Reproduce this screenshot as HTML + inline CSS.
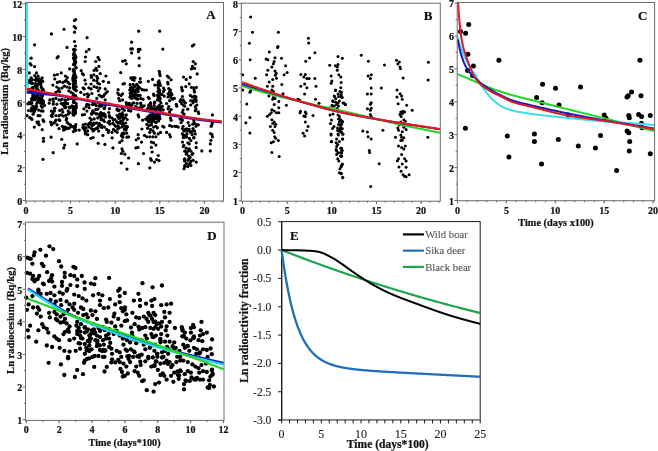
<!DOCTYPE html><html><head><meta charset="utf-8"><style>html,body{margin:0;padding:0;background:#fff;}svg{display:block;will-change:transform;}</style></head><body><svg width="658" height="451" viewBox="0 0 658 451"><rect width="658" height="451" fill="#fff"/><g fill="#000"><circle cx="75.7" cy="19.5" r="1.6"/><circle cx="74.5" cy="20.5" r="1.6"/><circle cx="74.2" cy="26.6" r="1.6"/><circle cx="75.7" cy="28.1" r="1.6"/><circle cx="74.5" cy="32.2" r="1.6"/><circle cx="64.0" cy="29.3" r="1.6"/><circle cx="51.4" cy="33.9" r="1.6"/><circle cx="34.6" cy="44.8" r="1.6"/><circle cx="87.1" cy="37.7" r="1.6"/><circle cx="74.5" cy="41.5" r="1.6"/><circle cx="75.4" cy="46.0" r="1.6"/><circle cx="67.0" cy="47.4" r="1.6"/><circle cx="89.0" cy="49.4" r="1.6"/><circle cx="86.3" cy="51.7" r="1.6"/><circle cx="85.5" cy="57.0" r="1.6"/><circle cx="85.2" cy="61.5" r="1.6"/><circle cx="98.0" cy="57.4" r="1.6"/><circle cx="99.2" cy="59.7" r="1.6"/><circle cx="95.7" cy="61.5" r="1.6"/><circle cx="98.9" cy="66.4" r="1.6"/><circle cx="58.2" cy="56.5" r="1.6"/><circle cx="57.1" cy="57.8" r="1.6"/><circle cx="31.1" cy="58.2" r="1.6"/><circle cx="30.1" cy="63.5" r="1.6"/><circle cx="31.1" cy="65.0" r="1.6"/><circle cx="34.6" cy="66.6" r="1.6"/><circle cx="122.8" cy="61.2" r="1.6"/><circle cx="138.7" cy="31.2" r="1.6"/><circle cx="159.7" cy="31.2" r="1.6"/><circle cx="131.6" cy="42.2" r="1.6"/><circle cx="130.8" cy="48.9" r="1.6"/><circle cx="132.4" cy="48.9" r="1.6"/><circle cx="131.6" cy="52.9" r="1.6"/><circle cx="138.4" cy="49.4" r="1.6"/><circle cx="140.0" cy="49.4" r="1.6"/><circle cx="138.4" cy="51.7" r="1.6"/><circle cx="162.8" cy="49.1" r="1.6"/><circle cx="139.2" cy="58.1" r="1.6"/><circle cx="139.2" cy="65.7" r="1.6"/><circle cx="125.2" cy="60.5" r="1.6"/><circle cx="126.3" cy="63.8" r="1.6"/><circle cx="192.4" cy="45.9" r="1.6"/><circle cx="193.9" cy="44.8" r="1.6"/><circle cx="193.2" cy="61.6" r="1.6"/><circle cx="195.4" cy="63.8" r="1.6"/><circle cx="192.4" cy="66.4" r="1.6"/><circle cx="74.5" cy="59.6" r="1.6"/><circle cx="75.8" cy="57.8" r="1.6"/><circle cx="74.7" cy="60.2" r="1.6"/><circle cx="73.8" cy="58.7" r="1.6"/><circle cx="75.0" cy="64.1" r="1.6"/><circle cx="73.6" cy="54.8" r="1.6"/><circle cx="73.5" cy="64.4" r="1.6"/><circle cx="75.2" cy="49.8" r="1.6"/><circle cx="76.0" cy="67.3" r="1.6"/><circle cx="75.1" cy="60.7" r="1.6"/><circle cx="73.7" cy="49.3" r="1.6"/><circle cx="74.7" cy="50.1" r="1.6"/><circle cx="73.8" cy="53.6" r="1.6"/><circle cx="73.4" cy="57.8" r="1.6"/><circle cx="74.5" cy="65.0" r="1.6"/><circle cx="74.7" cy="61.2" r="1.6"/><circle cx="74.6" cy="61.6" r="1.6"/><circle cx="74.5" cy="54.3" r="1.6"/><circle cx="76.0" cy="67.9" r="1.6"/><circle cx="75.6" cy="62.4" r="1.6"/><circle cx="74.2" cy="53.4" r="1.6"/><circle cx="74.1" cy="50.3" r="1.6"/><circle cx="75.4" cy="56.6" r="1.6"/><circle cx="75.6" cy="56.3" r="1.6"/><circle cx="76.2" cy="107.8" r="1.6"/><circle cx="72.9" cy="77.9" r="1.6"/><circle cx="76.0" cy="90.1" r="1.6"/><circle cx="76.2" cy="86.7" r="1.6"/><circle cx="73.1" cy="97.6" r="1.6"/><circle cx="75.5" cy="80.7" r="1.6"/><circle cx="73.2" cy="83.6" r="1.6"/><circle cx="76.2" cy="103.6" r="1.6"/><circle cx="73.3" cy="79.6" r="1.6"/><circle cx="73.2" cy="70.8" r="1.6"/><circle cx="75.6" cy="76.4" r="1.6"/><circle cx="74.8" cy="89.0" r="1.6"/><circle cx="73.5" cy="102.4" r="1.6"/><circle cx="73.3" cy="98.3" r="1.6"/><circle cx="73.3" cy="87.8" r="1.6"/><circle cx="73.6" cy="80.7" r="1.6"/><circle cx="76.2" cy="105.8" r="1.6"/><circle cx="73.9" cy="109.6" r="1.6"/><circle cx="73.6" cy="86.5" r="1.6"/><circle cx="75.8" cy="98.2" r="1.6"/><circle cx="73.2" cy="114.5" r="1.6"/><circle cx="73.6" cy="80.1" r="1.6"/><circle cx="75.5" cy="83.5" r="1.6"/><circle cx="73.9" cy="71.4" r="1.6"/><circle cx="73.2" cy="95.4" r="1.6"/><circle cx="73.7" cy="96.3" r="1.6"/><circle cx="74.2" cy="89.3" r="1.6"/><circle cx="76.2" cy="90.7" r="1.6"/><circle cx="74.9" cy="108.7" r="1.6"/><circle cx="73.5" cy="75.2" r="1.6"/><circle cx="76.0" cy="106.4" r="1.6"/><circle cx="73.7" cy="76.9" r="1.6"/><circle cx="75.4" cy="112.2" r="1.6"/><circle cx="73.6" cy="112.7" r="1.6"/><circle cx="75.9" cy="96.4" r="1.6"/><circle cx="74.3" cy="72.9" r="1.6"/><circle cx="73.0" cy="113.2" r="1.6"/><circle cx="73.7" cy="101.1" r="1.6"/><circle cx="73.8" cy="106.7" r="1.6"/><circle cx="74.9" cy="81.8" r="1.6"/><circle cx="73.5" cy="101.9" r="1.6"/><circle cx="73.1" cy="78.7" r="1.6"/><circle cx="74.8" cy="108.1" r="1.6"/><circle cx="75.0" cy="81.2" r="1.6"/><circle cx="76.0" cy="77.6" r="1.6"/><circle cx="73.0" cy="80.7" r="1.6"/><circle cx="74.4" cy="70.8" r="1.6"/><circle cx="73.5" cy="85.3" r="1.6"/><circle cx="74.8" cy="74.2" r="1.6"/><circle cx="74.1" cy="109.9" r="1.6"/><circle cx="76.2" cy="98.9" r="1.6"/><circle cx="75.3" cy="95.5" r="1.6"/><circle cx="73.4" cy="69.6" r="1.6"/><circle cx="73.0" cy="110.8" r="1.6"/><circle cx="75.3" cy="113.3" r="1.6"/><circle cx="73.0" cy="97.9" r="1.6"/><circle cx="74.5" cy="102.3" r="1.6"/><circle cx="74.0" cy="115.0" r="1.6"/><circle cx="73.2" cy="93.7" r="1.6"/><circle cx="75.4" cy="110.3" r="1.6"/><circle cx="75.4" cy="127.0" r="1.6"/><circle cx="75.6" cy="130.6" r="1.6"/><circle cx="74.1" cy="126.6" r="1.6"/><circle cx="76.0" cy="129.8" r="1.6"/><circle cx="74.3" cy="128.4" r="1.6"/><circle cx="75.8" cy="124.7" r="1.6"/><circle cx="98.9" cy="125.2" r="1.6"/><circle cx="97.7" cy="127.7" r="1.6"/><circle cx="84.2" cy="128.0" r="1.6"/><circle cx="108.8" cy="130.7" r="1.6"/><circle cx="101.7" cy="125.3" r="1.6"/><circle cx="101.8" cy="127.4" r="1.6"/><circle cx="93.9" cy="130.2" r="1.6"/><circle cx="84.3" cy="129.3" r="1.6"/><circle cx="82.8" cy="127.6" r="1.6"/><circle cx="95.0" cy="123.5" r="1.6"/><circle cx="100.9" cy="126.5" r="1.6"/><circle cx="98.6" cy="131.1" r="1.6"/><circle cx="29.3" cy="72.9" r="1.6"/><circle cx="36.5" cy="72.9" r="1.6"/><circle cx="34.6" cy="75.6" r="1.6"/><circle cx="38.1" cy="76.0" r="1.6"/><circle cx="31.2" cy="77.9" r="1.6"/><circle cx="36.2" cy="77.9" r="1.6"/><circle cx="42.2" cy="77.9" r="1.6"/><circle cx="39.2" cy="78.6" r="1.6"/><circle cx="32.3" cy="79.8" r="1.6"/><circle cx="33.0" cy="94.8" r="1.6"/><circle cx="31.5" cy="83.3" r="1.6"/><circle cx="42.1" cy="94.3" r="1.6"/><circle cx="35.1" cy="99.6" r="1.6"/><circle cx="33.4" cy="94.5" r="1.6"/><circle cx="31.5" cy="89.2" r="1.6"/><circle cx="40.6" cy="100.1" r="1.6"/><circle cx="41.7" cy="88.1" r="1.6"/><circle cx="37.2" cy="86.6" r="1.6"/><circle cx="30.5" cy="90.7" r="1.6"/><circle cx="41.1" cy="98.6" r="1.6"/><circle cx="39.2" cy="100.9" r="1.6"/><circle cx="32.7" cy="83.3" r="1.6"/><circle cx="35.3" cy="85.7" r="1.6"/><circle cx="31.7" cy="88.8" r="1.6"/><circle cx="37.9" cy="90.6" r="1.6"/><circle cx="33.2" cy="98.4" r="1.6"/><circle cx="43.2" cy="89.7" r="1.6"/><circle cx="29.6" cy="80.2" r="1.6"/><circle cx="41.6" cy="80.4" r="1.6"/><circle cx="39.1" cy="92.3" r="1.6"/><circle cx="33.1" cy="97.3" r="1.6"/><circle cx="28.8" cy="82.6" r="1.6"/><circle cx="35.3" cy="80.1" r="1.6"/><circle cx="40.9" cy="84.8" r="1.6"/><circle cx="30.6" cy="80.6" r="1.6"/><circle cx="37.9" cy="89.5" r="1.6"/><circle cx="37.9" cy="94.2" r="1.6"/><circle cx="40.6" cy="101.1" r="1.6"/><circle cx="38.8" cy="84.0" r="1.6"/><circle cx="35.6" cy="83.5" r="1.6"/><circle cx="28.7" cy="90.1" r="1.6"/><circle cx="39.2" cy="83.5" r="1.6"/><circle cx="32.6" cy="87.3" r="1.6"/><circle cx="39.0" cy="91.2" r="1.6"/><circle cx="37.7" cy="96.5" r="1.6"/><circle cx="34.4" cy="97.3" r="1.6"/><circle cx="42.1" cy="81.5" r="1.6"/><circle cx="42.5" cy="95.8" r="1.6"/><circle cx="30.4" cy="89.7" r="1.6"/><circle cx="37.9" cy="100.0" r="1.6"/><circle cx="34.2" cy="92.3" r="1.6"/><circle cx="41.7" cy="97.4" r="1.6"/><circle cx="42.7" cy="89.9" r="1.6"/><circle cx="38.3" cy="84.1" r="1.6"/><circle cx="39.3" cy="97.9" r="1.6"/><circle cx="38.1" cy="95.6" r="1.6"/><circle cx="31.7" cy="99.7" r="1.6"/><circle cx="43.2" cy="101.5" r="1.6"/><circle cx="36.6" cy="97.3" r="1.6"/><circle cx="33.3" cy="100.0" r="1.6"/><circle cx="41.3" cy="87.3" r="1.6"/><circle cx="29.7" cy="89.4" r="1.6"/><circle cx="36.8" cy="96.8" r="1.6"/><circle cx="35.8" cy="80.1" r="1.6"/><circle cx="40.6" cy="80.9" r="1.6"/><circle cx="40.5" cy="83.4" r="1.6"/><circle cx="33.5" cy="97.2" r="1.6"/><circle cx="30.6" cy="82.8" r="1.6"/><circle cx="36.2" cy="95.8" r="1.6"/><circle cx="41.1" cy="95.0" r="1.6"/><circle cx="42.7" cy="90.6" r="1.6"/><circle cx="42.7" cy="81.4" r="1.6"/><circle cx="31.8" cy="91.3" r="1.6"/><circle cx="32.9" cy="95.9" r="1.6"/><circle cx="38.1" cy="91.3" r="1.6"/><circle cx="41.2" cy="92.1" r="1.6"/><circle cx="33.2" cy="88.1" r="1.6"/><circle cx="41.2" cy="99.8" r="1.6"/><circle cx="31.6" cy="98.6" r="1.6"/><circle cx="43.0" cy="91.3" r="1.6"/><circle cx="37.1" cy="84.0" r="1.6"/><circle cx="36.5" cy="90.8" r="1.6"/><circle cx="37.6" cy="80.1" r="1.6"/><circle cx="43.0" cy="91.1" r="1.6"/><circle cx="34.5" cy="97.5" r="1.6"/><circle cx="36.9" cy="90.5" r="1.6"/><circle cx="38.9" cy="81.0" r="1.6"/><circle cx="36.6" cy="88.8" r="1.6"/><circle cx="42.9" cy="100.3" r="1.6"/><circle cx="32.5" cy="90.1" r="1.6"/><circle cx="30.4" cy="89.3" r="1.6"/><circle cx="40.7" cy="99.8" r="1.6"/><circle cx="35.6" cy="86.6" r="1.6"/><circle cx="54.4" cy="75.2" r="1.6"/><circle cx="57.4" cy="74.5" r="1.6"/><circle cx="61.2" cy="72.9" r="1.6"/><circle cx="54.8" cy="79.0" r="1.6"/><circle cx="65.4" cy="76.0" r="1.6"/><circle cx="67.3" cy="77.5" r="1.6"/><circle cx="66.2" cy="80.2" r="1.6"/><circle cx="52.9" cy="85.1" r="1.6"/><circle cx="57.4" cy="82.4" r="1.6"/><circle cx="59.7" cy="81.7" r="1.6"/><circle cx="62.8" cy="82.4" r="1.6"/><circle cx="65.0" cy="81.3" r="1.6"/><circle cx="68.1" cy="82.4" r="1.6"/><circle cx="69.6" cy="84.0" r="1.6"/><circle cx="56.7" cy="87.0" r="1.6"/><circle cx="59.0" cy="88.5" r="1.6"/><circle cx="62.0" cy="88.1" r="1.6"/><circle cx="64.3" cy="86.2" r="1.6"/><circle cx="66.9" cy="87.0" r="1.6"/><circle cx="69.6" cy="87.8" r="1.6"/><circle cx="68.8" cy="90.8" r="1.6"/><circle cx="71.1" cy="92.3" r="1.6"/><circle cx="58.2" cy="90.8" r="1.6"/><circle cx="59.7" cy="91.6" r="1.6"/><circle cx="55.9" cy="92.3" r="1.6"/><circle cx="49.8" cy="99.9" r="1.6"/><circle cx="52.9" cy="99.2" r="1.6"/><circle cx="55.9" cy="98.4" r="1.6"/><circle cx="59.0" cy="99.9" r="1.6"/><circle cx="62.0" cy="99.2" r="1.6"/><circle cx="65.0" cy="99.9" r="1.6"/><circle cx="68.1" cy="99.2" r="1.6"/><circle cx="71.1" cy="98.4" r="1.6"/><circle cx="69.6" cy="68.8" r="1.6"/><circle cx="81.2" cy="70.7" r="1.6"/><circle cx="82.4" cy="73.7" r="1.6"/><circle cx="83.5" cy="74.8" r="1.6"/><circle cx="85.0" cy="80.2" r="1.6"/><circle cx="85.8" cy="84.0" r="1.6"/><circle cx="83.1" cy="87.8" r="1.6"/><circle cx="84.3" cy="88.9" r="1.6"/><circle cx="80.8" cy="92.3" r="1.6"/><circle cx="84.3" cy="94.6" r="1.6"/><circle cx="87.3" cy="93.8" r="1.6"/><circle cx="88.8" cy="95.0" r="1.6"/><circle cx="91.9" cy="93.5" r="1.6"/><circle cx="87.7" cy="96.9" r="1.6"/><circle cx="94.1" cy="70.3" r="1.6"/><circle cx="96.8" cy="70.3" r="1.6"/><circle cx="96.0" cy="68.4" r="1.6"/><circle cx="91.1" cy="75.6" r="1.6"/><circle cx="93.8" cy="74.8" r="1.6"/><circle cx="96.8" cy="76.4" r="1.6"/><circle cx="91.5" cy="77.5" r="1.6"/><circle cx="93.8" cy="80.2" r="1.6"/><circle cx="97.6" cy="78.3" r="1.6"/><circle cx="96.8" cy="80.9" r="1.6"/><circle cx="100.2" cy="73.7" r="1.6"/><circle cx="91.1" cy="84.0" r="1.6"/><circle cx="97.9" cy="83.2" r="1.6"/><circle cx="99.5" cy="84.0" r="1.6"/><circle cx="88.8" cy="87.8" r="1.6"/><circle cx="91.1" cy="88.9" r="1.6"/><circle cx="94.1" cy="86.6" r="1.6"/><circle cx="96.8" cy="87.4" r="1.6"/><circle cx="99.8" cy="88.1" r="1.6"/><circle cx="98.3" cy="90.8" r="1.6"/><circle cx="103.3" cy="81.3" r="1.6"/><circle cx="105.9" cy="76.0" r="1.6"/><circle cx="108.6" cy="82.4" r="1.6"/><circle cx="105.2" cy="88.9" r="1.6"/><circle cx="107.4" cy="91.6" r="1.6"/><circle cx="105.9" cy="93.1" r="1.6"/><circle cx="104.4" cy="94.6" r="1.6"/><circle cx="103.6" cy="96.1" r="1.6"/><circle cx="99.1" cy="95.0" r="1.6"/><circle cx="100.6" cy="96.1" r="1.6"/><circle cx="102.1" cy="96.9" r="1.6"/><circle cx="96.8" cy="98.4" r="1.6"/><circle cx="105.2" cy="99.9" r="1.6"/><circle cx="120.7" cy="72.6" r="1.6"/><circle cx="123.0" cy="84.0" r="1.6"/><circle cx="118.1" cy="89.7" r="1.6"/><circle cx="117.7" cy="93.1" r="1.6"/><circle cx="118.8" cy="94.6" r="1.6"/><circle cx="121.1" cy="95.4" r="1.6"/><circle cx="122.6" cy="93.8" r="1.6"/><circle cx="118.8" cy="98.4" r="1.6"/><circle cx="119.6" cy="100.7" r="1.6"/><circle cx="122.6" cy="99.9" r="1.6"/><circle cx="130.8" cy="77.9" r="1.6"/><circle cx="133.1" cy="77.5" r="1.6"/><circle cx="135.0" cy="77.9" r="1.6"/><circle cx="132.4" cy="79.4" r="1.6"/><circle cx="133.9" cy="80.2" r="1.6"/><circle cx="140.3" cy="78.6" r="1.6"/><circle cx="139.6" cy="82.1" r="1.6"/><circle cx="140.7" cy="82.1" r="1.6"/><circle cx="124.4" cy="83.6" r="1.6"/><circle cx="130.1" cy="84.7" r="1.6"/><circle cx="133.1" cy="84.3" r="1.6"/><circle cx="134.6" cy="86.2" r="1.6"/><circle cx="130.5" cy="87.8" r="1.6"/><circle cx="132.4" cy="88.1" r="1.6"/><circle cx="129.7" cy="90.0" r="1.6"/><circle cx="131.2" cy="90.4" r="1.6"/><circle cx="133.5" cy="90.0" r="1.6"/><circle cx="136.2" cy="90.8" r="1.6"/><circle cx="138.1" cy="91.6" r="1.6"/><circle cx="131.6" cy="93.1" r="1.6"/><circle cx="134.6" cy="92.3" r="1.6"/><circle cx="130.8" cy="96.1" r="1.6"/><circle cx="133.1" cy="95.7" r="1.6"/><circle cx="135.4" cy="95.4" r="1.6"/><circle cx="137.7" cy="96.1" r="1.6"/><circle cx="140.0" cy="95.4" r="1.6"/><circle cx="131.6" cy="98.4" r="1.6"/><circle cx="134.6" cy="98.0" r="1.6"/><circle cx="137.7" cy="99.2" r="1.6"/><circle cx="140.7" cy="98.4" r="1.6"/><circle cx="143.0" cy="99.2" r="1.6"/><circle cx="140.0" cy="88.1" r="1.6"/><circle cx="142.2" cy="89.7" r="1.6"/><circle cx="144.1" cy="90.0" r="1.6"/><circle cx="146.4" cy="90.0" r="1.6"/><circle cx="148.3" cy="81.3" r="1.6"/><circle cx="152.5" cy="79.4" r="1.6"/><circle cx="148.3" cy="97.3" r="1.6"/><circle cx="149.1" cy="98.4" r="1.6"/><circle cx="153.6" cy="94.2" r="1.6"/><circle cx="154.0" cy="95.4" r="1.6"/><circle cx="159.3" cy="71.4" r="1.6"/><circle cx="159.7" cy="73.7" r="1.6"/><circle cx="160.1" cy="75.6" r="1.6"/><circle cx="159.0" cy="80.9" r="1.6"/><circle cx="158.2" cy="82.4" r="1.6"/><circle cx="159.7" cy="83.2" r="1.6"/><circle cx="154.8" cy="85.1" r="1.6"/><circle cx="157.4" cy="85.1" r="1.6"/><circle cx="159.3" cy="85.5" r="1.6"/><circle cx="160.5" cy="85.5" r="1.6"/><circle cx="158.2" cy="87.8" r="1.6"/><circle cx="159.0" cy="89.3" r="1.6"/><circle cx="159.7" cy="90.8" r="1.6"/><circle cx="157.8" cy="91.6" r="1.6"/><circle cx="159.0" cy="93.1" r="1.6"/><circle cx="160.5" cy="93.8" r="1.6"/><circle cx="157.4" cy="95.4" r="1.6"/><circle cx="159.3" cy="96.1" r="1.6"/><circle cx="158.2" cy="97.6" r="1.6"/><circle cx="160.1" cy="98.4" r="1.6"/><circle cx="157.4" cy="99.9" r="1.6"/><circle cx="159.7" cy="100.7" r="1.6"/><circle cx="163.5" cy="88.1" r="1.6"/><circle cx="164.3" cy="90.0" r="1.6"/><circle cx="163.5" cy="91.6" r="1.6"/><circle cx="162.0" cy="94.6" r="1.6"/><circle cx="164.3" cy="96.1" r="1.6"/><circle cx="167.3" cy="76.0" r="1.6"/><circle cx="168.8" cy="77.5" r="1.6"/><circle cx="171.1" cy="79.8" r="1.6"/><circle cx="167.7" cy="82.4" r="1.6"/><circle cx="168.1" cy="84.0" r="1.6"/><circle cx="168.8" cy="88.5" r="1.6"/><circle cx="170.4" cy="90.0" r="1.6"/><circle cx="169.6" cy="91.6" r="1.6"/><circle cx="171.1" cy="93.1" r="1.6"/><circle cx="168.1" cy="93.8" r="1.6"/><circle cx="169.6" cy="95.4" r="1.6"/><circle cx="171.9" cy="94.6" r="1.6"/><circle cx="168.1" cy="96.9" r="1.6"/><circle cx="171.1" cy="97.6" r="1.6"/><circle cx="172.6" cy="99.2" r="1.6"/><circle cx="169.6" cy="100.7" r="1.6"/><circle cx="130.9" cy="95.1" r="1.6"/><circle cx="138.3" cy="86.3" r="1.6"/><circle cx="136.8" cy="84.4" r="1.6"/><circle cx="130.9" cy="88.1" r="1.6"/><circle cx="135.9" cy="89.8" r="1.6"/><circle cx="132.6" cy="95.2" r="1.6"/><circle cx="130.0" cy="97.2" r="1.6"/><circle cx="130.2" cy="93.2" r="1.6"/><circle cx="131.5" cy="87.6" r="1.6"/><circle cx="134.3" cy="91.9" r="1.6"/><circle cx="132.8" cy="91.4" r="1.6"/><circle cx="134.3" cy="86.9" r="1.6"/><circle cx="131.0" cy="95.4" r="1.6"/><circle cx="135.4" cy="93.5" r="1.6"/><circle cx="137.5" cy="95.0" r="1.6"/><circle cx="137.6" cy="88.2" r="1.6"/><circle cx="136.4" cy="98.6" r="1.6"/><circle cx="138.0" cy="89.7" r="1.6"/><circle cx="191.5" cy="68.8" r="1.6"/><circle cx="194.5" cy="68.4" r="1.6"/><circle cx="197.2" cy="73.9" r="1.6"/><circle cx="183.5" cy="77.1" r="1.6"/><circle cx="186.2" cy="79.4" r="1.6"/><circle cx="190.3" cy="77.3" r="1.6"/><circle cx="189.2" cy="83.8" r="1.6"/><circle cx="181.6" cy="87.4" r="1.6"/><circle cx="182.0" cy="89.7" r="1.6"/><circle cx="182.4" cy="90.8" r="1.6"/><circle cx="185.8" cy="86.6" r="1.6"/><circle cx="191.5" cy="87.4" r="1.6"/><circle cx="193.8" cy="87.8" r="1.6"/><circle cx="196.4" cy="87.4" r="1.6"/><circle cx="194.1" cy="90.0" r="1.6"/><circle cx="194.5" cy="91.9" r="1.6"/><circle cx="174.4" cy="98.4" r="1.6"/><circle cx="182.4" cy="96.5" r="1.6"/><circle cx="180.8" cy="99.5" r="1.6"/><circle cx="183.1" cy="99.9" r="1.6"/><circle cx="183.9" cy="101.4" r="1.6"/><circle cx="180.1" cy="101.4" r="1.6"/><circle cx="190.3" cy="95.4" r="1.6"/><circle cx="192.2" cy="96.9" r="1.6"/><circle cx="194.5" cy="96.1" r="1.6"/><circle cx="196.0" cy="96.9" r="1.6"/><circle cx="194.9" cy="98.4" r="1.6"/><circle cx="196.0" cy="99.9" r="1.6"/><circle cx="193.4" cy="100.7" r="1.6"/><circle cx="190.7" cy="100.7" r="1.6"/><circle cx="196.0" cy="101.4" r="1.6"/><circle cx="27.0" cy="115.7" r="1.6"/><circle cx="29.7" cy="117.6" r="1.6"/><circle cx="31.2" cy="118.3" r="1.6"/><circle cx="32.0" cy="119.5" r="1.6"/><circle cx="33.1" cy="114.2" r="1.6"/><circle cx="33.9" cy="111.9" r="1.6"/><circle cx="34.6" cy="111.1" r="1.6"/><circle cx="38.1" cy="115.7" r="1.6"/><circle cx="40.0" cy="115.7" r="1.6"/><circle cx="36.9" cy="122.1" r="1.6"/><circle cx="38.4" cy="121.8" r="1.6"/><circle cx="38.1" cy="123.7" r="1.6"/><circle cx="39.2" cy="124.8" r="1.6"/><circle cx="43.0" cy="119.9" r="1.6"/><circle cx="43.8" cy="121.4" r="1.6"/><circle cx="34.3" cy="127.1" r="1.6"/><circle cx="42.2" cy="129.7" r="1.6"/><circle cx="43.0" cy="111.1" r="1.6"/><circle cx="44.5" cy="105.4" r="1.6"/><circle cx="42.2" cy="107.3" r="1.6"/><circle cx="32.7" cy="110.3" r="1.6"/><circle cx="31.1" cy="111.0" r="1.6"/><circle cx="42.1" cy="103.2" r="1.6"/><circle cx="31.4" cy="108.5" r="1.6"/><circle cx="31.8" cy="102.9" r="1.6"/><circle cx="41.2" cy="105.8" r="1.6"/><circle cx="40.5" cy="103.1" r="1.6"/><circle cx="34.1" cy="108.2" r="1.6"/><circle cx="27.8" cy="103.8" r="1.6"/><circle cx="38.8" cy="110.2" r="1.6"/><circle cx="43.5" cy="103.0" r="1.6"/><circle cx="35.8" cy="108.8" r="1.6"/><circle cx="35.8" cy="108.2" r="1.6"/><circle cx="30.6" cy="102.6" r="1.6"/><circle cx="29.3" cy="102.3" r="1.6"/><circle cx="36.6" cy="106.6" r="1.6"/><circle cx="36.9" cy="103.3" r="1.6"/><circle cx="30.5" cy="103.8" r="1.6"/><circle cx="41.4" cy="110.9" r="1.6"/><circle cx="42.8" cy="102.9" r="1.6"/><circle cx="28.5" cy="110.6" r="1.6"/><circle cx="35.1" cy="108.9" r="1.6"/><circle cx="32.9" cy="106.2" r="1.6"/><circle cx="36.0" cy="105.9" r="1.6"/><circle cx="37.4" cy="102.1" r="1.6"/><circle cx="51.4" cy="111.1" r="1.6"/><circle cx="52.9" cy="113.4" r="1.6"/><circle cx="54.4" cy="111.1" r="1.6"/><circle cx="55.9" cy="115.7" r="1.6"/><circle cx="52.1" cy="116.4" r="1.6"/><circle cx="51.4" cy="115.3" r="1.6"/><circle cx="59.0" cy="115.7" r="1.6"/><circle cx="61.2" cy="114.9" r="1.6"/><circle cx="63.5" cy="116.1" r="1.6"/><circle cx="65.8" cy="115.3" r="1.6"/><circle cx="68.1" cy="114.2" r="1.6"/><circle cx="69.6" cy="112.6" r="1.6"/><circle cx="68.1" cy="111.1" r="1.6"/><circle cx="59.7" cy="110.4" r="1.6"/><circle cx="62.0" cy="109.6" r="1.6"/><circle cx="62.8" cy="111.9" r="1.6"/><circle cx="66.6" cy="118.3" r="1.6"/><circle cx="66.2" cy="119.9" r="1.6"/><circle cx="59.0" cy="119.5" r="1.6"/><circle cx="59.7" cy="120.6" r="1.6"/><circle cx="55.9" cy="120.2" r="1.6"/><circle cx="55.2" cy="121.8" r="1.6"/><circle cx="50.6" cy="122.1" r="1.6"/><circle cx="52.1" cy="123.7" r="1.6"/><circle cx="51.4" cy="124.8" r="1.6"/><circle cx="54.0" cy="122.9" r="1.6"/><circle cx="57.1" cy="124.8" r="1.6"/><circle cx="59.0" cy="128.6" r="1.6"/><circle cx="62.4" cy="126.3" r="1.6"/><circle cx="63.5" cy="127.5" r="1.6"/><circle cx="65.0" cy="127.1" r="1.6"/><circle cx="66.6" cy="127.8" r="1.6"/><circle cx="68.1" cy="128.6" r="1.6"/><circle cx="69.6" cy="127.8" r="1.6"/><circle cx="63.5" cy="130.1" r="1.6"/><circle cx="65.0" cy="129.4" r="1.6"/><circle cx="67.3" cy="122.5" r="1.6"/><circle cx="68.8" cy="124.0" r="1.6"/><circle cx="70.4" cy="124.8" r="1.6"/><circle cx="71.9" cy="126.3" r="1.6"/><circle cx="73.4" cy="108.1" r="1.6"/><circle cx="73.4" cy="114.9" r="1.6"/><circle cx="73.4" cy="131.6" r="1.6"/><circle cx="65.1" cy="107.6" r="1.6"/><circle cx="53.2" cy="104.1" r="1.6"/><circle cx="66.0" cy="103.6" r="1.6"/><circle cx="53.5" cy="101.5" r="1.6"/><circle cx="60.8" cy="100.1" r="1.6"/><circle cx="69.5" cy="107.2" r="1.6"/><circle cx="65.2" cy="107.7" r="1.6"/><circle cx="63.5" cy="103.6" r="1.6"/><circle cx="62.8" cy="104.5" r="1.6"/><circle cx="71.6" cy="107.2" r="1.6"/><circle cx="54.9" cy="108.2" r="1.6"/><circle cx="66.1" cy="107.0" r="1.6"/><circle cx="67.7" cy="103.7" r="1.6"/><circle cx="69.6" cy="107.9" r="1.6"/><circle cx="65.0" cy="106.9" r="1.6"/><circle cx="66.6" cy="103.7" r="1.6"/><circle cx="65.6" cy="100.6" r="1.6"/><circle cx="56.9" cy="104.2" r="1.6"/><circle cx="49.2" cy="103.2" r="1.6"/><circle cx="63.7" cy="105.6" r="1.6"/><circle cx="54.3" cy="108.5" r="1.6"/><circle cx="64.3" cy="103.0" r="1.6"/><circle cx="64.2" cy="105.1" r="1.6"/><circle cx="61.3" cy="103.5" r="1.6"/><circle cx="72.0" cy="105.8" r="1.6"/><circle cx="83.9" cy="108.8" r="1.6"/><circle cx="86.9" cy="111.1" r="1.6"/><circle cx="82.4" cy="114.9" r="1.6"/><circle cx="84.6" cy="114.5" r="1.6"/><circle cx="86.9" cy="104.3" r="1.6"/><circle cx="86.2" cy="106.6" r="1.6"/><circle cx="83.1" cy="124.8" r="1.6"/><circle cx="85.4" cy="124.0" r="1.6"/><circle cx="87.7" cy="124.8" r="1.6"/><circle cx="90.0" cy="124.0" r="1.6"/><circle cx="92.2" cy="125.6" r="1.6"/><circle cx="83.9" cy="127.1" r="1.6"/><circle cx="86.2" cy="127.8" r="1.6"/><circle cx="89.2" cy="127.1" r="1.6"/><circle cx="91.5" cy="128.6" r="1.6"/><circle cx="93.8" cy="129.4" r="1.6"/><circle cx="96.0" cy="128.6" r="1.6"/><circle cx="97.6" cy="128.2" r="1.6"/><circle cx="84.6" cy="130.1" r="1.6"/><circle cx="87.7" cy="130.9" r="1.6"/><circle cx="85.4" cy="132.4" r="1.6"/><circle cx="93.0" cy="130.9" r="1.6"/><circle cx="79.3" cy="130.1" r="1.6"/><circle cx="85.4" cy="133.9" r="1.6"/><circle cx="87.7" cy="134.7" r="1.6"/><circle cx="104.4" cy="127.1" r="1.6"/><circle cx="106.7" cy="129.4" r="1.6"/><circle cx="108.2" cy="132.4" r="1.6"/><circle cx="102.9" cy="135.4" r="1.6"/><circle cx="112.0" cy="118.0" r="1.6"/><circle cx="113.5" cy="120.2" r="1.6"/><circle cx="115.0" cy="119.5" r="1.6"/><circle cx="112.8" cy="123.3" r="1.6"/><circle cx="114.3" cy="124.8" r="1.6"/><circle cx="115.8" cy="126.3" r="1.6"/><circle cx="113.5" cy="129.4" r="1.6"/><circle cx="115.4" cy="130.9" r="1.6"/><circle cx="112.0" cy="132.4" r="1.6"/><circle cx="103.4" cy="119.9" r="1.6"/><circle cx="109.6" cy="104.0" r="1.6"/><circle cx="101.5" cy="119.4" r="1.6"/><circle cx="93.6" cy="112.1" r="1.6"/><circle cx="89.1" cy="107.7" r="1.6"/><circle cx="96.3" cy="105.6" r="1.6"/><circle cx="93.5" cy="123.0" r="1.6"/><circle cx="100.1" cy="114.4" r="1.6"/><circle cx="109.3" cy="115.7" r="1.6"/><circle cx="109.9" cy="117.2" r="1.6"/><circle cx="105.8" cy="105.1" r="1.6"/><circle cx="101.1" cy="119.8" r="1.6"/><circle cx="89.0" cy="123.5" r="1.6"/><circle cx="91.5" cy="113.6" r="1.6"/><circle cx="91.7" cy="114.2" r="1.6"/><circle cx="101.4" cy="104.8" r="1.6"/><circle cx="108.8" cy="112.5" r="1.6"/><circle cx="99.6" cy="116.4" r="1.6"/><circle cx="96.0" cy="109.6" r="1.6"/><circle cx="102.4" cy="115.6" r="1.6"/><circle cx="94.2" cy="118.9" r="1.6"/><circle cx="94.5" cy="103.8" r="1.6"/><circle cx="93.4" cy="104.4" r="1.6"/><circle cx="91.4" cy="119.7" r="1.6"/><circle cx="96.6" cy="122.8" r="1.6"/><circle cx="104.5" cy="104.6" r="1.6"/><circle cx="109.8" cy="123.8" r="1.6"/><circle cx="89.6" cy="123.0" r="1.6"/><circle cx="97.4" cy="113.8" r="1.6"/><circle cx="109.4" cy="108.7" r="1.6"/><circle cx="99.5" cy="123.7" r="1.6"/><circle cx="103.9" cy="113.6" r="1.6"/><circle cx="109.5" cy="121.1" r="1.6"/><circle cx="101.3" cy="106.0" r="1.6"/><circle cx="101.7" cy="113.3" r="1.6"/><circle cx="92.5" cy="104.6" r="1.6"/><circle cx="99.6" cy="106.2" r="1.6"/><circle cx="97.7" cy="117.9" r="1.6"/><circle cx="98.0" cy="109.1" r="1.6"/><circle cx="100.8" cy="112.5" r="1.6"/><circle cx="105.1" cy="114.9" r="1.6"/><circle cx="109.9" cy="124.0" r="1.6"/><circle cx="104.2" cy="108.6" r="1.6"/><circle cx="90.5" cy="122.7" r="1.6"/><circle cx="105.3" cy="116.9" r="1.6"/><circle cx="95.9" cy="109.3" r="1.6"/><circle cx="103.1" cy="115.6" r="1.6"/><circle cx="101.0" cy="117.1" r="1.6"/><circle cx="104.6" cy="107.6" r="1.6"/><circle cx="93.5" cy="124.6" r="1.6"/><circle cx="108.1" cy="122.4" r="1.6"/><circle cx="88.9" cy="104.8" r="1.6"/><circle cx="94.0" cy="112.6" r="1.6"/><circle cx="101.7" cy="105.7" r="1.6"/><circle cx="99.9" cy="105.1" r="1.6"/><circle cx="89.9" cy="118.0" r="1.6"/><circle cx="100.1" cy="117.1" r="1.6"/><circle cx="96.2" cy="113.8" r="1.6"/><circle cx="92.6" cy="110.9" r="1.6"/><circle cx="104.4" cy="121.5" r="1.6"/><circle cx="117.1" cy="110.0" r="1.6"/><circle cx="122.6" cy="124.9" r="1.6"/><circle cx="122.3" cy="112.8" r="1.6"/><circle cx="119.7" cy="114.1" r="1.6"/><circle cx="122.6" cy="117.4" r="1.6"/><circle cx="121.4" cy="135.7" r="1.6"/><circle cx="118.9" cy="122.7" r="1.6"/><circle cx="122.1" cy="133.7" r="1.6"/><circle cx="119.7" cy="117.4" r="1.6"/><circle cx="117.2" cy="132.3" r="1.6"/><circle cx="117.1" cy="108.9" r="1.6"/><circle cx="120.7" cy="120.8" r="1.6"/><circle cx="121.6" cy="115.3" r="1.6"/><circle cx="122.3" cy="108.7" r="1.6"/><circle cx="118.1" cy="126.0" r="1.6"/><circle cx="117.1" cy="115.5" r="1.6"/><circle cx="121.9" cy="127.0" r="1.6"/><circle cx="118.6" cy="110.7" r="1.6"/><circle cx="119.2" cy="127.9" r="1.6"/><circle cx="119.2" cy="110.0" r="1.6"/><circle cx="121.8" cy="123.3" r="1.6"/><circle cx="123.4" cy="134.2" r="1.6"/><circle cx="123.4" cy="119.4" r="1.6"/><circle cx="122.5" cy="115.5" r="1.6"/><circle cx="118.9" cy="118.3" r="1.6"/><circle cx="123.5" cy="132.9" r="1.6"/><circle cx="118.4" cy="117.2" r="1.6"/><circle cx="119.2" cy="117.2" r="1.6"/><circle cx="119.5" cy="117.9" r="1.6"/><circle cx="118.0" cy="123.1" r="1.6"/><circle cx="122.5" cy="122.4" r="1.6"/><circle cx="122.8" cy="123.1" r="1.6"/><circle cx="117.8" cy="128.9" r="1.6"/><circle cx="123.1" cy="114.8" r="1.6"/><circle cx="116.7" cy="121.7" r="1.6"/><circle cx="120.6" cy="123.2" r="1.6"/><circle cx="123.7" cy="125.7" r="1.6"/><circle cx="122.5" cy="108.4" r="1.6"/><circle cx="125.9" cy="130.1" r="1.6"/><circle cx="124.3" cy="110.3" r="1.6"/><circle cx="126.6" cy="133.2" r="1.6"/><circle cx="124.3" cy="125.8" r="1.6"/><circle cx="124.5" cy="128.9" r="1.6"/><circle cx="126.3" cy="114.9" r="1.6"/><circle cx="124.8" cy="129.4" r="1.6"/><circle cx="125.8" cy="129.4" r="1.6"/><circle cx="125.4" cy="117.5" r="1.6"/><circle cx="127.4" cy="126.8" r="1.6"/><circle cx="125.7" cy="123.0" r="1.6"/><circle cx="126.5" cy="127.8" r="1.6"/><circle cx="127.2" cy="119.5" r="1.6"/><circle cx="126.9" cy="126.7" r="1.6"/><circle cx="142.1" cy="106.8" r="1.6"/><circle cx="141.8" cy="107.3" r="1.6"/><circle cx="144.2" cy="105.8" r="1.6"/><circle cx="135.7" cy="106.3" r="1.6"/><circle cx="141.1" cy="104.5" r="1.6"/><circle cx="133.7" cy="102.9" r="1.6"/><circle cx="140.0" cy="107.9" r="1.6"/><circle cx="132.8" cy="103.0" r="1.6"/><circle cx="129.5" cy="104.5" r="1.6"/><circle cx="131.2" cy="107.8" r="1.6"/><circle cx="126.7" cy="103.9" r="1.6"/><circle cx="127.7" cy="105.9" r="1.6"/><circle cx="140.6" cy="103.1" r="1.6"/><circle cx="126.7" cy="104.8" r="1.6"/><circle cx="136.9" cy="107.5" r="1.6"/><circle cx="126.2" cy="102.7" r="1.6"/><circle cx="129.1" cy="103.3" r="1.6"/><circle cx="130.1" cy="106.3" r="1.6"/><circle cx="137.1" cy="103.3" r="1.6"/><circle cx="129.1" cy="103.7" r="1.6"/><circle cx="128.9" cy="106.5" r="1.6"/><circle cx="131.6" cy="105.3" r="1.6"/><circle cx="128.6" cy="110.4" r="1.6"/><circle cx="130.8" cy="111.1" r="1.6"/><circle cx="138.1" cy="114.9" r="1.6"/><circle cx="138.8" cy="116.8" r="1.6"/><circle cx="142.6" cy="120.2" r="1.6"/><circle cx="145.7" cy="119.1" r="1.6"/><circle cx="147.6" cy="117.2" r="1.6"/><circle cx="166.6" cy="103.5" r="1.6"/><circle cx="168.8" cy="106.6" r="1.6"/><circle cx="171.1" cy="109.6" r="1.6"/><circle cx="169.6" cy="111.9" r="1.6"/><circle cx="168.1" cy="108.8" r="1.6"/><circle cx="170.4" cy="118.0" r="1.6"/><circle cx="171.1" cy="120.2" r="1.6"/><circle cx="169.6" cy="125.6" r="1.6"/><circle cx="171.9" cy="126.3" r="1.6"/><circle cx="146.8" cy="124.4" r="1.6"/><circle cx="149.1" cy="125.6" r="1.6"/><circle cx="151.4" cy="124.8" r="1.6"/><circle cx="153.6" cy="127.1" r="1.6"/><circle cx="155.9" cy="126.3" r="1.6"/><circle cx="157.4" cy="127.8" r="1.6"/><circle cx="150.6" cy="129.4" r="1.6"/><circle cx="147.6" cy="128.2" r="1.6"/><circle cx="152.9" cy="130.9" r="1.6"/><circle cx="149.8" cy="132.4" r="1.6"/><circle cx="154.4" cy="133.2" r="1.6"/><circle cx="158.2" cy="133.9" r="1.6"/><circle cx="141.9" cy="129.0" r="1.6"/><circle cx="138.1" cy="134.7" r="1.6"/><circle cx="144.5" cy="135.4" r="1.6"/><circle cx="162.8" cy="126.3" r="1.6"/><circle cx="163.9" cy="127.1" r="1.6"/><circle cx="160.5" cy="132.4" r="1.6"/><circle cx="166.6" cy="132.4" r="1.6"/><circle cx="169.6" cy="134.7" r="1.6"/><circle cx="158.3" cy="117.8" r="1.6"/><circle cx="151.5" cy="121.5" r="1.6"/><circle cx="159.5" cy="116.5" r="1.6"/><circle cx="155.0" cy="122.1" r="1.6"/><circle cx="154.2" cy="115.4" r="1.6"/><circle cx="148.9" cy="122.0" r="1.6"/><circle cx="158.1" cy="116.9" r="1.6"/><circle cx="154.7" cy="118.1" r="1.6"/><circle cx="151.6" cy="122.4" r="1.6"/><circle cx="156.3" cy="115.6" r="1.6"/><circle cx="148.4" cy="117.7" r="1.6"/><circle cx="152.8" cy="120.7" r="1.6"/><circle cx="157.0" cy="118.9" r="1.6"/><circle cx="150.2" cy="114.8" r="1.6"/><circle cx="152.2" cy="115.8" r="1.6"/><circle cx="158.9" cy="118.1" r="1.6"/><circle cx="156.1" cy="122.4" r="1.6"/><circle cx="151.6" cy="118.3" r="1.6"/><circle cx="150.1" cy="120.4" r="1.6"/><circle cx="148.3" cy="120.9" r="1.6"/><circle cx="158.6" cy="120.9" r="1.6"/><circle cx="149.3" cy="115.9" r="1.6"/><circle cx="157.0" cy="114.3" r="1.6"/><circle cx="154.2" cy="117.7" r="1.6"/><circle cx="160.0" cy="118.7" r="1.6"/><circle cx="158.8" cy="116.2" r="1.6"/><circle cx="157.9" cy="117.2" r="1.6"/><circle cx="159.5" cy="114.2" r="1.6"/><circle cx="158.4" cy="115.3" r="1.6"/><circle cx="154.9" cy="118.2" r="1.6"/><circle cx="149.4" cy="117.1" r="1.6"/><circle cx="151.7" cy="108.3" r="1.6"/><circle cx="148.1" cy="108.2" r="1.6"/><circle cx="154.0" cy="115.2" r="1.6"/><circle cx="152.4" cy="114.7" r="1.6"/><circle cx="148.6" cy="109.7" r="1.6"/><circle cx="153.9" cy="119.4" r="1.6"/><circle cx="159.4" cy="114.1" r="1.6"/><circle cx="147.2" cy="109.4" r="1.6"/><circle cx="157.7" cy="107.0" r="1.6"/><circle cx="155.5" cy="110.8" r="1.6"/><circle cx="147.2" cy="119.9" r="1.6"/><circle cx="159.0" cy="106.5" r="1.6"/><circle cx="156.2" cy="107.9" r="1.6"/><circle cx="152.6" cy="112.2" r="1.6"/><circle cx="151.5" cy="108.7" r="1.6"/><circle cx="152.9" cy="114.3" r="1.6"/><circle cx="150.8" cy="106.4" r="1.6"/><circle cx="158.0" cy="108.6" r="1.6"/><circle cx="161.2" cy="112.6" r="1.6"/><circle cx="159.3" cy="105.3" r="1.6"/><circle cx="160.9" cy="102.9" r="1.6"/><circle cx="150.4" cy="102.9" r="1.6"/><circle cx="158.6" cy="109.1" r="1.6"/><circle cx="151.0" cy="106.0" r="1.6"/><circle cx="161.0" cy="107.9" r="1.6"/><circle cx="149.7" cy="104.3" r="1.6"/><circle cx="150.7" cy="103.2" r="1.6"/><circle cx="154.5" cy="102.7" r="1.6"/><circle cx="162.3" cy="106.3" r="1.6"/><circle cx="156.1" cy="108.5" r="1.6"/><circle cx="160.0" cy="110.2" r="1.6"/><circle cx="154.2" cy="105.3" r="1.6"/><circle cx="154.6" cy="102.2" r="1.6"/><circle cx="154.4" cy="109.0" r="1.6"/><circle cx="163.2" cy="109.9" r="1.6"/><circle cx="158.3" cy="108.1" r="1.6"/><circle cx="148.6" cy="105.3" r="1.6"/><circle cx="153.5" cy="108.5" r="1.6"/><circle cx="149.9" cy="105.8" r="1.6"/><circle cx="156.0" cy="109.9" r="1.6"/><circle cx="160.8" cy="108.1" r="1.6"/><circle cx="176.3" cy="104.3" r="1.6"/><circle cx="176.7" cy="106.2" r="1.6"/><circle cx="181.6" cy="103.5" r="1.6"/><circle cx="183.1" cy="105.0" r="1.6"/><circle cx="184.6" cy="106.2" r="1.6"/><circle cx="185.4" cy="102.8" r="1.6"/><circle cx="187.7" cy="109.2" r="1.6"/><circle cx="190.7" cy="105.0" r="1.6"/><circle cx="193.0" cy="102.8" r="1.6"/><circle cx="195.3" cy="106.6" r="1.6"/><circle cx="196.8" cy="105.0" r="1.6"/><circle cx="196.0" cy="108.8" r="1.6"/><circle cx="195.3" cy="110.7" r="1.6"/><circle cx="198.3" cy="111.9" r="1.6"/><circle cx="198.7" cy="113.4" r="1.6"/><circle cx="183.1" cy="110.0" r="1.6"/><circle cx="182.4" cy="112.3" r="1.6"/><circle cx="183.9" cy="114.2" r="1.6"/><circle cx="181.6" cy="117.2" r="1.6"/><circle cx="180.1" cy="119.1" r="1.6"/><circle cx="182.4" cy="120.2" r="1.6"/><circle cx="181.2" cy="122.5" r="1.6"/><circle cx="176.3" cy="126.3" r="1.6"/><circle cx="178.2" cy="127.1" r="1.6"/><circle cx="174.8" cy="126.3" r="1.6"/><circle cx="188.1" cy="122.5" r="1.6"/><circle cx="193.8" cy="121.0" r="1.6"/><circle cx="194.5" cy="123.3" r="1.6"/><circle cx="196.8" cy="124.8" r="1.6"/><circle cx="198.3" cy="124.8" r="1.6"/><circle cx="196.0" cy="126.3" r="1.6"/><circle cx="183.1" cy="126.3" r="1.6"/><circle cx="182.4" cy="128.6" r="1.6"/><circle cx="183.9" cy="130.9" r="1.6"/><circle cx="182.4" cy="133.9" r="1.6"/><circle cx="185.4" cy="129.4" r="1.6"/><circle cx="187.7" cy="130.9" r="1.6"/><circle cx="189.2" cy="129.4" r="1.6"/><circle cx="190.7" cy="132.4" r="1.6"/><circle cx="186.9" cy="133.9" r="1.6"/><circle cx="193.0" cy="128.6" r="1.6"/><circle cx="194.5" cy="130.9" r="1.6"/><circle cx="195.3" cy="133.9" r="1.6"/><circle cx="192.2" cy="134.7" r="1.6"/><circle cx="183.9" cy="135.4" r="1.6"/><circle cx="212.4" cy="114.9" r="1.6"/><circle cx="212.4" cy="122.5" r="1.6"/><circle cx="212.0" cy="124.4" r="1.6"/><circle cx="211.2" cy="126.3" r="1.6"/><circle cx="210.5" cy="133.5" r="1.6"/><circle cx="212.0" cy="134.7" r="1.6"/><circle cx="43.5" cy="138.3" r="1.6"/><circle cx="43.5" cy="141.3" r="1.6"/><circle cx="43.0" cy="159.3" r="1.6"/><circle cx="51.1" cy="137.2" r="1.6"/><circle cx="61.7" cy="139.3" r="1.6"/><circle cx="64.7" cy="145.1" r="1.6"/><circle cx="63.8" cy="147.9" r="1.6"/><circle cx="53.2" cy="152.7" r="1.6"/><circle cx="77.2" cy="143.9" r="1.6"/><circle cx="90.9" cy="138.3" r="1.6"/><circle cx="93.1" cy="137.5" r="1.6"/><circle cx="98.2" cy="143.3" r="1.6"/><circle cx="104.9" cy="144.4" r="1.6"/><circle cx="112.1" cy="137.8" r="1.6"/><circle cx="112.9" cy="147.9" r="1.6"/><circle cx="119.7" cy="142.4" r="1.6"/><circle cx="122.0" cy="140.6" r="1.6"/><circle cx="122.8" cy="137.2" r="1.6"/><circle cx="122.0" cy="148.9" r="1.6"/><circle cx="122.8" cy="151.2" r="1.6"/><circle cx="121.3" cy="153.5" r="1.6"/><circle cx="121.3" cy="163.0" r="1.6"/><circle cx="127.0" cy="137.2" r="1.6"/><circle cx="128.6" cy="136.8" r="1.6"/><circle cx="124.8" cy="154.2" r="1.6"/><circle cx="128.6" cy="158.0" r="1.6"/><circle cx="127.0" cy="169.1" r="1.6"/><circle cx="136.2" cy="139.8" r="1.6"/><circle cx="138.4" cy="138.3" r="1.6"/><circle cx="141.5" cy="142.1" r="1.6"/><circle cx="135.9" cy="147.9" r="1.6"/><circle cx="138.0" cy="147.4" r="1.6"/><circle cx="143.5" cy="153.5" r="1.6"/><circle cx="138.4" cy="163.7" r="1.6"/><circle cx="146.8" cy="136.8" r="1.6"/><circle cx="149.8" cy="136.8" r="1.6"/><circle cx="152.9" cy="136.8" r="1.6"/><circle cx="155.9" cy="136.8" r="1.6"/><circle cx="151.4" cy="142.1" r="1.6"/><circle cx="153.6" cy="142.8" r="1.6"/><circle cx="155.9" cy="145.1" r="1.6"/><circle cx="151.4" cy="147.4" r="1.6"/><circle cx="152.1" cy="152.0" r="1.6"/><circle cx="158.2" cy="155.5" r="1.6"/><circle cx="156.7" cy="159.6" r="1.6"/><circle cx="159.0" cy="160.6" r="1.6"/><circle cx="150.6" cy="158.5" r="1.6"/><circle cx="151.4" cy="160.3" r="1.6"/><circle cx="154.4" cy="162.1" r="1.6"/><circle cx="149.8" cy="167.9" r="1.6"/><circle cx="170.4" cy="136.8" r="1.6"/><circle cx="183.3" cy="137.5" r="1.6"/><circle cx="186.3" cy="136.8" r="1.6"/><circle cx="189.3" cy="138.3" r="1.6"/><circle cx="193.9" cy="137.5" r="1.6"/><circle cx="182.5" cy="142.1" r="1.6"/><circle cx="187.8" cy="142.8" r="1.6"/><circle cx="190.9" cy="140.6" r="1.6"/><circle cx="196.2" cy="142.8" r="1.6"/><circle cx="183.3" cy="146.6" r="1.6"/><circle cx="186.3" cy="148.2" r="1.6"/><circle cx="189.3" cy="148.9" r="1.6"/><circle cx="184.8" cy="151.2" r="1.6"/><circle cx="187.8" cy="151.2" r="1.6"/><circle cx="190.9" cy="151.2" r="1.6"/><circle cx="186.3" cy="154.2" r="1.6"/><circle cx="188.6" cy="155.8" r="1.6"/><circle cx="190.1" cy="157.3" r="1.6"/><circle cx="184.8" cy="158.8" r="1.6"/><circle cx="187.8" cy="160.3" r="1.6"/><circle cx="190.9" cy="161.1" r="1.6"/><circle cx="193.1" cy="160.3" r="1.6"/><circle cx="186.3" cy="163.4" r="1.6"/><circle cx="189.3" cy="164.1" r="1.6"/><circle cx="184.8" cy="165.6" r="1.6"/><circle cx="187.8" cy="166.4" r="1.6"/><circle cx="190.9" cy="165.6" r="1.6"/><circle cx="184.0" cy="168.7" r="1.6"/><circle cx="196.2" cy="147.4" r="1.6"/><circle cx="196.2" cy="162.1" r="1.6"/><circle cx="201.8" cy="150.9" r="1.6"/><circle cx="210.3" cy="150.9" r="1.6"/><circle cx="210.3" cy="143.9" r="1.6"/><circle cx="210.9" cy="140.3" r="1.6"/><circle cx="212.4" cy="136.8" r="1.6"/><circle cx="184.6" cy="161.0" r="1.6"/><circle cx="192.0" cy="154.4" r="1.6"/><circle cx="186.5" cy="153.0" r="1.6"/><circle cx="184.4" cy="159.4" r="1.6"/><circle cx="192.9" cy="153.5" r="1.6"/><circle cx="190.2" cy="163.1" r="1.6"/><circle cx="185.0" cy="166.3" r="1.6"/><circle cx="189.3" cy="143.9" r="1.6"/><circle cx="183.8" cy="145.3" r="1.6"/><circle cx="188.8" cy="158.9" r="1.6"/><circle cx="186.3" cy="136.8" r="1.6"/><circle cx="186.7" cy="128.9" r="1.6"/><circle cx="183.6" cy="137.6" r="1.6"/><circle cx="183.8" cy="136.4" r="1.6"/><circle cx="189.1" cy="130.5" r="1.6"/><circle cx="189.3" cy="125.5" r="1.6"/><circle cx="193.8" cy="137.9" r="1.6"/><circle cx="192.6" cy="131.2" r="1.6"/><circle cx="183.6" cy="135.0" r="1.6"/><circle cx="185.8" cy="136.2" r="1.6"/><circle cx="185.1" cy="130.8" r="1.6"/><circle cx="192.8" cy="124.2" r="1.6"/></g>
<path d="M26.50,92.40 L27.00,92.45 L27.50,92.50 L28.00,92.54 L28.50,92.59 L29.00,92.64 L29.50,92.69 L30.00,92.74 L30.50,92.78 L31.00,92.83 L31.50,92.88 L32.00,92.93 L32.50,92.98 L33.00,93.02 L33.50,93.07 L34.00,93.12 L34.50,93.17 L35.00,93.22 L35.50,93.27 L36.00,93.31 L36.50,93.36 L37.00,93.41 L37.50,93.46 L38.00,93.51 L38.50,93.55 L39.00,93.60 L39.50,93.65 L40.00,93.70 L40.51,93.75 L41.02,93.80 L41.54,93.85 L42.05,93.89 L42.56,93.94 L43.07,93.99 L43.58,94.03 L44.09,94.08 L44.61,94.13 L45.12,94.17 L45.63,94.22 L46.14,94.26 L46.65,94.31 L47.16,94.35 L47.68,94.40 L48.19,94.45 L48.70,94.49 L49.21,94.54 L49.72,94.59 L50.24,94.64 L50.75,94.68 L51.26,94.73 L51.77,94.78 L52.28,94.83 L52.79,94.89 L53.31,94.94 L53.82,94.99 L54.33,95.05 L54.84,95.10 L55.35,95.16 L55.86,95.22 L56.38,95.28 L56.89,95.34 L57.40,95.40 L57.90,95.46 L58.40,95.53 L58.91,95.59 L59.41,95.66 L59.91,95.73 L60.41,95.80 L60.92,95.88 L61.42,95.95 L61.92,96.03 L62.42,96.11 L62.92,96.19 L63.43,96.27 L63.93,96.35 L64.43,96.43 L64.93,96.52 L65.44,96.60 L65.94,96.69 L66.44,96.78 L66.94,96.86 L67.44,96.95 L67.95,97.04 L68.45,97.13 L68.95,97.23 L69.45,97.32 L69.96,97.41 L70.46,97.50 L70.96,97.60 L71.46,97.69 L71.96,97.79 L72.47,97.88 L72.97,97.98 L73.47,98.07 L73.97,98.17 L74.48,98.26 L74.98,98.36 L75.48,98.45 L75.98,98.55 L76.48,98.64 L76.99,98.74 L77.49,98.83 L77.99,98.93 L78.49,99.02 L79.00,99.11 L79.50,99.21 L80.00,99.30 L80.50,99.39 L81.00,99.49 L81.50,99.58 L82.00,99.67 L82.50,99.77 L83.00,99.87 L83.50,99.96 L84.00,100.06 L84.50,100.16 L85.00,100.26 L85.50,100.36 L86.00,100.45 L86.50,100.55 L87.00,100.65 L87.50,100.75 L88.00,100.85 L88.50,100.96 L89.00,101.06 L89.50,101.16 L90.00,101.26 L90.50,101.36 L91.00,101.46 L91.50,101.56 L92.00,101.66 L92.50,101.76 L93.00,101.86 L93.50,101.96 L94.00,102.06 L94.50,102.16 L95.00,102.26 L95.50,102.35 L96.00,102.45 L96.50,102.55 L97.00,102.64 L97.50,102.74 L98.00,102.83 L98.50,102.93 L99.00,103.02 L99.50,103.11 L100.00,103.20 L100.50,103.29 L101.00,103.38 L101.50,103.47 L102.00,103.56 L102.50,103.64 L103.00,103.73 L103.50,103.82 L104.00,103.90 L104.50,103.99 L105.00,104.07 L105.50,104.16 L106.00,104.24 L106.50,104.33 L107.00,104.41 L107.50,104.49 L108.00,104.58 L108.50,104.66 L109.00,104.74 L109.50,104.82 L110.00,104.91 L110.50,104.99 L111.00,105.07 L111.50,105.15 L112.00,105.23 L112.50,105.31 L113.00,105.39 L113.50,105.47 L114.00,105.56 L114.50,105.64 L115.00,105.72 L115.50,105.80 L116.00,105.88 L116.50,105.96 L117.00,106.04 L117.50,106.12 L118.00,106.20 L118.50,106.29 L119.00,106.37 L119.50,106.45 L120.00,106.53 L120.50,106.61 L121.00,106.70 L121.50,106.78 L122.00,106.86 L122.50,106.95 L123.00,107.03 L123.50,107.12 L124.00,107.20 L124.50,107.28 L125.00,107.37 L125.50,107.46 L126.00,107.54 L126.50,107.63 L127.00,107.71 L127.50,107.80 L128.00,107.88 L128.50,107.97 L129.00,108.06 L129.50,108.14 L130.00,108.23 L130.50,108.32 L131.00,108.40 L131.50,108.49 L132.00,108.58 L132.50,108.66 L133.00,108.75 L133.50,108.84 L134.00,108.92 L134.50,109.01 L135.00,109.10 L135.50,109.19 L136.00,109.27 L136.50,109.36 L137.00,109.45 L137.50,109.53 L138.00,109.62 L138.50,109.71 L139.00,109.80 L139.50,109.88 L140.00,109.97 L140.50,110.06 L141.00,110.15 L141.50,110.23 L142.00,110.32 L142.50,110.41 L143.00,110.49 L143.50,110.58 L144.00,110.67 L144.50,110.75 L145.00,110.84 L145.50,110.93 L146.00,111.01 L146.50,111.10 L147.00,111.19 L147.50,111.27 L148.00,111.36 L148.50,111.44 L149.00,111.53 L149.50,111.61 L150.00,111.70 L150.50,111.79 L151.00,111.87 L151.50,111.96 L152.00,112.04 L152.50,112.13 L153.00,112.21 L153.50,112.30 L154.00,112.38 L154.50,112.47 L155.00,112.55 L155.50,112.64 L156.00,112.72 L156.50,112.81 L157.00,112.89 L157.50,112.98 L158.00,113.06 L158.50,113.15 L159.00,113.23 L159.50,113.31 L160.00,113.40 L160.50,113.48 L161.00,113.57 L161.50,113.65 L162.00,113.74 L162.50,113.82 L163.00,113.90 L163.50,113.99 L164.00,114.07 L164.50,114.16 L165.00,114.24 L165.50,114.32 L166.00,114.41 L166.50,114.49 L167.00,114.58 L167.50,114.66 L168.00,114.74 L168.50,114.83 L169.00,114.91 L169.50,114.99 L170.00,115.08 L170.50,115.16 L171.00,115.24 L171.50,115.32 L172.00,115.41 L172.50,115.49 L173.00,115.57 L173.50,115.65 L174.00,115.74 L174.50,115.82 L175.00,115.90 L175.50,115.98 L176.00,116.06 L176.50,116.15 L177.00,116.23 L177.50,116.31 L178.00,116.40 L178.50,116.48 L179.00,116.57 L179.50,116.65 L180.00,116.73 L180.50,116.82 L181.00,116.90 L181.50,116.99 L182.00,117.07 L182.50,117.16 L183.00,117.24 L183.50,117.33 L184.00,117.41 L184.50,117.49 L185.00,117.58 L185.50,117.66 L186.00,117.75 L186.50,117.83 L187.00,117.91 L187.50,118.00 L188.00,118.08 L188.50,118.16 L189.00,118.24 L189.50,118.32 L190.00,118.41 L190.50,118.49 L191.00,118.57 L191.50,118.65 L192.00,118.73 L192.50,118.81 L193.00,118.88 L193.50,118.96 L194.00,119.04 L194.50,119.11 L195.00,119.19 L195.50,119.26 L196.00,119.34 L196.50,119.41 L197.00,119.48 L197.50,119.56 L198.00,119.63 L198.50,119.70 L199.00,119.76 L199.50,119.83 L200.00,119.90 L200.51,119.97 L201.01,120.03 L201.52,120.10 L202.03,120.16 L202.53,120.23 L203.04,120.29 L203.55,120.35 L204.06,120.41 L204.56,120.48 L205.07,120.54 L205.58,120.60 L206.08,120.66 L206.59,120.71 L207.10,120.77 L207.60,120.83 L208.11,120.89 L208.62,120.95 L209.13,121.00 L209.63,121.06 L210.14,121.12 L210.65,121.17 L211.15,121.23 L211.66,121.28 L212.17,121.34 L212.67,121.39 L213.18,121.45 L213.69,121.50 L214.20,121.56 L214.70,121.61 L215.21,121.67 L215.72,121.72 L216.22,121.78 L216.73,121.84 L217.24,121.89 L217.74,121.95 L218.25,122.00 L218.76,122.06 L219.27,122.11 L219.77,122.17 L220.28,122.23 L220.79,122.28 L221.29,122.34 L221.80,122.40" fill="none" stroke="#1010c8" stroke-width="2.3" stroke-linejoin="round" stroke-linecap="butt"/>
<path d="M26.60,3.00 L26.60,60.00 L26.80,80.00 L27.50,88.00" fill="none" stroke="#30e6f0" stroke-width="2.6" stroke-linejoin="round" stroke-linecap="butt"/>
<path d="M26.30,89.00 L26.80,89.09 L27.31,89.18 L27.81,89.27 L28.32,89.37 L28.82,89.46 L29.33,89.55 L29.83,89.64 L30.33,89.73 L30.84,89.82 L31.34,89.91 L31.85,90.01 L32.35,90.10 L32.86,90.19 L33.36,90.28 L33.86,90.37 L34.37,90.46 L34.87,90.55 L35.38,90.64 L35.88,90.74 L36.39,90.83 L36.89,90.92 L37.39,91.01 L37.90,91.10 L38.40,91.19 L38.91,91.28 L39.41,91.37 L39.91,91.47 L40.42,91.56 L40.92,91.65 L41.43,91.74 L41.93,91.83 L42.44,91.92 L42.94,92.01 L43.44,92.11 L43.95,92.20 L44.45,92.29 L44.96,92.38 L45.46,92.47 L45.97,92.56 L46.47,92.66 L46.97,92.75 L47.48,92.84 L47.98,92.93 L48.49,93.02 L48.99,93.12 L49.50,93.21 L50.00,93.30 L50.50,93.39 L51.00,93.48 L51.50,93.57 L52.00,93.67 L52.50,93.76 L53.00,93.85 L53.50,93.94 L54.00,94.03 L54.50,94.13 L55.00,94.22 L55.50,94.31 L56.00,94.40 L56.50,94.50 L57.00,94.59 L57.50,94.68 L58.00,94.77 L58.50,94.87 L59.00,94.96 L59.50,95.05 L60.00,95.15 L60.50,95.24 L61.00,95.33 L61.50,95.42 L62.00,95.52 L62.50,95.61 L63.00,95.70 L63.50,95.79 L64.00,95.89 L64.50,95.98 L65.00,96.07 L65.50,96.16 L66.00,96.26 L66.50,96.35 L67.00,96.44 L67.50,96.53 L68.00,96.62 L68.50,96.72 L69.00,96.81 L69.50,96.90 L70.00,96.99 L70.50,97.08 L71.00,97.17 L71.50,97.27 L72.00,97.36 L72.50,97.45 L73.00,97.54 L73.50,97.63 L74.00,97.72 L74.50,97.81 L75.00,97.90 L75.50,97.99 L76.00,98.08 L76.50,98.17 L77.00,98.26 L77.50,98.35 L78.00,98.44 L78.50,98.53 L79.00,98.62 L79.50,98.70 L80.00,98.79 L80.50,98.88 L81.00,98.97 L81.50,99.06 L82.00,99.15 L82.50,99.24 L83.00,99.32 L83.50,99.41 L84.00,99.50 L84.50,99.59 L85.00,99.68 L85.50,99.76 L86.00,99.85 L86.50,99.94 L87.00,100.03 L87.50,100.11 L88.00,100.20 L88.50,100.29 L89.00,100.38 L89.50,100.46 L90.00,100.55 L90.50,100.64 L91.00,100.73 L91.50,100.81 L92.00,100.90 L92.50,100.99 L93.00,101.08 L93.50,101.16 L94.00,101.25 L94.50,101.34 L95.00,101.42 L95.50,101.51 L96.00,101.60 L96.50,101.69 L97.00,101.77 L97.50,101.86 L98.00,101.95 L98.50,102.04 L99.00,102.12 L99.50,102.21 L100.00,102.30 L100.50,102.39 L101.00,102.48 L101.50,102.56 L102.00,102.65 L102.50,102.74 L103.00,102.83 L103.50,102.92 L104.00,103.00 L104.50,103.09 L105.00,103.18 L105.50,103.27 L106.00,103.35 L106.50,103.44 L107.00,103.53 L107.50,103.62 L108.00,103.71 L108.50,103.79 L109.00,103.88 L109.50,103.97 L110.00,104.06 L110.50,104.15 L111.00,104.23 L111.50,104.32 L112.00,104.41 L112.50,104.50 L113.00,104.59 L113.50,104.67 L114.00,104.76 L114.50,104.85 L115.00,104.94 L115.50,105.02 L116.00,105.11 L116.50,105.20 L117.00,105.29 L117.50,105.37 L118.00,105.46 L118.50,105.55 L119.00,105.63 L119.50,105.72 L120.00,105.81 L120.50,105.90 L121.00,105.98 L121.50,106.07 L122.00,106.15 L122.50,106.24 L123.00,106.33 L123.50,106.41 L124.00,106.50 L124.50,106.59 L125.00,106.67 L125.50,106.76 L126.00,106.84 L126.50,106.93 L127.00,107.01 L127.50,107.10 L128.00,107.19 L128.50,107.27 L129.00,107.36 L129.50,107.44 L130.00,107.53 L130.50,107.61 L131.00,107.70 L131.50,107.78 L132.00,107.87 L132.50,107.95 L133.00,108.04 L133.50,108.12 L134.00,108.20 L134.50,108.29 L135.00,108.37 L135.50,108.46 L136.00,108.54 L136.50,108.63 L137.00,108.71 L137.50,108.80 L138.00,108.88 L138.50,108.96 L139.00,109.05 L139.50,109.13 L140.00,109.22 L140.50,109.30 L141.00,109.39 L141.50,109.47 L142.00,109.55 L142.50,109.64 L143.00,109.72 L143.50,109.81 L144.00,109.89 L144.50,109.97 L145.00,110.06 L145.50,110.14 L146.00,110.23 L146.50,110.31 L147.00,110.39 L147.50,110.48 L148.00,110.56 L148.50,110.65 L149.00,110.73 L149.50,110.82 L150.00,110.90 L150.50,110.98 L151.00,111.07 L151.50,111.15 L152.00,111.24 L152.50,111.32 L153.00,111.41 L153.50,111.49 L154.00,111.58 L154.50,111.66 L155.00,111.75 L155.50,111.83 L156.00,111.91 L156.50,112.00 L157.00,112.08 L157.50,112.17 L158.00,112.25 L158.50,112.34 L159.00,112.42 L159.50,112.51 L160.00,112.59 L160.50,112.68 L161.00,112.76 L161.50,112.85 L162.00,112.93 L162.50,113.01 L163.00,113.10 L163.50,113.18 L164.00,113.27 L164.50,113.35 L165.00,113.44 L165.50,113.52 L166.00,113.60 L166.50,113.69 L167.00,113.77 L167.50,113.86 L168.00,113.94 L168.50,114.02 L169.00,114.11 L169.50,114.19 L170.00,114.27 L170.50,114.36 L171.00,114.44 L171.50,114.52 L172.00,114.61 L172.50,114.69 L173.00,114.77 L173.50,114.85 L174.00,114.94 L174.50,115.02 L175.00,115.10 L175.50,115.18 L176.00,115.26 L176.50,115.35 L177.00,115.43 L177.50,115.51 L178.00,115.60 L178.50,115.68 L179.00,115.77 L179.50,115.85 L180.00,115.93 L180.50,116.02 L181.00,116.10 L181.50,116.19 L182.00,116.27 L182.50,116.36 L183.00,116.44 L183.50,116.53 L184.00,116.61 L184.50,116.69 L185.00,116.78 L185.50,116.86 L186.00,116.95 L186.50,117.03 L187.00,117.11 L187.50,117.20 L188.00,117.28 L188.50,117.36 L189.00,117.44 L189.50,117.52 L190.00,117.61 L190.50,117.69 L191.00,117.77 L191.50,117.85 L192.00,117.93 L192.50,118.01 L193.00,118.08 L193.50,118.16 L194.00,118.24 L194.50,118.31 L195.00,118.39 L195.50,118.46 L196.00,118.54 L196.50,118.61 L197.00,118.68 L197.50,118.76 L198.00,118.83 L198.50,118.90 L199.00,118.96 L199.50,119.03 L200.00,119.10 L200.51,119.17 L201.01,119.23 L201.52,119.30 L202.03,119.36 L202.53,119.43 L203.04,119.49 L203.55,119.55 L204.06,119.61 L204.56,119.68 L205.07,119.74 L205.58,119.80 L206.08,119.86 L206.59,119.91 L207.10,119.97 L207.60,120.03 L208.11,120.09 L208.62,120.15 L209.13,120.20 L209.63,120.26 L210.14,120.32 L210.65,120.37 L211.15,120.43 L211.66,120.48 L212.17,120.54 L212.67,120.59 L213.18,120.65 L213.69,120.70 L214.20,120.76 L214.70,120.81 L215.21,120.87 L215.72,120.92 L216.22,120.98 L216.73,121.04 L217.24,121.09 L217.74,121.15 L218.25,121.20 L218.76,121.26 L219.27,121.31 L219.77,121.37 L220.28,121.43 L220.79,121.48 L221.29,121.54 L221.80,121.60" fill="none" stroke="#e0142a" stroke-width="2.4" stroke-linejoin="round" stroke-linecap="butt"/>
<rect x="25.5" y="2.5" width="198.0" height="198.5" fill="none" stroke="#6c6c6c" stroke-width="1"/>
<line x1="26.00" y1="201.00" x2="26.00" y2="202.60" stroke="#6c6c6c" stroke-width="1"/>
<line x1="34.92" y1="201.00" x2="34.92" y2="202.60" stroke="#6c6c6c" stroke-width="1"/>
<line x1="43.84" y1="201.00" x2="43.84" y2="202.60" stroke="#6c6c6c" stroke-width="1"/>
<line x1="52.76" y1="201.00" x2="52.76" y2="202.60" stroke="#6c6c6c" stroke-width="1"/>
<line x1="61.68" y1="201.00" x2="61.68" y2="202.60" stroke="#6c6c6c" stroke-width="1"/>
<line x1="70.60" y1="201.00" x2="70.60" y2="202.60" stroke="#6c6c6c" stroke-width="1"/>
<line x1="79.52" y1="201.00" x2="79.52" y2="202.60" stroke="#6c6c6c" stroke-width="1"/>
<line x1="88.44" y1="201.00" x2="88.44" y2="202.60" stroke="#6c6c6c" stroke-width="1"/>
<line x1="97.36" y1="201.00" x2="97.36" y2="202.60" stroke="#6c6c6c" stroke-width="1"/>
<line x1="106.28" y1="201.00" x2="106.28" y2="202.60" stroke="#6c6c6c" stroke-width="1"/>
<line x1="115.20" y1="201.00" x2="115.20" y2="202.60" stroke="#6c6c6c" stroke-width="1"/>
<line x1="124.12" y1="201.00" x2="124.12" y2="202.60" stroke="#6c6c6c" stroke-width="1"/>
<line x1="133.04" y1="201.00" x2="133.04" y2="202.60" stroke="#6c6c6c" stroke-width="1"/>
<line x1="141.96" y1="201.00" x2="141.96" y2="202.60" stroke="#6c6c6c" stroke-width="1"/>
<line x1="150.88" y1="201.00" x2="150.88" y2="202.60" stroke="#6c6c6c" stroke-width="1"/>
<line x1="159.80" y1="201.00" x2="159.80" y2="202.60" stroke="#6c6c6c" stroke-width="1"/>
<line x1="168.72" y1="201.00" x2="168.72" y2="202.60" stroke="#6c6c6c" stroke-width="1"/>
<line x1="177.64" y1="201.00" x2="177.64" y2="202.60" stroke="#6c6c6c" stroke-width="1"/>
<line x1="186.56" y1="201.00" x2="186.56" y2="202.60" stroke="#6c6c6c" stroke-width="1"/>
<line x1="195.48" y1="201.00" x2="195.48" y2="202.60" stroke="#6c6c6c" stroke-width="1"/>
<line x1="204.40" y1="201.00" x2="204.40" y2="202.60" stroke="#6c6c6c" stroke-width="1"/>
<line x1="213.32" y1="201.00" x2="213.32" y2="202.60" stroke="#6c6c6c" stroke-width="1"/>
<line x1="222.24" y1="201.00" x2="222.24" y2="202.60" stroke="#6c6c6c" stroke-width="1"/>
<line x1="26.00" y1="201.00" x2="26.00" y2="203.80" stroke="#6c6c6c" stroke-width="1"/>
<line x1="70.60" y1="201.00" x2="70.60" y2="203.80" stroke="#6c6c6c" stroke-width="1"/>
<line x1="115.20" y1="201.00" x2="115.20" y2="203.80" stroke="#6c6c6c" stroke-width="1"/>
<line x1="159.80" y1="201.00" x2="159.80" y2="203.80" stroke="#6c6c6c" stroke-width="1"/>
<line x1="204.40" y1="201.00" x2="204.40" y2="203.80" stroke="#6c6c6c" stroke-width="1"/>
<line x1="23.90" y1="184.20" x2="25.50" y2="184.20" stroke="#6c6c6c" stroke-width="1"/>
<line x1="23.90" y1="151.40" x2="25.50" y2="151.40" stroke="#6c6c6c" stroke-width="1"/>
<line x1="23.90" y1="118.60" x2="25.50" y2="118.60" stroke="#6c6c6c" stroke-width="1"/>
<line x1="23.90" y1="85.80" x2="25.50" y2="85.80" stroke="#6c6c6c" stroke-width="1"/>
<line x1="23.90" y1="53.00" x2="25.50" y2="53.00" stroke="#6c6c6c" stroke-width="1"/>
<line x1="23.90" y1="20.20" x2="25.50" y2="20.20" stroke="#6c6c6c" stroke-width="1"/>
<line x1="22.70" y1="200.60" x2="25.50" y2="200.60" stroke="#6c6c6c" stroke-width="1"/>
<line x1="22.70" y1="167.80" x2="25.50" y2="167.80" stroke="#6c6c6c" stroke-width="1"/>
<line x1="22.70" y1="135.00" x2="25.50" y2="135.00" stroke="#6c6c6c" stroke-width="1"/>
<line x1="22.70" y1="102.20" x2="25.50" y2="102.20" stroke="#6c6c6c" stroke-width="1"/>
<line x1="22.70" y1="69.40" x2="25.50" y2="69.40" stroke="#6c6c6c" stroke-width="1"/>
<line x1="22.70" y1="36.60" x2="25.50" y2="36.60" stroke="#6c6c6c" stroke-width="1"/>
<line x1="22.70" y1="3.80" x2="25.50" y2="3.80" stroke="#6c6c6c" stroke-width="1"/>
<text x="26.00" y="214.00" font-family="Liberation Serif" font-weight="bold" font-size="10" text-anchor="middle" fill="#111" stroke="#111" stroke-width="0.22" >0</text>
<text x="70.60" y="214.00" font-family="Liberation Serif" font-weight="bold" font-size="10" text-anchor="middle" fill="#111" stroke="#111" stroke-width="0.22" >5</text>
<text x="115.20" y="214.00" font-family="Liberation Serif" font-weight="bold" font-size="10" text-anchor="middle" fill="#111" stroke="#111" stroke-width="0.22" >10</text>
<text x="159.80" y="214.00" font-family="Liberation Serif" font-weight="bold" font-size="10" text-anchor="middle" fill="#111" stroke="#111" stroke-width="0.22" >15</text>
<text x="204.40" y="214.00" font-family="Liberation Serif" font-weight="bold" font-size="10" text-anchor="middle" fill="#111" stroke="#111" stroke-width="0.22" >20</text>
<text x="22.30" y="204.90" font-family="Liberation Serif" font-weight="bold" font-size="10" text-anchor="end" fill="#111" stroke="#111" stroke-width="0.22" >0</text>
<text x="22.30" y="172.10" font-family="Liberation Serif" font-weight="bold" font-size="10" text-anchor="end" fill="#111" stroke="#111" stroke-width="0.22" >2</text>
<text x="22.30" y="139.30" font-family="Liberation Serif" font-weight="bold" font-size="10" text-anchor="end" fill="#111" stroke="#111" stroke-width="0.22" >4</text>
<text x="22.30" y="106.50" font-family="Liberation Serif" font-weight="bold" font-size="10" text-anchor="end" fill="#111" stroke="#111" stroke-width="0.22" >6</text>
<text x="22.30" y="73.70" font-family="Liberation Serif" font-weight="bold" font-size="10" text-anchor="end" fill="#111" stroke="#111" stroke-width="0.22" >8</text>
<text x="22.30" y="40.90" font-family="Liberation Serif" font-weight="bold" font-size="10" text-anchor="end" fill="#111" stroke="#111" stroke-width="0.22" >10</text>
<text x="22.30" y="8.10" font-family="Liberation Serif" font-weight="bold" font-size="10" text-anchor="end" fill="#111" stroke="#111" stroke-width="0.22" >12</text>
<text x="211.00" y="19.30" font-family="Liberation Serif" font-weight="bold" font-size="13" text-anchor="middle" fill="#111" stroke="#111" stroke-width="0.22" >A</text>
<g fill="#000"><circle cx="250.6" cy="17.0" r="1.5"/><circle cx="252.5" cy="32.2" r="1.5"/><circle cx="249.4" cy="43.3" r="1.5"/><circle cx="250.2" cy="59.7" r="1.5"/><circle cx="278.4" cy="32.2" r="1.5"/><circle cx="278.0" cy="46.4" r="1.5"/><circle cx="277.5" cy="47.4" r="1.5"/><circle cx="269.3" cy="52.1" r="1.5"/><circle cx="266.1" cy="59.0" r="1.5"/><circle cx="267.8" cy="59.7" r="1.5"/><circle cx="275.0" cy="57.8" r="1.5"/><circle cx="274.2" cy="61.6" r="1.5"/><circle cx="273.4" cy="63.8" r="1.5"/><circle cx="271.9" cy="66.9" r="1.5"/><circle cx="281.5" cy="58.2" r="1.5"/><circle cx="285.6" cy="65.8" r="1.5"/><circle cx="308.4" cy="38.3" r="1.5"/><circle cx="308.7" cy="43.0" r="1.5"/><circle cx="314.9" cy="52.7" r="1.5"/><circle cx="309.6" cy="58.1" r="1.5"/><circle cx="305.8" cy="61.2" r="1.5"/><circle cx="338.0" cy="56.5" r="1.5"/><circle cx="329.7" cy="65.3" r="1.5"/><circle cx="335.4" cy="65.7" r="1.5"/><circle cx="338.0" cy="64.6" r="1.5"/><circle cx="337.3" cy="66.9" r="1.5"/><circle cx="342.3" cy="58.2" r="1.5"/><circle cx="361.3" cy="55.2" r="1.5"/><circle cx="368.4" cy="61.2" r="1.5"/><circle cx="384.5" cy="65.0" r="1.5"/><circle cx="396.5" cy="60.3" r="1.5"/><circle cx="399.3" cy="61.9" r="1.5"/><circle cx="397.8" cy="64.1" r="1.5"/><circle cx="400.0" cy="66.9" r="1.5"/><circle cx="428.4" cy="62.3" r="1.5"/><circle cx="242.7" cy="74.8" r="1.5"/><circle cx="242.7" cy="90.0" r="1.5"/><circle cx="255.2" cy="78.3" r="1.5"/><circle cx="250.6" cy="90.8" r="1.5"/><circle cx="249.9" cy="92.3" r="1.5"/><circle cx="246.8" cy="104.0" r="1.5"/><circle cx="249.9" cy="117.4" r="1.5"/><circle cx="245.8" cy="122.7" r="1.5"/><circle cx="249.9" cy="133.0" r="1.5"/><circle cx="267.8" cy="70.3" r="1.5"/><circle cx="266.6" cy="74.8" r="1.5"/><circle cx="275.0" cy="71.0" r="1.5"/><circle cx="276.2" cy="73.3" r="1.5"/><circle cx="275.3" cy="75.3" r="1.5"/><circle cx="272.7" cy="79.4" r="1.5"/><circle cx="276.5" cy="78.3" r="1.5"/><circle cx="269.2" cy="82.0" r="1.5"/><circle cx="267.4" cy="86.2" r="1.5"/><circle cx="272.7" cy="86.2" r="1.5"/><circle cx="271.9" cy="90.0" r="1.5"/><circle cx="273.4" cy="91.6" r="1.5"/><circle cx="268.9" cy="96.1" r="1.5"/><circle cx="273.4" cy="97.6" r="1.5"/><circle cx="272.7" cy="99.2" r="1.5"/><circle cx="275.0" cy="98.4" r="1.5"/><circle cx="278.8" cy="101.4" r="1.5"/><circle cx="274.2" cy="104.5" r="1.5"/><circle cx="278.8" cy="107.8" r="1.5"/><circle cx="271.9" cy="109.8" r="1.5"/><circle cx="274.2" cy="110.9" r="1.5"/><circle cx="276.5" cy="112.8" r="1.5"/><circle cx="278.8" cy="112.8" r="1.5"/><circle cx="271.2" cy="112.8" r="1.5"/><circle cx="267.4" cy="116.3" r="1.5"/><circle cx="269.6" cy="114.4" r="1.5"/><circle cx="271.9" cy="119.7" r="1.5"/><circle cx="274.2" cy="122.0" r="1.5"/><circle cx="272.7" cy="123.5" r="1.5"/><circle cx="275.7" cy="124.2" r="1.5"/><circle cx="270.4" cy="126.5" r="1.5"/><circle cx="275.0" cy="126.5" r="1.5"/><circle cx="272.7" cy="130.3" r="1.5"/><circle cx="274.2" cy="132.6" r="1.5"/><circle cx="284.1" cy="74.8" r="1.5"/><circle cx="287.1" cy="72.6" r="1.5"/><circle cx="281.8" cy="84.4" r="1.5"/><circle cx="283.0" cy="93.8" r="1.5"/><circle cx="286.4" cy="105.2" r="1.5"/><circle cx="300.8" cy="74.4" r="1.5"/><circle cx="305.3" cy="74.4" r="1.5"/><circle cx="306.9" cy="78.6" r="1.5"/><circle cx="309.1" cy="78.6" r="1.5"/><circle cx="303.8" cy="77.1" r="1.5"/><circle cx="314.8" cy="78.6" r="1.5"/><circle cx="300.8" cy="86.2" r="1.5"/><circle cx="304.6" cy="84.0" r="1.5"/><circle cx="306.9" cy="87.8" r="1.5"/><circle cx="316.0" cy="86.2" r="1.5"/><circle cx="304.6" cy="94.1" r="1.5"/><circle cx="297.8" cy="99.2" r="1.5"/><circle cx="299.6" cy="99.9" r="1.5"/><circle cx="315.5" cy="99.2" r="1.5"/><circle cx="319.0" cy="103.3" r="1.5"/><circle cx="300.5" cy="111.3" r="1.5"/><circle cx="305.3" cy="112.1" r="1.5"/><circle cx="300.0" cy="112.8" r="1.5"/><circle cx="306.1" cy="113.6" r="1.5"/><circle cx="303.8" cy="115.9" r="1.5"/><circle cx="305.3" cy="116.6" r="1.5"/><circle cx="313.0" cy="115.4" r="1.5"/><circle cx="305.3" cy="122.0" r="1.5"/><circle cx="308.1" cy="126.5" r="1.5"/><circle cx="306.9" cy="130.6" r="1.5"/><circle cx="303.1" cy="133.3" r="1.5"/><circle cx="331.2" cy="75.9" r="1.5"/><circle cx="331.9" cy="80.9" r="1.5"/><circle cx="331.2" cy="83.2" r="1.5"/><circle cx="337.3" cy="70.3" r="1.5"/><circle cx="338.8" cy="74.8" r="1.5"/><circle cx="335.7" cy="90.0" r="1.5"/><circle cx="334.2" cy="96.1" r="1.5"/><circle cx="332.7" cy="100.7" r="1.5"/><circle cx="335.7" cy="98.4" r="1.5"/><circle cx="338.0" cy="103.0" r="1.5"/><circle cx="332.0" cy="105.2" r="1.5"/><circle cx="334.2" cy="106.0" r="1.5"/><circle cx="329.7" cy="108.3" r="1.5"/><circle cx="335.5" cy="90.5" r="1.5"/><circle cx="340.0" cy="91.5" r="1.5"/><circle cx="338.0" cy="94.0" r="1.5"/><circle cx="341.0" cy="94.5" r="1.5"/><circle cx="334.5" cy="96.5" r="1.5"/><circle cx="338.5" cy="96.5" r="1.5"/><circle cx="341.5" cy="97.0" r="1.5"/><circle cx="333.0" cy="101.5" r="1.5"/><circle cx="335.5" cy="102.0" r="1.5"/><circle cx="339.5" cy="101.0" r="1.5"/><circle cx="344.0" cy="103.0" r="1.5"/><circle cx="345.5" cy="104.5" r="1.5"/><circle cx="336.5" cy="104.5" r="1.5"/><circle cx="338.5" cy="106.0" r="1.5"/><circle cx="332.5" cy="106.0" r="1.5"/><circle cx="337.0" cy="108.5" r="1.5"/><circle cx="329.5" cy="108.0" r="1.5"/><circle cx="337.5" cy="110.5" r="1.5"/><circle cx="330.0" cy="115.0" r="1.5"/><circle cx="333.0" cy="114.0" r="1.5"/><circle cx="338.0" cy="115.0" r="1.5"/><circle cx="339.5" cy="116.5" r="1.5"/><circle cx="338.5" cy="119.0" r="1.5"/><circle cx="340.5" cy="120.0" r="1.5"/><circle cx="342.5" cy="122.0" r="1.5"/><circle cx="339.5" cy="122.0" r="1.5"/><circle cx="331.5" cy="120.0" r="1.5"/><circle cx="330.5" cy="123.5" r="1.5"/><circle cx="338.5" cy="124.5" r="1.5"/><circle cx="340.0" cy="125.0" r="1.5"/><circle cx="334.0" cy="126.5" r="1.5"/><circle cx="332.5" cy="128.5" r="1.5"/><circle cx="337.5" cy="128.0" r="1.5"/><circle cx="340.0" cy="129.0" r="1.5"/><circle cx="339.0" cy="131.0" r="1.5"/><circle cx="341.0" cy="132.0" r="1.5"/><circle cx="331.0" cy="134.0" r="1.5"/><circle cx="338.0" cy="134.0" r="1.5"/><circle cx="337.7" cy="130.6" r="1.5"/><circle cx="340.0" cy="131.1" r="1.5"/><circle cx="341.6" cy="132.2" r="1.5"/><circle cx="338.3" cy="135.0" r="1.5"/><circle cx="342.7" cy="134.2" r="1.5"/><circle cx="331.1" cy="135.0" r="1.5"/><circle cx="336.6" cy="138.9" r="1.5"/><circle cx="342.7" cy="139.1" r="1.5"/><circle cx="331.6" cy="141.6" r="1.5"/><circle cx="336.1" cy="142.7" r="1.5"/><circle cx="339.4" cy="141.6" r="1.5"/><circle cx="337.7" cy="144.4" r="1.5"/><circle cx="336.6" cy="146.6" r="1.5"/><circle cx="341.6" cy="148.3" r="1.5"/><circle cx="342.2" cy="150.5" r="1.5"/><circle cx="336.1" cy="149.4" r="1.5"/><circle cx="336.6" cy="151.1" r="1.5"/><circle cx="338.3" cy="152.7" r="1.5"/><circle cx="341.6" cy="152.7" r="1.5"/><circle cx="336.6" cy="154.4" r="1.5"/><circle cx="340.5" cy="156.1" r="1.5"/><circle cx="341.6" cy="156.6" r="1.5"/><circle cx="337.7" cy="158.8" r="1.5"/><circle cx="338.8" cy="161.0" r="1.5"/><circle cx="342.2" cy="164.4" r="1.5"/><circle cx="341.6" cy="165.5" r="1.5"/><circle cx="341.1" cy="166.6" r="1.5"/><circle cx="340.0" cy="168.8" r="1.5"/><circle cx="339.4" cy="172.7" r="1.5"/><circle cx="341.1" cy="173.8" r="1.5"/><circle cx="342.7" cy="177.7" r="1.5"/><circle cx="340.8" cy="77.1" r="1.5"/><circle cx="341.2" cy="82.4" r="1.5"/><circle cx="340.8" cy="87.8" r="1.5"/><circle cx="341.5" cy="92.3" r="1.5"/><circle cx="341.2" cy="96.1" r="1.5"/><circle cx="342.3" cy="97.6" r="1.5"/><circle cx="343.0" cy="103.0" r="1.5"/><circle cx="345.3" cy="104.5" r="1.5"/><circle cx="340.8" cy="119.7" r="1.5"/><circle cx="342.3" cy="121.2" r="1.5"/><circle cx="341.5" cy="124.2" r="1.5"/><circle cx="340.8" cy="127.3" r="1.5"/><circle cx="342.3" cy="128.8" r="1.5"/><circle cx="340.8" cy="131.8" r="1.5"/><circle cx="343.0" cy="134.1" r="1.5"/><circle cx="368.1" cy="75.9" r="1.5"/><circle cx="371.2" cy="74.8" r="1.5"/><circle cx="370.4" cy="78.6" r="1.5"/><circle cx="371.2" cy="88.1" r="1.5"/><circle cx="367.4" cy="94.1" r="1.5"/><circle cx="371.2" cy="94.1" r="1.5"/><circle cx="371.2" cy="102.7" r="1.5"/><circle cx="370.4" cy="104.2" r="1.5"/><circle cx="367.4" cy="108.7" r="1.5"/><circle cx="371.2" cy="108.3" r="1.5"/><circle cx="370.4" cy="110.2" r="1.5"/><circle cx="370.4" cy="114.4" r="1.5"/><circle cx="371.2" cy="116.6" r="1.5"/><circle cx="362.8" cy="131.1" r="1.5"/><circle cx="367.4" cy="132.1" r="1.5"/><circle cx="381.3" cy="88.1" r="1.5"/><circle cx="382.9" cy="130.3" r="1.5"/><circle cx="400.5" cy="68.8" r="1.5"/><circle cx="403.1" cy="77.9" r="1.5"/><circle cx="397.0" cy="90.0" r="1.5"/><circle cx="400.0" cy="93.8" r="1.5"/><circle cx="401.6" cy="96.1" r="1.5"/><circle cx="402.3" cy="99.2" r="1.5"/><circle cx="397.0" cy="96.9" r="1.5"/><circle cx="398.1" cy="103.7" r="1.5"/><circle cx="406.6" cy="105.2" r="1.5"/><circle cx="412.2" cy="110.2" r="1.5"/><circle cx="400.8" cy="112.1" r="1.5"/><circle cx="403.1" cy="111.3" r="1.5"/><circle cx="404.6" cy="112.1" r="1.5"/><circle cx="400.0" cy="114.4" r="1.5"/><circle cx="402.3" cy="113.6" r="1.5"/><circle cx="401.1" cy="116.6" r="1.5"/><circle cx="403.8" cy="119.7" r="1.5"/><circle cx="405.3" cy="121.2" r="1.5"/><circle cx="400.8" cy="122.0" r="1.5"/><circle cx="403.1" cy="124.2" r="1.5"/><circle cx="399.3" cy="125.0" r="1.5"/><circle cx="397.8" cy="128.0" r="1.5"/><circle cx="403.8" cy="127.3" r="1.5"/><circle cx="406.1" cy="129.6" r="1.5"/><circle cx="398.5" cy="130.3" r="1.5"/><circle cx="402.3" cy="131.8" r="1.5"/><circle cx="400.8" cy="134.9" r="1.5"/><circle cx="428.1" cy="79.9" r="1.5"/><circle cx="274.7" cy="136.8" r="1.5"/><circle cx="275.7" cy="138.3" r="1.5"/><circle cx="271.2" cy="142.8" r="1.5"/><circle cx="273.4" cy="141.8" r="1.5"/><circle cx="278.4" cy="140.6" r="1.5"/><circle cx="271.9" cy="152.4" r="1.5"/><circle cx="279.2" cy="156.5" r="1.5"/><circle cx="304.6" cy="136.0" r="1.5"/><circle cx="331.2" cy="141.8" r="1.5"/><circle cx="342.7" cy="139.0" r="1.5"/><circle cx="340.8" cy="148.2" r="1.5"/><circle cx="341.8" cy="150.4" r="1.5"/><circle cx="340.8" cy="152.7" r="1.5"/><circle cx="341.5" cy="155.8" r="1.5"/><circle cx="342.3" cy="164.1" r="1.5"/><circle cx="341.2" cy="166.4" r="1.5"/><circle cx="341.2" cy="173.2" r="1.5"/><circle cx="342.7" cy="177.3" r="1.5"/><circle cx="368.1" cy="136.8" r="1.5"/><circle cx="371.2" cy="139.0" r="1.5"/><circle cx="369.3" cy="150.4" r="1.5"/><circle cx="369.6" cy="152.4" r="1.5"/><circle cx="379.2" cy="163.7" r="1.5"/><circle cx="370.7" cy="186.6" r="1.5"/><circle cx="395.5" cy="137.2" r="1.5"/><circle cx="401.6" cy="137.2" r="1.5"/><circle cx="403.8" cy="137.8" r="1.5"/><circle cx="402.3" cy="140.3" r="1.5"/><circle cx="400.8" cy="140.6" r="1.5"/><circle cx="398.5" cy="145.9" r="1.5"/><circle cx="401.6" cy="147.4" r="1.5"/><circle cx="403.8" cy="148.9" r="1.5"/><circle cx="405.3" cy="145.9" r="1.5"/><circle cx="401.6" cy="154.5" r="1.5"/><circle cx="398.5" cy="158.8" r="1.5"/><circle cx="397.4" cy="160.8" r="1.5"/><circle cx="404.6" cy="158.8" r="1.5"/><circle cx="406.1" cy="161.1" r="1.5"/><circle cx="402.3" cy="164.1" r="1.5"/><circle cx="399.0" cy="166.9" r="1.5"/><circle cx="406.1" cy="167.2" r="1.5"/><circle cx="401.1" cy="171.3" r="1.5"/><circle cx="403.1" cy="174.8" r="1.5"/><circle cx="404.6" cy="176.3" r="1.5"/><circle cx="406.1" cy="176.7" r="1.5"/><circle cx="409.1" cy="174.8" r="1.5"/><circle cx="427.8" cy="137.2" r="1.5"/></g>
<path d="M242.00,86.00 L242.50,86.15 L243.00,86.29 L243.50,86.44 L244.00,86.59 L244.50,86.74 L245.00,86.89 L245.50,87.04 L246.00,87.19 L246.50,87.34 L247.00,87.49 L247.50,87.64 L248.00,87.79 L248.50,87.94 L249.00,88.09 L249.50,88.24 L250.00,88.39 L250.50,88.54 L251.00,88.69 L251.50,88.84 L252.00,88.99 L252.50,89.15 L253.00,89.30 L253.50,89.45 L254.00,89.60 L254.50,89.75 L255.00,89.90 L255.50,90.05 L256.00,90.20 L256.50,90.35 L257.00,90.50 L257.50,90.65 L258.00,90.80 L258.50,90.95 L259.00,91.10 L259.50,91.24 L260.00,91.39 L260.50,91.54 L261.00,91.68 L261.50,91.83 L262.00,91.97 L262.50,92.12 L263.00,92.26 L263.50,92.41 L264.00,92.55 L264.50,92.69 L265.00,92.83 L265.50,92.97 L266.00,93.11 L266.50,93.25 L267.00,93.39 L267.50,93.53 L268.00,93.66 L268.50,93.80 L269.00,93.93 L269.50,94.07 L270.00,94.20 L270.50,94.33 L271.00,94.46 L271.50,94.59 L272.00,94.72 L272.50,94.85 L273.00,94.98 L273.50,95.11 L274.00,95.23 L274.50,95.36 L275.00,95.49 L275.50,95.61 L276.00,95.74 L276.50,95.86 L277.00,95.99 L277.50,96.11 L278.00,96.23 L278.50,96.35 L279.00,96.48 L279.50,96.60 L280.00,96.72 L280.50,96.84 L281.00,96.96 L281.50,97.08 L282.00,97.20 L282.50,97.32 L283.00,97.44 L283.50,97.56 L284.00,97.67 L284.50,97.79 L285.00,97.91 L285.50,98.03 L286.00,98.15 L286.50,98.26 L287.00,98.38 L287.50,98.50 L288.00,98.61 L288.50,98.73 L289.00,98.85 L289.50,98.96 L290.00,99.08 L290.50,99.19 L291.00,99.31 L291.50,99.43 L292.00,99.54 L292.50,99.66 L293.00,99.77 L293.50,99.89 L294.00,100.00 L294.50,100.12 L295.00,100.24 L295.50,100.35 L296.00,100.47 L296.50,100.58 L297.00,100.70 L297.50,100.82 L298.00,100.93 L298.50,101.05 L299.00,101.17 L299.50,101.28 L300.00,101.40 L300.50,101.52 L301.00,101.63 L301.50,101.75 L302.00,101.87 L302.50,101.99 L303.00,102.10 L303.50,102.22 L304.00,102.33 L304.50,102.45 L305.00,102.57 L305.50,102.68 L306.00,102.80 L306.50,102.92 L307.00,103.03 L307.50,103.15 L308.00,103.26 L308.50,103.38 L309.00,103.49 L309.50,103.61 L310.00,103.72 L310.50,103.84 L311.00,103.95 L311.50,104.07 L312.00,104.18 L312.50,104.30 L313.00,104.41 L313.50,104.53 L314.00,104.64 L314.50,104.75 L315.00,104.87 L315.50,104.98 L316.00,105.10 L316.50,105.21 L317.00,105.32 L317.50,105.44 L318.00,105.55 L318.50,105.66 L319.00,105.77 L319.50,105.89 L320.00,106.00 L320.50,106.11 L321.00,106.22 L321.50,106.34 L322.00,106.45 L322.50,106.56 L323.00,106.67 L323.50,106.78 L324.00,106.89 L324.50,107.00 L325.00,107.11 L325.50,107.22 L326.00,107.32 L326.50,107.43 L327.00,107.54 L327.50,107.65 L328.00,107.76 L328.50,107.87 L329.00,107.98 L329.50,108.09 L330.00,108.19 L330.50,108.30 L331.00,108.41 L331.50,108.52 L332.00,108.63 L332.50,108.74 L333.00,108.85 L333.50,108.95 L334.00,109.06 L334.50,109.17 L335.00,109.28 L335.50,109.39 L336.00,109.50 L336.50,109.61 L337.00,109.73 L337.50,109.84 L338.00,109.95 L338.50,110.06 L339.00,110.17 L339.50,110.29 L340.00,110.40 L340.50,110.51 L341.00,110.63 L341.50,110.74 L342.00,110.86 L342.50,110.97 L343.00,111.09 L343.50,111.20 L344.00,111.32 L344.50,111.44 L345.00,111.55 L345.50,111.67 L346.00,111.78 L346.50,111.90 L347.00,112.02 L347.50,112.14 L348.00,112.25 L348.50,112.37 L349.00,112.49 L349.50,112.61 L350.00,112.73 L350.50,112.84 L351.00,112.96 L351.50,113.08 L352.00,113.20 L352.50,113.32 L353.00,113.44 L353.50,113.56 L354.00,113.68 L354.50,113.80 L355.00,113.92 L355.50,114.04 L356.00,114.15 L356.50,114.27 L357.00,114.39 L357.50,114.51 L358.00,114.63 L358.50,114.75 L359.00,114.87 L359.50,114.99 L360.00,115.11 L360.50,115.23 L361.00,115.35 L361.50,115.47 L362.00,115.59 L362.50,115.71 L363.00,115.83 L363.50,115.95 L364.00,116.07 L364.50,116.19 L365.00,116.31 L365.50,116.43 L366.00,116.55 L366.50,116.67 L367.00,116.79 L367.50,116.91 L368.00,117.03 L368.50,117.14 L369.00,117.26 L369.50,117.38 L370.00,117.50 L370.50,117.62 L371.00,117.74 L371.50,117.86 L372.00,117.98 L372.50,118.09 L373.00,118.21 L373.50,118.33 L374.00,118.45 L374.50,118.57 L375.00,118.69 L375.50,118.82 L376.00,118.94 L376.50,119.06 L377.00,119.18 L377.50,119.30 L378.00,119.42 L378.50,119.54 L379.00,119.66 L379.50,119.78 L380.00,119.90 L380.50,120.02 L381.00,120.14 L381.50,120.27 L382.00,120.39 L382.50,120.51 L383.00,120.63 L383.50,120.75 L384.00,120.87 L384.50,120.99 L385.00,121.11 L385.50,121.23 L386.00,121.35 L386.50,121.47 L387.00,121.59 L387.50,121.71 L388.00,121.83 L388.50,121.95 L389.00,122.07 L389.50,122.19 L390.00,122.31 L390.50,122.42 L391.00,122.54 L391.50,122.66 L392.00,122.78 L392.50,122.89 L393.00,123.01 L393.50,123.13 L394.00,123.24 L394.50,123.36 L395.00,123.47 L395.50,123.59 L396.00,123.70 L396.50,123.82 L397.00,123.93 L397.50,124.04 L398.00,124.15 L398.50,124.27 L399.00,124.38 L399.50,124.49 L400.00,124.60 L400.50,124.71 L401.00,124.82 L401.50,124.93 L402.00,125.04 L402.50,125.15 L403.00,125.25 L403.50,125.36 L404.00,125.47 L404.50,125.58 L405.00,125.68 L405.50,125.79 L406.00,125.90 L406.50,126.00 L407.00,126.11 L407.50,126.21 L408.00,126.32 L408.50,126.42 L409.00,126.53 L409.50,126.63 L410.00,126.74 L410.50,126.84 L411.00,126.94 L411.50,127.05 L412.00,127.15 L412.50,127.25 L413.00,127.36 L413.50,127.46 L414.00,127.56 L414.50,127.66 L415.00,127.77 L415.50,127.87 L416.00,127.97 L416.50,128.07 L417.00,128.17 L417.50,128.27 L418.00,128.37 L418.50,128.48 L419.00,128.58 L419.50,128.68 L420.00,128.78 L420.50,128.88 L421.00,128.98 L421.50,129.08 L422.00,129.18 L422.50,129.28 L423.00,129.38 L423.50,129.48 L424.00,129.58 L424.50,129.68 L425.00,129.78 L425.50,129.88 L426.00,129.98 L426.50,130.08 L427.00,130.18 L427.50,130.28 L428.00,130.38 L428.50,130.48 L429.00,130.58 L429.50,130.68 L430.00,130.78 L430.50,130.88 L431.00,130.98 L431.50,131.08 L432.00,131.18 L432.50,131.28 L433.00,131.38 L433.50,131.48 L434.00,131.58 L434.50,131.68 L435.00,131.78 L435.50,131.88 L436.00,131.99 L436.50,132.09 L437.00,132.19 L437.50,132.29 L438.00,132.39 L438.50,132.49 L439.00,132.60 L439.50,132.70 L440.00,132.80" fill="none" stroke="#22d622" stroke-width="2.0" stroke-linejoin="round" stroke-linecap="butt"/>
<path d="M242.00,84.20 L242.50,84.35 L243.00,84.50 L243.50,84.65 L244.00,84.80 L244.50,84.95 L245.00,85.10 L245.50,85.25 L246.00,85.40 L246.50,85.55 L247.00,85.70 L247.50,85.85 L248.00,86.00 L248.50,86.15 L249.00,86.30 L249.50,86.45 L250.00,86.60 L250.50,86.75 L251.00,86.90 L251.50,87.05 L252.00,87.20 L252.50,87.35 L253.00,87.50 L253.50,87.65 L254.00,87.80 L254.50,87.95 L255.00,88.10 L255.50,88.25 L256.00,88.40 L256.50,88.55 L257.00,88.70 L257.50,88.85 L258.00,89.00 L258.50,89.15 L259.00,89.30 L259.50,89.45 L260.00,89.60 L260.50,89.75 L261.00,89.90 L261.50,90.05 L262.00,90.20 L262.50,90.35 L263.00,90.50 L263.50,90.65 L264.00,90.80 L264.50,90.95 L265.00,91.10 L265.50,91.25 L266.00,91.40 L266.50,91.55 L267.00,91.70 L267.50,91.85 L268.00,92.00 L268.50,92.16 L269.00,92.31 L269.50,92.46 L270.00,92.61 L270.50,92.76 L271.00,92.91 L271.50,93.06 L272.00,93.21 L272.50,93.36 L273.00,93.51 L273.50,93.66 L274.00,93.81 L274.50,93.96 L275.00,94.11 L275.50,94.26 L276.00,94.41 L276.50,94.56 L277.00,94.71 L277.50,94.85 L278.00,95.00 L278.50,95.15 L279.00,95.30 L279.50,95.45 L280.00,95.60 L280.50,95.75 L281.00,95.90 L281.50,96.05 L282.00,96.20 L282.50,96.35 L283.00,96.50 L283.50,96.65 L284.00,96.80 L284.50,96.95 L285.00,97.10 L285.50,97.25 L286.00,97.40 L286.50,97.54 L287.00,97.69 L287.50,97.84 L288.00,97.99 L288.50,98.14 L289.00,98.29 L289.50,98.44 L290.00,98.59 L290.50,98.74 L291.00,98.89 L291.50,99.04 L292.00,99.19 L292.50,99.33 L293.00,99.48 L293.50,99.63 L294.00,99.77 L294.50,99.92 L295.00,100.07 L295.50,100.21 L296.00,100.36 L296.50,100.50 L297.00,100.65 L297.50,100.79 L298.00,100.93 L298.50,101.08 L299.00,101.22 L299.50,101.36 L300.00,101.50 L300.50,101.64 L301.00,101.78 L301.50,101.92 L302.00,102.06 L302.50,102.20 L303.00,102.35 L303.50,102.49 L304.00,102.63 L304.50,102.77 L305.00,102.91 L305.50,103.05 L306.00,103.19 L306.50,103.33 L307.00,103.48 L307.50,103.62 L308.00,103.76 L308.50,103.90 L309.00,104.04 L309.50,104.18 L310.00,104.32 L310.50,104.46 L311.00,104.61 L311.50,104.75 L312.00,104.89 L312.50,105.03 L313.00,105.17 L313.50,105.31 L314.00,105.45 L314.50,105.59 L315.00,105.73 L315.50,105.87 L316.00,106.00 L316.50,106.14 L317.00,106.28 L317.50,106.42 L318.00,106.56 L318.50,106.69 L319.00,106.83 L319.50,106.97 L320.00,107.10 L320.50,107.24 L321.00,107.38 L321.50,107.51 L322.00,107.65 L322.50,107.78 L323.00,107.91 L323.50,108.05 L324.00,108.18 L324.50,108.31 L325.00,108.44 L325.50,108.58 L326.00,108.71 L326.50,108.84 L327.00,108.97 L327.50,109.10 L328.00,109.22 L328.50,109.35 L329.00,109.48 L329.50,109.61 L330.00,109.73 L330.50,109.86 L331.00,109.98 L331.50,110.11 L332.00,110.23 L332.50,110.35 L333.00,110.48 L333.50,110.60 L334.00,110.72 L334.50,110.84 L335.00,110.96 L335.50,111.07 L336.00,111.19 L336.50,111.31 L337.00,111.42 L337.50,111.54 L338.00,111.65 L338.50,111.77 L339.00,111.88 L339.50,111.99 L340.00,112.10 L340.50,112.21 L341.00,112.32 L341.50,112.43 L342.00,112.54 L342.50,112.64 L343.00,112.75 L343.50,112.86 L344.00,112.96 L344.50,113.07 L345.00,113.17 L345.50,113.28 L346.00,113.38 L346.50,113.49 L347.00,113.59 L347.50,113.69 L348.00,113.80 L348.50,113.90 L349.00,114.00 L349.50,114.10 L350.00,114.20 L350.50,114.30 L351.00,114.40 L351.50,114.50 L352.00,114.60 L352.50,114.70 L353.00,114.80 L353.50,114.90 L354.00,114.99 L354.50,115.09 L355.00,115.19 L355.50,115.28 L356.00,115.38 L356.50,115.48 L357.00,115.57 L357.50,115.67 L358.00,115.76 L358.50,115.86 L359.00,115.95 L359.50,116.04 L360.00,116.14 L360.50,116.23 L361.00,116.32 L361.50,116.42 L362.00,116.51 L362.50,116.60 L363.00,116.69 L363.50,116.78 L364.00,116.88 L364.50,116.97 L365.00,117.06 L365.50,117.15 L366.00,117.24 L366.50,117.33 L367.00,117.42 L367.50,117.51 L368.00,117.60 L368.50,117.69 L369.00,117.77 L369.50,117.86 L370.00,117.95 L370.50,118.04 L371.00,118.13 L371.50,118.22 L372.00,118.30 L372.50,118.39 L373.00,118.48 L373.50,118.57 L374.00,118.65 L374.50,118.74 L375.00,118.83 L375.50,118.92 L376.00,119.00 L376.50,119.09 L377.00,119.17 L377.50,119.26 L378.00,119.35 L378.50,119.43 L379.00,119.52 L379.50,119.61 L380.00,119.69 L380.50,119.78 L381.00,119.86 L381.50,119.95 L382.00,120.03 L382.50,120.12 L383.00,120.21 L383.50,120.29 L384.00,120.38 L384.50,120.46 L385.00,120.55 L385.50,120.63 L386.00,120.72 L386.50,120.80 L387.00,120.89 L387.50,120.97 L388.00,121.06 L388.50,121.14 L389.00,121.23 L389.50,121.31 L390.00,121.40 L390.50,121.49 L391.00,121.57 L391.50,121.66 L392.00,121.74 L392.50,121.82 L393.00,121.91 L393.50,121.99 L394.00,122.08 L394.50,122.16 L395.00,122.24 L395.50,122.33 L396.00,122.41 L396.50,122.49 L397.00,122.57 L397.50,122.65 L398.00,122.74 L398.50,122.82 L399.00,122.90 L399.50,122.98 L400.00,123.06 L400.50,123.14 L401.00,123.22 L401.50,123.30 L402.00,123.39 L402.50,123.47 L403.00,123.55 L403.50,123.63 L404.00,123.71 L404.50,123.79 L405.00,123.86 L405.50,123.94 L406.00,124.02 L406.50,124.10 L407.00,124.18 L407.50,124.26 L408.00,124.34 L408.50,124.42 L409.00,124.50 L409.50,124.57 L410.00,124.65 L410.50,124.73 L411.00,124.81 L411.50,124.89 L412.00,124.96 L412.50,125.04 L413.00,125.12 L413.50,125.20 L414.00,125.28 L414.50,125.35 L415.00,125.43 L415.50,125.51 L416.00,125.59 L416.50,125.66 L417.00,125.74 L417.50,125.82 L418.00,125.89 L418.50,125.97 L419.00,126.05 L419.50,126.12 L420.00,126.20 L420.50,126.28 L421.00,126.36 L421.50,126.43 L422.00,126.51 L422.50,126.59 L423.00,126.66 L423.50,126.74 L424.00,126.82 L424.50,126.89 L425.00,126.97 L425.50,127.05 L426.00,127.12 L426.50,127.20 L427.00,127.28 L427.50,127.36 L428.00,127.43 L428.50,127.51 L429.00,127.59 L429.50,127.66 L430.00,127.74 L430.50,127.82 L431.00,127.90 L431.50,127.97 L432.00,128.05 L432.50,128.13 L433.00,128.20 L433.50,128.28 L434.00,128.36 L434.50,128.44 L435.00,128.52 L435.50,128.59 L436.00,128.67 L436.50,128.75 L437.00,128.83 L437.50,128.91 L438.00,128.98 L438.50,129.06 L439.00,129.14 L439.50,129.22 L440.00,129.30" fill="none" stroke="#2020c0" stroke-width="2.0" stroke-linejoin="round" stroke-linecap="butt"/>
<path d="M242.00,82.30 L242.50,82.47 L243.00,82.65 L243.50,82.82 L244.00,83.00 L244.50,83.17 L245.00,83.34 L245.50,83.52 L246.00,83.70 L246.50,83.87 L247.00,84.05 L247.50,84.22 L248.00,84.40 L248.50,84.57 L249.00,84.75 L249.50,84.93 L250.00,85.10 L250.50,85.28 L251.00,85.46 L251.50,85.63 L252.00,85.81 L252.50,85.98 L253.00,86.16 L253.50,86.34 L254.00,86.51 L254.50,86.69 L255.00,86.87 L255.50,87.04 L256.00,87.22 L256.50,87.39 L257.00,87.57 L257.50,87.74 L258.00,87.92 L258.50,88.09 L259.00,88.27 L259.50,88.44 L260.00,88.61 L260.50,88.79 L261.00,88.96 L261.50,89.13 L262.00,89.31 L262.50,89.48 L263.00,89.65 L263.50,89.82 L264.00,89.99 L264.50,90.16 L265.00,90.33 L265.50,90.50 L266.00,90.67 L266.50,90.84 L267.00,91.01 L267.50,91.17 L268.00,91.34 L268.50,91.51 L269.00,91.67 L269.50,91.84 L270.00,92.00 L270.50,92.16 L271.00,92.33 L271.50,92.49 L272.00,92.65 L272.50,92.82 L273.00,92.98 L273.50,93.14 L274.00,93.30 L274.50,93.46 L275.00,93.62 L275.50,93.79 L276.00,93.95 L276.50,94.11 L277.00,94.27 L277.50,94.43 L278.00,94.59 L278.50,94.75 L279.00,94.91 L279.50,95.06 L280.00,95.22 L280.50,95.38 L281.00,95.54 L281.50,95.70 L282.00,95.85 L282.50,96.01 L283.00,96.17 L283.50,96.32 L284.00,96.48 L284.50,96.64 L285.00,96.79 L285.50,96.95 L286.00,97.10 L286.50,97.26 L287.00,97.41 L287.50,97.56 L288.00,97.72 L288.50,97.87 L289.00,98.02 L289.50,98.18 L290.00,98.33 L290.50,98.48 L291.00,98.63 L291.50,98.78 L292.00,98.94 L292.50,99.09 L293.00,99.24 L293.50,99.39 L294.00,99.54 L294.50,99.68 L295.00,99.83 L295.50,99.98 L296.00,100.13 L296.50,100.28 L297.00,100.42 L297.50,100.57 L298.00,100.72 L298.50,100.86 L299.00,101.01 L299.50,101.16 L300.00,101.30 L300.50,101.44 L301.00,101.59 L301.50,101.73 L302.00,101.88 L302.50,102.03 L303.00,102.17 L303.50,102.32 L304.00,102.46 L304.50,102.61 L305.00,102.75 L305.50,102.90 L306.00,103.04 L306.50,103.19 L307.00,103.33 L307.50,103.48 L308.00,103.62 L308.50,103.77 L309.00,103.91 L309.50,104.06 L310.00,104.20 L310.50,104.34 L311.00,104.49 L311.50,104.63 L312.00,104.78 L312.50,104.92 L313.00,105.06 L313.50,105.21 L314.00,105.35 L314.50,105.49 L315.00,105.63 L315.50,105.78 L316.00,105.92 L316.50,106.06 L317.00,106.20 L317.50,106.34 L318.00,106.48 L318.50,106.62 L319.00,106.76 L319.50,106.90 L320.00,107.04 L320.50,107.18 L321.00,107.32 L321.50,107.45 L322.00,107.59 L322.50,107.73 L323.00,107.86 L323.50,108.00 L324.00,108.13 L324.50,108.27 L325.00,108.40 L325.50,108.53 L326.00,108.67 L326.50,108.80 L327.00,108.93 L327.50,109.06 L328.00,109.19 L328.50,109.32 L329.00,109.45 L329.50,109.58 L330.00,109.71 L330.50,109.84 L331.00,109.96 L331.50,110.09 L332.00,110.21 L332.50,110.34 L333.00,110.46 L333.50,110.58 L334.00,110.70 L334.50,110.83 L335.00,110.95 L335.50,111.06 L336.00,111.18 L336.50,111.30 L337.00,111.42 L337.50,111.53 L338.00,111.65 L338.50,111.76 L339.00,111.88 L339.50,111.99 L340.00,112.10 L340.50,112.21 L341.00,112.32 L341.50,112.43 L342.00,112.54 L342.50,112.65 L343.00,112.76 L343.50,112.86 L344.00,112.97 L344.50,113.08 L345.00,113.18 L345.50,113.29 L346.00,113.39 L346.50,113.50 L347.00,113.60 L347.50,113.71 L348.00,113.81 L348.50,113.91 L349.00,114.01 L349.50,114.12 L350.00,114.22 L350.50,114.32 L351.00,114.42 L351.50,114.52 L352.00,114.62 L352.50,114.72 L353.00,114.82 L353.50,114.91 L354.00,115.01 L354.50,115.11 L355.00,115.21 L355.50,115.31 L356.00,115.40 L356.50,115.50 L357.00,115.59 L357.50,115.69 L358.00,115.78 L358.50,115.88 L359.00,115.97 L359.50,116.07 L360.00,116.16 L360.50,116.26 L361.00,116.35 L361.50,116.44 L362.00,116.53 L362.50,116.63 L363.00,116.72 L363.50,116.81 L364.00,116.90 L364.50,116.99 L365.00,117.08 L365.50,117.17 L366.00,117.26 L366.50,117.35 L367.00,117.44 L367.50,117.53 L368.00,117.62 L368.50,117.71 L369.00,117.80 L369.50,117.89 L370.00,117.98 L370.50,118.07 L371.00,118.15 L371.50,118.24 L372.00,118.33 L372.50,118.42 L373.00,118.50 L373.50,118.59 L374.00,118.68 L374.50,118.76 L375.00,118.85 L375.50,118.94 L376.00,119.02 L376.50,119.11 L377.00,119.20 L377.50,119.28 L378.00,119.37 L378.50,119.45 L379.00,119.54 L379.50,119.62 L380.00,119.71 L380.50,119.79 L381.00,119.88 L381.50,119.96 L382.00,120.05 L382.50,120.13 L383.00,120.22 L383.50,120.30 L384.00,120.39 L384.50,120.47 L385.00,120.56 L385.50,120.64 L386.00,120.73 L386.50,120.81 L387.00,120.89 L387.50,120.98 L388.00,121.06 L388.50,121.15 L389.00,121.23 L389.50,121.32 L390.00,121.40 L390.50,121.48 L391.00,121.57 L391.50,121.65 L392.00,121.73 L392.50,121.82 L393.00,121.90 L393.50,121.98 L394.00,122.07 L394.50,122.15 L395.00,122.23 L395.50,122.31 L396.00,122.39 L396.50,122.47 L397.00,122.55 L397.50,122.63 L398.00,122.71 L398.50,122.79 L399.00,122.87 L399.50,122.95 L400.00,123.03 L400.50,123.11 L401.00,123.19 L401.50,123.27 L402.00,123.35 L402.50,123.43 L403.00,123.51 L403.50,123.58 L404.00,123.66 L404.50,123.74 L405.00,123.82 L405.50,123.89 L406.00,123.97 L406.50,124.05 L407.00,124.13 L407.50,124.20 L408.00,124.28 L408.50,124.36 L409.00,124.43 L409.50,124.51 L410.00,124.58 L410.50,124.66 L411.00,124.74 L411.50,124.81 L412.00,124.89 L412.50,124.96 L413.00,125.04 L413.50,125.11 L414.00,125.19 L414.50,125.27 L415.00,125.34 L415.50,125.42 L416.00,125.49 L416.50,125.57 L417.00,125.64 L417.50,125.72 L418.00,125.79 L418.50,125.87 L419.00,125.94 L419.50,126.01 L420.00,126.09 L420.50,126.16 L421.00,126.24 L421.50,126.31 L422.00,126.39 L422.50,126.46 L423.00,126.54 L423.50,126.61 L424.00,126.69 L424.50,126.76 L425.00,126.84 L425.50,126.91 L426.00,126.98 L426.50,127.06 L427.00,127.13 L427.50,127.21 L428.00,127.28 L428.50,127.36 L429.00,127.43 L429.50,127.51 L430.00,127.58 L430.50,127.66 L431.00,127.73 L431.50,127.81 L432.00,127.88 L432.50,127.96 L433.00,128.03 L433.50,128.11 L434.00,128.19 L434.50,128.26 L435.00,128.34 L435.50,128.41 L436.00,128.49 L436.50,128.56 L437.00,128.64 L437.50,128.72 L438.00,128.79 L438.50,128.87 L439.00,128.95 L439.50,129.02 L440.00,129.10" fill="none" stroke="#e01a22" stroke-width="2.2" stroke-linejoin="round" stroke-linecap="butt"/>
<rect x="241.3" y="3.2" width="199.0" height="198.0" fill="none" stroke="#6c6c6c" stroke-width="1"/>
<line x1="242.50" y1="201.20" x2="242.50" y2="202.80" stroke="#6c6c6c" stroke-width="1"/>
<line x1="251.43" y1="201.20" x2="251.43" y2="202.80" stroke="#6c6c6c" stroke-width="1"/>
<line x1="260.36" y1="201.20" x2="260.36" y2="202.80" stroke="#6c6c6c" stroke-width="1"/>
<line x1="269.29" y1="201.20" x2="269.29" y2="202.80" stroke="#6c6c6c" stroke-width="1"/>
<line x1="278.22" y1="201.20" x2="278.22" y2="202.80" stroke="#6c6c6c" stroke-width="1"/>
<line x1="287.15" y1="201.20" x2="287.15" y2="202.80" stroke="#6c6c6c" stroke-width="1"/>
<line x1="296.08" y1="201.20" x2="296.08" y2="202.80" stroke="#6c6c6c" stroke-width="1"/>
<line x1="305.01" y1="201.20" x2="305.01" y2="202.80" stroke="#6c6c6c" stroke-width="1"/>
<line x1="313.94" y1="201.20" x2="313.94" y2="202.80" stroke="#6c6c6c" stroke-width="1"/>
<line x1="322.87" y1="201.20" x2="322.87" y2="202.80" stroke="#6c6c6c" stroke-width="1"/>
<line x1="331.80" y1="201.20" x2="331.80" y2="202.80" stroke="#6c6c6c" stroke-width="1"/>
<line x1="340.73" y1="201.20" x2="340.73" y2="202.80" stroke="#6c6c6c" stroke-width="1"/>
<line x1="349.66" y1="201.20" x2="349.66" y2="202.80" stroke="#6c6c6c" stroke-width="1"/>
<line x1="358.59" y1="201.20" x2="358.59" y2="202.80" stroke="#6c6c6c" stroke-width="1"/>
<line x1="367.52" y1="201.20" x2="367.52" y2="202.80" stroke="#6c6c6c" stroke-width="1"/>
<line x1="376.45" y1="201.20" x2="376.45" y2="202.80" stroke="#6c6c6c" stroke-width="1"/>
<line x1="385.38" y1="201.20" x2="385.38" y2="202.80" stroke="#6c6c6c" stroke-width="1"/>
<line x1="394.31" y1="201.20" x2="394.31" y2="202.80" stroke="#6c6c6c" stroke-width="1"/>
<line x1="403.24" y1="201.20" x2="403.24" y2="202.80" stroke="#6c6c6c" stroke-width="1"/>
<line x1="412.17" y1="201.20" x2="412.17" y2="202.80" stroke="#6c6c6c" stroke-width="1"/>
<line x1="421.10" y1="201.20" x2="421.10" y2="202.80" stroke="#6c6c6c" stroke-width="1"/>
<line x1="430.03" y1="201.20" x2="430.03" y2="202.80" stroke="#6c6c6c" stroke-width="1"/>
<line x1="438.96" y1="201.20" x2="438.96" y2="202.80" stroke="#6c6c6c" stroke-width="1"/>
<line x1="242.50" y1="201.20" x2="242.50" y2="204.00" stroke="#6c6c6c" stroke-width="1"/>
<line x1="287.15" y1="201.20" x2="287.15" y2="204.00" stroke="#6c6c6c" stroke-width="1"/>
<line x1="331.80" y1="201.20" x2="331.80" y2="204.00" stroke="#6c6c6c" stroke-width="1"/>
<line x1="376.45" y1="201.20" x2="376.45" y2="204.00" stroke="#6c6c6c" stroke-width="1"/>
<line x1="421.10" y1="201.20" x2="421.10" y2="204.00" stroke="#6c6c6c" stroke-width="1"/>
<line x1="239.70" y1="186.70" x2="241.30" y2="186.70" stroke="#6c6c6c" stroke-width="1"/>
<line x1="239.70" y1="158.50" x2="241.30" y2="158.50" stroke="#6c6c6c" stroke-width="1"/>
<line x1="239.70" y1="130.30" x2="241.30" y2="130.30" stroke="#6c6c6c" stroke-width="1"/>
<line x1="239.70" y1="102.10" x2="241.30" y2="102.10" stroke="#6c6c6c" stroke-width="1"/>
<line x1="239.70" y1="73.90" x2="241.30" y2="73.90" stroke="#6c6c6c" stroke-width="1"/>
<line x1="239.70" y1="45.70" x2="241.30" y2="45.70" stroke="#6c6c6c" stroke-width="1"/>
<line x1="239.70" y1="17.50" x2="241.30" y2="17.50" stroke="#6c6c6c" stroke-width="1"/>
<line x1="238.50" y1="200.80" x2="241.30" y2="200.80" stroke="#6c6c6c" stroke-width="1"/>
<line x1="238.50" y1="172.60" x2="241.30" y2="172.60" stroke="#6c6c6c" stroke-width="1"/>
<line x1="238.50" y1="144.40" x2="241.30" y2="144.40" stroke="#6c6c6c" stroke-width="1"/>
<line x1="238.50" y1="116.20" x2="241.30" y2="116.20" stroke="#6c6c6c" stroke-width="1"/>
<line x1="238.50" y1="88.00" x2="241.30" y2="88.00" stroke="#6c6c6c" stroke-width="1"/>
<line x1="238.50" y1="59.80" x2="241.30" y2="59.80" stroke="#6c6c6c" stroke-width="1"/>
<line x1="238.50" y1="31.60" x2="241.30" y2="31.60" stroke="#6c6c6c" stroke-width="1"/>
<line x1="238.50" y1="3.40" x2="241.30" y2="3.40" stroke="#6c6c6c" stroke-width="1"/>
<text x="242.50" y="214.20" font-family="Liberation Serif" font-weight="bold" font-size="10" text-anchor="middle" fill="#111" stroke="#111" stroke-width="0.22" >0</text>
<text x="287.15" y="214.20" font-family="Liberation Serif" font-weight="bold" font-size="10" text-anchor="middle" fill="#111" stroke="#111" stroke-width="0.22" >5</text>
<text x="331.80" y="214.20" font-family="Liberation Serif" font-weight="bold" font-size="10" text-anchor="middle" fill="#111" stroke="#111" stroke-width="0.22" >10</text>
<text x="376.45" y="214.20" font-family="Liberation Serif" font-weight="bold" font-size="10" text-anchor="middle" fill="#111" stroke="#111" stroke-width="0.22" >15</text>
<text x="421.10" y="214.20" font-family="Liberation Serif" font-weight="bold" font-size="10" text-anchor="middle" fill="#111" stroke="#111" stroke-width="0.22" >20</text>
<text x="238.10" y="205.10" font-family="Liberation Serif" font-weight="bold" font-size="10" text-anchor="end" fill="#111" stroke="#111" stroke-width="0.22" >1</text>
<text x="238.10" y="176.90" font-family="Liberation Serif" font-weight="bold" font-size="10" text-anchor="end" fill="#111" stroke="#111" stroke-width="0.22" >2</text>
<text x="238.10" y="148.70" font-family="Liberation Serif" font-weight="bold" font-size="10" text-anchor="end" fill="#111" stroke="#111" stroke-width="0.22" >3</text>
<text x="238.10" y="120.50" font-family="Liberation Serif" font-weight="bold" font-size="10" text-anchor="end" fill="#111" stroke="#111" stroke-width="0.22" >4</text>
<text x="238.10" y="92.30" font-family="Liberation Serif" font-weight="bold" font-size="10" text-anchor="end" fill="#111" stroke="#111" stroke-width="0.22" >5</text>
<text x="238.10" y="64.10" font-family="Liberation Serif" font-weight="bold" font-size="10" text-anchor="end" fill="#111" stroke="#111" stroke-width="0.22" >6</text>
<text x="238.10" y="35.90" font-family="Liberation Serif" font-weight="bold" font-size="10" text-anchor="end" fill="#111" stroke="#111" stroke-width="0.22" >7</text>
<text x="238.10" y="7.70" font-family="Liberation Serif" font-weight="bold" font-size="10" text-anchor="end" fill="#111" stroke="#111" stroke-width="0.22" >8</text>
<text x="428.00" y="20.00" font-family="Liberation Serif" font-weight="bold" font-size="13" text-anchor="middle" fill="#111" stroke="#111" stroke-width="0.22" >B</text>
<g fill="#000"><circle cx="460.5" cy="31.5" r="2.5"/><circle cx="465.6" cy="33.3" r="2.5"/><circle cx="468.7" cy="24.4" r="2.5"/><circle cx="467.9" cy="54.3" r="2.5"/><circle cx="473.4" cy="66.1" r="2.5"/><circle cx="467.6" cy="70.5" r="2.5"/><circle cx="472.7" cy="75.4" r="2.5"/><circle cx="498.9" cy="60.3" r="2.5"/><circle cx="542.6" cy="84.3" r="2.5"/><circle cx="555.5" cy="88.2" r="2.5"/><circle cx="536.6" cy="97.6" r="2.5"/><circle cx="580.5" cy="86.9" r="2.5"/><circle cx="639.9" cy="60.3" r="2.5"/><circle cx="631.5" cy="92.0" r="2.5"/><circle cx="627.0" cy="97.1" r="2.5"/><circle cx="628.2" cy="95.8" r="2.5"/><circle cx="641.0" cy="95.8" r="2.5"/><circle cx="465.4" cy="128.2" r="2.5"/><circle cx="507.3" cy="135.9" r="2.5"/><circle cx="508.9" cy="157.0" r="2.5"/><circle cx="534.4" cy="133.9" r="2.5"/><circle cx="534.4" cy="141.5" r="2.5"/><circle cx="541.5" cy="163.9" r="2.5"/><circle cx="542.1" cy="102.7" r="2.5"/><circle cx="559.0" cy="104.9" r="2.5"/><circle cx="568.3" cy="115.1" r="2.5"/><circle cx="558.3" cy="139.5" r="2.5"/><circle cx="578.3" cy="145.9" r="2.5"/><circle cx="595.4" cy="148.1" r="2.5"/><circle cx="600.5" cy="135.5" r="2.5"/><circle cx="604.2" cy="114.9" r="2.5"/><circle cx="606.0" cy="118.2" r="2.5"/><circle cx="616.6" cy="170.5" r="2.5"/><circle cx="628.8" cy="115.5" r="2.5"/><circle cx="629.3" cy="117.7" r="2.5"/><circle cx="627.1" cy="131.0" r="2.5"/><circle cx="628.8" cy="132.8" r="2.5"/><circle cx="629.7" cy="141.5" r="2.5"/><circle cx="629.3" cy="151.0" r="2.5"/><circle cx="638.6" cy="114.4" r="2.5"/><circle cx="641.5" cy="116.6" r="2.5"/><circle cx="641.5" cy="123.3" r="2.5"/><circle cx="642.1" cy="127.7" r="2.5"/><circle cx="650.3" cy="115.5" r="2.5"/><circle cx="650.3" cy="153.7" r="2.5"/></g>
<path d="M457.70,74.20 L458.21,74.41 L458.72,74.63 L459.23,74.84 L459.74,75.05 L460.25,75.27 L460.76,75.48 L461.27,75.69 L461.79,75.91 L462.30,76.12 L462.81,76.33 L463.32,76.54 L463.83,76.76 L464.34,76.97 L464.85,77.18 L465.36,77.39 L465.87,77.61 L466.38,77.82 L466.89,78.03 L467.40,78.25 L467.91,78.46 L468.43,78.68 L468.94,78.89 L469.45,79.11 L469.96,79.33 L470.47,79.54 L470.98,79.76 L471.49,79.98 L472.00,80.20 L472.50,80.42 L473.00,80.63 L473.50,80.85 L474.00,81.07 L474.50,81.30 L475.00,81.52 L475.50,81.74 L476.00,81.97 L476.50,82.19 L477.00,82.41 L477.50,82.64 L478.00,82.86 L478.50,83.08 L479.00,83.30 L479.50,83.52 L480.00,83.74 L480.50,83.96 L481.00,84.18 L481.50,84.39 L482.00,84.60 L482.50,84.81 L483.00,85.02 L483.50,85.23 L484.00,85.43 L484.50,85.64 L485.00,85.85 L485.50,86.05 L486.00,86.26 L486.50,86.46 L487.00,86.66 L487.50,86.87 L488.00,87.06 L488.50,87.26 L489.00,87.46 L489.50,87.65 L490.00,87.85 L490.50,88.04 L491.00,88.23 L491.50,88.42 L492.00,88.60 L492.50,88.78 L493.00,88.96 L493.50,89.14 L494.00,89.32 L494.50,89.50 L495.00,89.67 L495.50,89.84 L496.00,90.01 L496.50,90.19 L497.00,90.35 L497.50,90.52 L498.00,90.69 L498.50,90.86 L499.00,91.02 L499.50,91.18 L500.00,91.35 L500.50,91.51 L501.00,91.68 L501.50,91.84 L502.00,92.00 L502.50,92.16 L503.00,92.32 L503.50,92.49 L504.00,92.65 L504.50,92.81 L505.00,92.97 L505.50,93.13 L506.00,93.29 L506.50,93.44 L507.00,93.60 L507.50,93.76 L508.00,93.91 L508.50,94.07 L509.00,94.22 L509.50,94.37 L510.00,94.52 L510.50,94.67 L511.00,94.81 L511.50,94.96 L512.00,95.10 L512.50,95.24 L513.00,95.38 L513.50,95.52 L514.00,95.66 L514.50,95.79 L515.00,95.93 L515.50,96.06 L516.00,96.19 L516.50,96.32 L517.00,96.45 L517.50,96.58 L518.00,96.71 L518.50,96.84 L519.00,96.97 L519.50,97.10 L520.00,97.22 L520.50,97.35 L521.00,97.47 L521.50,97.60 L522.00,97.72 L522.50,97.85 L523.00,97.97 L523.50,98.09 L524.00,98.22 L524.50,98.34 L525.00,98.46 L525.50,98.58 L526.00,98.71 L526.50,98.83 L527.00,98.95 L527.50,99.08 L528.00,99.20 L528.50,99.32 L529.00,99.45 L529.50,99.57 L530.00,99.70 L530.50,99.82 L531.00,99.95 L531.50,100.07 L532.00,100.20 L532.50,100.33 L533.01,100.46 L533.51,100.58 L534.02,100.71 L534.52,100.84 L535.02,100.97 L535.53,101.10 L536.03,101.23 L536.54,101.35 L537.04,101.48 L537.55,101.61 L538.05,101.74 L538.55,101.87 L539.06,102.00 L539.56,102.12 L540.07,102.25 L540.57,102.38 L541.08,102.51 L541.58,102.64 L542.08,102.77 L542.59,102.89 L543.09,103.02 L543.60,103.15 L544.10,103.28 L544.60,103.41 L545.11,103.53 L545.61,103.66 L546.12,103.79 L546.62,103.92 L547.12,104.05 L547.63,104.18 L548.13,104.30 L548.64,104.43 L549.14,104.56 L549.65,104.69 L550.15,104.82 L550.65,104.94 L551.16,105.07 L551.66,105.20 L552.17,105.33 L552.67,105.46 L553.17,105.58 L553.68,105.71 L554.18,105.84 L554.69,105.97 L555.19,106.09 L555.70,106.22 L556.20,106.35 L556.70,106.48 L557.21,106.61 L557.71,106.73 L558.22,106.86 L558.72,106.99 L559.22,107.12 L559.73,107.24 L560.23,107.37 L560.74,107.50 L561.24,107.62 L561.75,107.75 L562.25,107.88 L562.75,108.01 L563.26,108.13 L563.76,108.26 L564.27,108.39 L564.77,108.51 L565.27,108.64 L565.78,108.77 L566.28,108.89 L566.79,109.02 L567.29,109.15 L567.80,109.27 L568.30,109.40 L568.80,109.53 L569.31,109.65 L569.81,109.78 L570.32,109.90 L570.82,110.03 L571.32,110.16 L571.83,110.28 L572.33,110.41 L572.84,110.53 L573.34,110.66 L573.84,110.78 L574.35,110.91 L574.85,111.03 L575.36,111.16 L575.86,111.28 L576.36,111.41 L576.87,111.53 L577.37,111.65 L577.88,111.78 L578.38,111.90 L578.88,112.03 L579.39,112.15 L579.89,112.27 L580.39,112.40 L580.90,112.52 L581.40,112.65 L581.91,112.77 L582.41,112.89 L582.91,113.02 L583.42,113.14 L583.92,113.27 L584.43,113.39 L584.93,113.51 L585.43,113.64 L585.94,113.76 L586.44,113.88 L586.95,114.01 L587.45,114.13 L587.95,114.26 L588.46,114.38 L588.96,114.50 L589.47,114.63 L589.97,114.75 L590.47,114.88 L590.98,115.00 L591.48,115.12 L591.99,115.25 L592.49,115.37 L592.99,115.50 L593.50,115.62 L594.00,115.75 L594.51,115.87 L595.01,116.00 L595.51,116.12 L596.02,116.25 L596.52,116.37 L597.02,116.50 L597.53,116.62 L598.03,116.75 L598.54,116.87 L599.04,117.00 L599.54,117.12 L600.05,117.25 L600.55,117.38 L601.06,117.50 L601.56,117.63 L602.06,117.75 L602.57,117.88 L603.07,118.01 L603.58,118.13 L604.08,118.26 L604.58,118.39 L605.09,118.52 L605.59,118.64 L606.10,118.77 L606.60,118.90 L607.11,119.03 L607.61,119.16 L608.12,119.29 L608.62,119.42 L609.13,119.55 L609.63,119.68 L610.14,119.81 L610.64,119.94 L611.15,120.07 L611.65,120.20 L612.16,120.33 L612.66,120.47 L613.17,120.60 L613.67,120.73 L614.18,120.86 L614.68,121.00 L615.19,121.13 L615.69,121.26 L616.20,121.40 L616.71,121.53 L617.21,121.66 L617.72,121.80 L618.22,121.93 L618.73,122.06 L619.23,122.20 L619.74,122.33 L620.24,122.46 L620.75,122.60 L621.25,122.73 L621.76,122.87 L622.26,123.00 L622.77,123.13 L623.27,123.27 L623.78,123.40 L624.28,123.53 L624.79,123.67 L625.29,123.80 L625.80,123.93 L626.31,124.06 L626.81,124.20 L627.32,124.33 L627.82,124.46 L628.33,124.59 L628.83,124.72 L629.34,124.85 L629.84,124.98 L630.35,125.11 L630.85,125.25 L631.36,125.38 L631.86,125.50 L632.37,125.63 L632.87,125.76 L633.38,125.89 L633.88,126.02 L634.39,126.15 L634.89,126.27 L635.40,126.40 L635.90,126.53 L636.41,126.65 L636.91,126.78 L637.41,126.90 L637.91,127.02 L638.42,127.15 L638.92,127.27 L639.42,127.39 L639.92,127.52 L640.43,127.64 L640.93,127.76 L641.43,127.88 L641.94,128.00 L642.44,128.13 L642.94,128.25 L643.44,128.37 L643.95,128.49 L644.45,128.61 L644.95,128.73 L645.45,128.85 L645.96,128.97 L646.46,129.09 L646.96,129.21 L647.46,129.33 L647.97,129.45 L648.47,129.57 L648.97,129.69 L649.48,129.81 L649.98,129.93 L650.48,130.05 L650.98,130.17 L651.49,130.29 L651.99,130.42 L652.49,130.54 L652.99,130.66 L653.50,130.78 L654.00,130.90" fill="none" stroke="#22d622" stroke-width="2.0" stroke-linejoin="round" stroke-linecap="butt"/>
<path d="M457.70,37.20 L458.27,39.20 L458.85,41.23 L459.43,43.19 L460.00,45.00 L460.50,46.44 L461.00,47.80 L461.50,49.10 L462.00,50.36 L462.50,51.58 L463.00,52.79 L463.50,54.00 L464.00,55.21 L464.50,56.42 L465.00,57.60 L465.50,58.77 L466.00,59.89 L466.50,60.97 L467.00,62.00 L467.50,62.98 L468.00,63.92 L468.50,64.84 L469.00,65.72 L469.50,66.58 L470.00,67.41 L470.50,68.22 L471.00,69.00 L471.50,69.74 L472.00,70.44 L472.50,71.11 L473.00,71.76 L473.50,72.41 L474.00,73.07 L474.50,73.76 L475.00,74.50 L475.50,75.29 L476.00,76.12 L476.50,76.99 L477.00,77.89 L477.50,78.81 L478.00,79.73 L478.50,80.66 L479.00,81.58 L479.50,82.48 L480.00,83.36 L480.50,84.20 L481.00,85.00 L481.50,85.77 L482.00,86.52 L482.50,87.25 L483.00,87.97 L483.50,88.67 L484.00,89.36 L484.50,90.04 L485.00,90.70 L485.50,91.36 L486.00,92.00 L486.50,92.64 L487.00,93.27 L487.50,93.90 L488.00,94.52 L488.50,95.13 L489.00,95.73 L489.50,96.32 L490.00,96.89 L490.50,97.44 L491.00,97.98 L491.50,98.50 L492.00,99.00 L492.50,99.48 L493.00,99.95 L493.50,100.41 L494.00,100.86 L494.50,101.29 L495.00,101.72 L495.50,102.13 L496.00,102.53 L496.50,102.92 L497.00,103.29 L497.50,103.65 L498.00,104.00 L498.50,104.34 L499.00,104.67 L499.50,105.00 L500.00,105.31 L500.50,105.63 L501.00,105.93 L501.50,106.22 L502.00,106.51 L502.50,106.78 L503.00,107.05 L503.50,107.31 L504.00,107.55 L504.50,107.78 L505.00,108.00 L505.50,108.21 L506.00,108.42 L506.50,108.62 L507.00,108.81 L507.50,109.01 L508.00,109.19 L508.50,109.37 L509.00,109.55 L509.50,109.72 L510.00,109.89 L510.50,110.05 L511.00,110.20 L511.50,110.35 L512.00,110.49 L512.50,110.63 L513.00,110.76 L513.50,110.88 L514.00,111.00 L514.50,111.11 L515.00,111.22 L515.50,111.32 L516.00,111.41 L516.50,111.50 L517.00,111.59 L517.50,111.68 L518.00,111.76 L518.50,111.84 L519.00,111.92 L519.50,112.00 L520.00,112.08 L520.50,112.16 L521.00,112.24 L521.50,112.32 L522.00,112.40 L522.50,112.48 L523.00,112.57 L523.50,112.65 L524.00,112.74 L524.50,112.82 L525.00,112.91 L525.50,112.99 L526.00,113.07 L526.50,113.16 L527.00,113.24 L527.50,113.32 L528.00,113.40 L528.50,113.48 L529.00,113.56 L529.50,113.64 L530.00,113.71 L530.50,113.79 L531.00,113.86 L531.50,113.93 L532.00,114.00 L532.50,114.07 L533.01,114.14 L533.51,114.20 L534.02,114.27 L534.52,114.33 L535.02,114.40 L535.53,114.46 L536.03,114.53 L536.54,114.59 L537.04,114.65 L537.55,114.72 L538.05,114.78 L538.55,114.84 L539.06,114.90 L539.56,114.96 L540.07,115.02 L540.57,115.08 L541.08,115.14 L541.58,115.20 L542.08,115.26 L542.59,115.32 L543.09,115.38 L543.60,115.43 L544.10,115.49 L544.60,115.55 L545.11,115.60 L545.61,115.66 L546.12,115.72 L546.62,115.77 L547.12,115.83 L547.63,115.88 L548.13,115.94 L548.64,115.99 L549.14,116.05 L549.65,116.10 L550.15,116.15 L550.65,116.21 L551.16,116.26 L551.66,116.31 L552.17,116.37 L552.67,116.42 L553.17,116.47 L553.68,116.52 L554.18,116.57 L554.69,116.63 L555.19,116.68 L555.70,116.73 L556.20,116.78 L556.70,116.83 L557.21,116.88 L557.71,116.93 L558.22,116.99 L558.72,117.04 L559.22,117.09 L559.73,117.14 L560.23,117.19 L560.74,117.24 L561.24,117.29 L561.75,117.34 L562.25,117.39 L562.75,117.44 L563.26,117.49 L563.76,117.54 L564.27,117.59 L564.77,117.64 L565.27,117.69 L565.78,117.75 L566.28,117.80 L566.79,117.85 L567.29,117.90 L567.80,117.95 L568.30,118.00 L568.80,118.05 L569.31,118.10 L569.81,118.15 L570.32,118.20 L570.82,118.26 L571.32,118.31 L571.83,118.36 L572.33,118.41 L572.84,118.46 L573.34,118.51 L573.84,118.56 L574.35,118.61 L574.85,118.67 L575.36,118.72 L575.86,118.77 L576.36,118.82 L576.87,118.87 L577.37,118.92 L577.88,118.97 L578.38,119.02 L578.88,119.07 L579.39,119.12 L579.89,119.17 L580.39,119.22 L580.90,119.27 L581.40,119.32 L581.91,119.37 L582.41,119.42 L582.91,119.47 L583.42,119.52 L583.92,119.57 L584.43,119.62 L584.93,119.67 L585.43,119.72 L585.94,119.77 L586.44,119.82 L586.95,119.87 L587.45,119.92 L587.95,119.97 L588.46,120.01 L588.96,120.06 L589.47,120.11 L589.97,120.16 L590.47,120.21 L590.98,120.25 L591.48,120.30 L591.99,120.35 L592.49,120.39 L592.99,120.44 L593.50,120.49 L594.00,120.53 L594.51,120.58 L595.01,120.63 L595.51,120.67 L596.02,120.72 L596.52,120.76 L597.02,120.81 L597.53,120.85 L598.03,120.89 L598.54,120.94 L599.04,120.98 L599.54,121.03 L600.05,121.07 L600.55,121.11 L601.06,121.15 L601.56,121.20 L602.06,121.24 L602.57,121.28 L603.07,121.32 L603.58,121.36 L604.08,121.40 L604.58,121.44 L605.09,121.48 L605.59,121.52 L606.10,121.56 L606.60,121.60 L607.11,121.64 L607.61,121.68 L608.12,121.71 L608.62,121.75 L609.13,121.79 L609.63,121.82 L610.14,121.86 L610.64,121.89 L611.15,121.93 L611.65,121.96 L612.16,122.00 L612.66,122.03 L613.17,122.07 L613.67,122.10 L614.18,122.13 L614.68,122.16 L615.19,122.20 L615.69,122.23 L616.20,122.26 L616.71,122.29 L617.21,122.32 L617.72,122.35 L618.22,122.39 L618.73,122.42 L619.23,122.45 L619.74,122.48 L620.24,122.51 L620.75,122.54 L621.25,122.57 L621.76,122.60 L622.26,122.63 L622.77,122.66 L623.27,122.69 L623.78,122.72 L624.28,122.76 L624.79,122.79 L625.29,122.82 L625.80,122.85 L626.31,122.88 L626.81,122.91 L627.32,122.95 L627.82,122.98 L628.33,123.01 L628.83,123.04 L629.34,123.08 L629.84,123.11 L630.35,123.14 L630.85,123.18 L631.36,123.21 L631.86,123.25 L632.37,123.28 L632.87,123.32 L633.38,123.35 L633.88,123.39 L634.39,123.42 L634.89,123.46 L635.40,123.50 L635.90,123.54 L636.41,123.58 L636.91,123.62 L637.41,123.66 L637.91,123.70 L638.42,123.74 L638.92,123.78 L639.42,123.82 L639.92,123.86 L640.43,123.90 L640.93,123.95 L641.43,123.99 L641.94,124.03 L642.44,124.08 L642.94,124.12 L643.44,124.16 L643.95,124.21 L644.45,124.25 L644.95,124.30 L645.45,124.34 L645.96,124.39 L646.46,124.43 L646.96,124.48 L647.46,124.52 L647.97,124.57 L648.47,124.61 L648.97,124.66 L649.48,124.70 L649.98,124.75 L650.48,124.79 L650.98,124.84 L651.49,124.88 L651.99,124.92 L652.49,124.97 L652.99,125.01 L653.50,125.06 L654.00,125.10" fill="none" stroke="#38e0ea" stroke-width="2.0" stroke-linejoin="round" stroke-linecap="butt"/>
<path d="M457.70,39.50 L458.20,41.87 L458.70,44.31 L459.20,46.72 L459.70,48.98 L460.20,51.00 L460.72,52.91 L461.25,54.75 L461.77,56.50 L462.30,58.15 L462.82,59.71 L463.35,61.16 L463.88,62.49 L464.40,63.70 L464.91,64.78 L465.42,65.80 L465.93,66.75 L466.44,67.65 L466.96,68.50 L467.47,69.31 L467.98,70.07 L468.49,70.80 L469.00,71.50 L469.50,72.15 L470.00,72.77 L470.50,73.36 L471.00,73.93 L471.50,74.47 L472.00,75.00 L472.50,75.51 L473.00,76.01 L473.50,76.51 L474.00,77.00 L474.50,77.49 L475.00,77.97 L475.50,78.45 L476.00,78.92 L476.50,79.38 L477.00,79.84 L477.50,80.29 L478.00,80.73 L478.50,81.17 L479.00,81.60 L479.50,82.02 L480.00,82.43 L480.50,82.84 L481.00,83.23 L481.50,83.62 L482.00,84.00 L482.50,84.37 L483.00,84.74 L483.50,85.09 L484.00,85.45 L484.50,85.79 L485.00,86.13 L485.50,86.47 L486.00,86.80 L486.50,87.12 L487.00,87.44 L487.50,87.76 L488.00,88.07 L488.50,88.38 L489.00,88.69 L489.50,89.00 L490.00,89.30 L490.50,89.60 L491.00,89.90 L491.50,90.20 L492.00,90.50 L492.50,90.80 L493.00,91.09 L493.50,91.39 L494.00,91.68 L494.50,91.97 L495.00,92.26 L495.50,92.55 L496.00,92.83 L496.50,93.11 L497.00,93.39 L497.50,93.67 L498.00,93.94 L498.50,94.21 L499.00,94.48 L499.50,94.74 L500.00,95.00 L500.50,95.26 L501.00,95.51 L501.50,95.76 L502.00,96.00 L502.50,96.24 L503.00,96.48 L503.50,96.72 L504.00,96.96 L504.50,97.19 L505.00,97.43 L505.50,97.66 L506.00,97.89 L506.50,98.11 L507.00,98.34 L507.50,98.56 L508.00,98.77 L508.50,98.98 L509.00,99.19 L509.50,99.39 L510.00,99.58 L510.50,99.77 L511.00,99.95 L511.50,100.13 L512.00,100.30 L512.50,100.47 L513.00,100.63 L513.50,100.79 L514.00,100.94 L514.50,101.10 L515.00,101.25 L515.50,101.39 L516.00,101.54 L516.50,101.68 L517.00,101.82 L517.50,101.96 L518.00,102.10 L518.50,102.23 L519.00,102.37 L519.50,102.50 L520.00,102.63 L520.50,102.76 L521.00,102.88 L521.50,103.01 L522.00,103.13 L522.50,103.25 L523.00,103.38 L523.50,103.50 L524.00,103.62 L524.50,103.74 L525.00,103.85 L525.50,103.97 L526.00,104.09 L526.50,104.21 L527.00,104.32 L527.50,104.44 L528.00,104.56 L528.50,104.67 L529.00,104.79 L529.50,104.91 L530.00,105.02 L530.50,105.14 L531.00,105.26 L531.50,105.38 L532.00,105.50 L532.50,105.62 L533.01,105.74 L533.51,105.86 L534.02,105.98 L534.52,106.10 L535.02,106.22 L535.53,106.34 L536.03,106.46 L536.54,106.58 L537.04,106.70 L537.55,106.81 L538.05,106.93 L538.55,107.05 L539.06,107.17 L539.56,107.28 L540.07,107.40 L540.57,107.52 L541.08,107.63 L541.58,107.75 L542.08,107.86 L542.59,107.98 L543.09,108.09 L543.60,108.21 L544.10,108.32 L544.60,108.44 L545.11,108.55 L545.61,108.66 L546.12,108.78 L546.62,108.89 L547.12,109.00 L547.63,109.11 L548.13,109.22 L548.64,109.34 L549.14,109.45 L549.65,109.56 L550.15,109.67 L550.65,109.78 L551.16,109.89 L551.66,110.00 L552.17,110.11 L552.67,110.22 L553.17,110.33 L553.68,110.44 L554.18,110.55 L554.69,110.66 L555.19,110.76 L555.70,110.87 L556.20,110.98 L556.70,111.09 L557.21,111.20 L557.71,111.30 L558.22,111.41 L558.72,111.52 L559.22,111.62 L559.73,111.73 L560.23,111.83 L560.74,111.94 L561.24,112.05 L561.75,112.15 L562.25,112.26 L562.75,112.36 L563.26,112.47 L563.76,112.57 L564.27,112.67 L564.77,112.78 L565.27,112.88 L565.78,112.99 L566.28,113.09 L566.79,113.19 L567.29,113.29 L567.80,113.40 L568.30,113.50 L568.80,113.60 L569.31,113.70 L569.81,113.81 L570.32,113.91 L570.82,114.01 L571.32,114.11 L571.83,114.21 L572.33,114.31 L572.84,114.41 L573.34,114.51 L573.84,114.61 L574.35,114.71 L574.85,114.81 L575.36,114.91 L575.86,115.01 L576.36,115.11 L576.87,115.21 L577.37,115.31 L577.88,115.41 L578.38,115.50 L578.88,115.60 L579.39,115.70 L579.89,115.80 L580.39,115.90 L580.90,115.99 L581.40,116.09 L581.91,116.19 L582.41,116.28 L582.91,116.38 L583.42,116.48 L583.92,116.57 L584.43,116.67 L584.93,116.76 L585.43,116.86 L585.94,116.95 L586.44,117.05 L586.95,117.14 L587.45,117.24 L587.95,117.33 L588.46,117.43 L588.96,117.52 L589.47,117.62 L589.97,117.71 L590.47,117.80 L590.98,117.90 L591.48,117.99 L591.99,118.08 L592.49,118.17 L592.99,118.27 L593.50,118.36 L594.00,118.45 L594.51,118.54 L595.01,118.64 L595.51,118.73 L596.02,118.82 L596.52,118.91 L597.02,119.00 L597.53,119.09 L598.03,119.18 L598.54,119.27 L599.04,119.36 L599.54,119.45 L600.05,119.54 L600.55,119.63 L601.06,119.72 L601.56,119.81 L602.06,119.90 L602.57,119.99 L603.07,120.08 L603.58,120.17 L604.08,120.26 L604.58,120.35 L605.09,120.44 L605.59,120.52 L606.10,120.61 L606.60,120.70 L607.11,120.79 L607.61,120.88 L608.12,120.96 L608.62,121.05 L609.13,121.13 L609.63,121.22 L610.14,121.31 L610.64,121.39 L611.15,121.48 L611.65,121.56 L612.16,121.65 L612.66,121.73 L613.17,121.81 L613.67,121.90 L614.18,121.98 L614.68,122.06 L615.19,122.14 L615.69,122.23 L616.20,122.31 L616.71,122.39 L617.21,122.47 L617.72,122.56 L618.22,122.64 L618.73,122.72 L619.23,122.80 L619.74,122.88 L620.24,122.96 L620.75,123.04 L621.25,123.12 L621.76,123.20 L622.26,123.28 L622.77,123.37 L623.27,123.45 L623.78,123.53 L624.28,123.61 L624.79,123.69 L625.29,123.77 L625.80,123.85 L626.31,123.93 L626.81,124.01 L627.32,124.09 L627.82,124.17 L628.33,124.25 L628.83,124.33 L629.34,124.41 L629.84,124.50 L630.35,124.58 L630.85,124.66 L631.36,124.74 L631.86,124.82 L632.37,124.90 L632.87,124.99 L633.38,125.07 L633.88,125.15 L634.39,125.23 L634.89,125.32 L635.40,125.40 L635.90,125.48 L636.41,125.57 L636.91,125.65 L637.41,125.73 L637.91,125.82 L638.42,125.90 L638.92,125.98 L639.42,126.07 L639.92,126.15 L640.43,126.23 L640.93,126.32 L641.43,126.40 L641.94,126.48 L642.44,126.57 L642.94,126.65 L643.44,126.74 L643.95,126.82 L644.45,126.90 L644.95,126.99 L645.45,127.07 L645.96,127.16 L646.46,127.24 L646.96,127.32 L647.46,127.41 L647.97,127.49 L648.47,127.58 L648.97,127.66 L649.48,127.74 L649.98,127.83 L650.48,127.91 L650.98,128.00 L651.49,128.08 L651.99,128.16 L652.49,128.25 L652.99,128.33 L653.50,128.42 L654.00,128.50" fill="none" stroke="#1a1ab8" stroke-width="2.0" stroke-linejoin="round" stroke-linecap="butt"/>
<path d="M458.10,2.50 L458.10,2.60 L458.37,6.89 L458.63,11.17 L458.90,15.00 L459.10,17.50 L459.30,19.83 L459.50,22.03 L459.70,24.11 L459.90,26.10 L460.10,28.00 L460.33,30.08 L460.55,32.06 L460.77,33.88 L461.00,35.50 L461.20,36.79 L461.40,38.02 L461.60,39.18 L461.80,40.29 L462.00,41.34 L462.20,42.35 L462.40,43.31 L462.60,44.24 L462.80,45.13 L463.00,46.00 L463.20,46.84 L463.40,47.64 L463.60,48.41 L463.80,49.15 L464.00,49.87 L464.20,50.57 L464.40,51.25 L464.60,51.91 L464.80,52.56 L465.00,53.20 L465.21,53.85 L465.41,54.49 L465.62,55.11 L465.82,55.72 L466.03,56.33 L466.24,56.92 L466.44,57.50 L466.65,58.08 L466.85,58.65 L467.06,59.21 L467.26,59.76 L467.47,60.31 L467.68,60.86 L467.88,61.40 L468.09,61.93 L468.29,62.47 L468.50,63.00 L468.70,63.53 L468.91,64.06 L469.11,64.59 L469.31,65.13 L469.52,65.67 L469.72,66.21 L469.93,66.74 L470.13,67.28 L470.33,67.81 L470.54,68.35 L470.74,68.87 L470.94,69.39 L471.15,69.91 L471.35,70.42 L471.56,70.92 L471.76,71.41 L471.96,71.89 L472.17,72.37 L472.37,72.83 L472.57,73.28 L472.78,73.71 L472.98,74.13 L473.19,74.54 L473.39,74.93 L473.59,75.30 L473.80,75.66 L474.00,76.00 L474.20,76.32 L474.40,76.64 L474.60,76.95 L474.80,77.25 L475.00,77.55 L475.20,77.85 L475.40,78.14 L475.60,78.42 L475.80,78.70 L476.00,78.98 L476.20,79.25 L476.40,79.52 L476.60,79.79 L476.80,80.04 L477.00,80.30 L477.20,80.55 L477.40,80.80 L477.60,81.04 L477.80,81.28 L478.00,81.51 L478.20,81.75 L478.40,81.97 L478.60,82.20 L478.80,82.42 L479.00,82.63 L479.20,82.85 L479.40,83.06 L479.60,83.26 L479.80,83.47 L480.00,83.67 L480.20,83.86 L480.40,84.06 L480.60,84.25 L480.80,84.43 L481.00,84.62 L481.20,84.80 L481.40,84.98 L481.60,85.16 L481.80,85.33 L482.00,85.50 L482.20,85.67 L482.40,85.83 L482.60,86.00 L482.80,86.16 L483.00,86.32 L483.20,86.48 L483.40,86.63 L483.60,86.78 L483.80,86.93 L484.00,87.08 L484.20,87.23 L484.40,87.37 L484.60,87.52 L484.80,87.66 L485.00,87.80 L485.20,87.93 L485.40,88.07 L485.60,88.20 L485.80,88.34 L486.00,88.47 L486.20,88.60 L486.40,88.73 L486.60,88.85 L486.80,88.98 L487.00,89.11 L487.20,89.23 L487.40,89.35 L487.60,89.47 L487.80,89.59 L488.00,89.71 L488.20,89.83 L488.40,89.95 L488.60,90.07 L488.80,90.18 L489.00,90.30 L489.20,90.42 L489.40,90.53 L489.60,90.64 L489.80,90.76 L490.00,90.87 L490.20,90.99 L490.40,91.10 L490.60,91.21 L490.80,91.32 L491.00,91.44 L491.20,91.55 L491.40,91.66 L491.60,91.77 L491.80,91.89 L492.00,92.00 L492.20,92.11 L492.40,92.22 L492.60,92.33 L492.80,92.44 L493.00,92.55 L493.20,92.66 L493.40,92.77 L493.60,92.88 L493.80,92.98 L494.00,93.09 L494.20,93.19 L494.40,93.29 L494.60,93.40 L494.80,93.50 L495.00,93.60 L495.20,93.70 L495.40,93.80 L495.60,93.90 L495.80,94.00 L496.00,94.10 L496.20,94.20 L496.40,94.30 L496.60,94.40 L496.80,94.50 L497.00,94.59 L497.20,94.69 L497.40,94.79 L497.60,94.88 L497.80,94.98 L498.00,95.08 L498.20,95.17 L498.40,95.27 L498.60,95.36 L498.80,95.46 L499.00,95.56 L499.20,95.65 L499.40,95.75 L499.60,95.84 L499.80,95.94 L500.00,96.03 L500.20,96.13 L500.40,96.23 L500.60,96.32 L500.80,96.42 L501.00,96.51 L501.20,96.61 L501.40,96.71 L501.60,96.80 L501.80,96.90 L502.00,97.00 L502.20,97.10 L502.40,97.20 L502.60,97.30 L502.80,97.40 L503.00,97.50 L503.20,97.60 L503.40,97.70 L503.60,97.81 L503.80,97.91 L504.00,98.01 L504.20,98.12 L504.40,98.22 L504.60,98.33 L504.80,98.43 L505.00,98.54 L505.20,98.64 L505.40,98.75 L505.60,98.85 L505.80,98.96 L506.00,99.06 L506.20,99.16 L506.40,99.27 L506.60,99.37 L506.80,99.47 L507.00,99.58 L507.20,99.68 L507.40,99.78 L507.60,99.88 L507.80,99.98 L508.00,100.08 L508.20,100.18 L508.40,100.27 L508.60,100.37 L508.80,100.46 L509.00,100.56 L509.20,100.65 L509.40,100.74 L509.60,100.83 L509.80,100.92 L510.00,101.01 L510.20,101.10 L510.40,101.18 L510.60,101.27 L510.80,101.35 L511.00,101.43 L511.20,101.51 L511.40,101.58 L511.60,101.66 L511.80,101.73 L512.00,101.80 L512.20,101.87 L512.40,101.94 L512.60,102.01 L512.80,102.07 L513.00,102.14 L513.20,102.21 L513.40,102.27 L513.60,102.34 L513.80,102.40 L514.00,102.47 L514.20,102.53 L514.40,102.59 L514.60,102.65 L514.80,102.72 L515.00,102.78 L515.20,102.84 L515.40,102.90 L515.60,102.96 L515.80,103.02 L516.00,103.07 L516.20,103.13 L516.40,103.19 L516.60,103.25 L516.80,103.30 L517.00,103.36 L517.20,103.42 L517.40,103.47 L517.60,103.53 L517.80,103.58 L518.00,103.63 L518.20,103.69 L518.40,103.74 L518.60,103.80 L518.80,103.85 L519.00,103.90 L519.20,103.95 L519.40,104.00 L519.60,104.06 L519.80,104.11 L520.00,104.16 L520.20,104.21 L520.40,104.26 L520.60,104.31 L520.80,104.36 L521.00,104.41 L521.20,104.46 L521.40,104.50 L521.60,104.55 L521.80,104.60 L522.00,104.65 L522.20,104.70 L522.40,104.75 L522.60,104.79 L522.80,104.84 L523.00,104.89 L523.20,104.93 L523.40,104.98 L523.60,105.03 L523.80,105.08 L524.00,105.12 L524.20,105.17 L524.40,105.22 L524.60,105.26 L524.80,105.31 L525.00,105.35 L525.20,105.40 L525.40,105.45 L525.60,105.49 L525.80,105.54 L526.00,105.58 L526.20,105.63 L526.40,105.68 L526.60,105.72 L526.80,105.77 L527.00,105.81 L527.20,105.86 L527.40,105.91 L527.60,105.95 L527.80,106.00 L528.00,106.04 L528.20,106.09 L528.40,106.14 L528.60,106.18 L528.80,106.23 L529.00,106.28 L529.20,106.32 L529.40,106.37 L529.60,106.42 L529.80,106.47 L530.00,106.51 L530.20,106.56 L530.40,106.61 L530.60,106.66 L530.80,106.71 L531.00,106.75 L531.20,106.80 L531.40,106.85 L531.60,106.90 L531.80,106.95 L532.00,107.00 L532.20,107.05 L532.40,107.10 L532.60,107.15 L532.80,107.20 L533.00,107.25 L533.20,107.30 L533.40,107.35 L533.60,107.40 L533.80,107.45 L534.01,107.50 L534.21,107.55 L534.41,107.60 L534.61,107.65 L534.81,107.71 L535.01,107.76 L535.21,107.81 L535.41,107.86 L535.61,107.91 L535.81,107.96 L536.01,108.01 L536.21,108.06 L536.41,108.11 L536.61,108.16 L536.81,108.22 L537.01,108.27 L537.21,108.32 L537.41,108.37 L537.62,108.42 L537.82,108.47 L538.02,108.52 L538.22,108.57 L538.42,108.63 L538.62,108.68 L538.82,108.73 L539.02,108.78 L539.22,108.83 L539.42,108.88 L539.62,108.93 L539.82,108.99 L540.02,109.04 L540.22,109.09 L540.42,109.14 L540.62,109.19 L540.82,109.24 L541.02,109.29 L541.23,109.35 L541.43,109.40 L541.63,109.45 L541.83,109.50 L542.03,109.55 L542.23,109.60 L542.43,109.65 L542.63,109.71 L542.83,109.76 L543.03,109.81 L543.23,109.86 L543.43,109.91 L543.63,109.96 L543.83,110.01 L544.03,110.06 L544.23,110.12 L544.43,110.17 L544.63,110.22 L544.84,110.27 L545.04,110.32 L545.24,110.37 L545.44,110.42 L545.64,110.47 L545.84,110.52 L546.04,110.58 L546.24,110.63 L546.44,110.68 L546.64,110.73 L546.84,110.78 L547.04,110.83 L547.24,110.88 L547.44,110.93 L547.64,110.98 L547.84,111.03 L548.04,111.08 L548.24,111.13 L548.45,111.18 L548.65,111.23 L548.85,111.28 L549.05,111.33 L549.25,111.38 L549.45,111.43 L549.65,111.48 L549.85,111.53 L550.05,111.58 L550.25,111.63 L550.45,111.68 L550.65,111.73 L550.85,111.78 L551.05,111.83 L551.25,111.88 L551.45,111.93 L551.65,111.98 L551.85,112.03 L552.06,112.08 L552.26,112.13 L552.46,112.17 L552.66,112.22 L552.86,112.27 L553.06,112.32 L553.26,112.37 L553.46,112.42 L553.66,112.46 L553.86,112.51 L554.06,112.56 L554.26,112.61 L554.46,112.66 L554.66,112.70 L554.86,112.75 L555.06,112.80 L555.26,112.85 L555.46,112.89 L555.67,112.94 L555.87,112.99 L556.07,113.03 L556.27,113.08 L556.47,113.13 L556.67,113.17 L556.87,113.22 L557.07,113.27 L557.27,113.31 L557.47,113.36 L557.67,113.40 L557.87,113.45 L558.07,113.50 L558.27,113.54 L558.47,113.59 L558.67,113.63 L558.87,113.68 L559.07,113.72 L559.28,113.77 L559.48,113.81 L559.68,113.86 L559.88,113.90 L560.08,113.94 L560.28,113.99 L560.48,114.03 L560.68,114.07 L560.88,114.12 L561.08,114.16 L561.28,114.20 L561.48,114.25 L561.68,114.29 L561.88,114.33 L562.08,114.38 L562.28,114.42 L562.48,114.46 L562.68,114.50 L562.89,114.54 L563.09,114.59 L563.29,114.63 L563.49,114.67 L563.69,114.71 L563.89,114.75 L564.09,114.79 L564.29,114.83 L564.49,114.87 L564.69,114.91 L564.89,114.95 L565.09,114.99 L565.29,115.03 L565.49,115.07 L565.69,115.11 L565.89,115.15 L566.09,115.19 L566.29,115.23 L566.50,115.26 L566.70,115.30 L566.90,115.34 L567.10,115.38 L567.30,115.42 L567.50,115.45 L567.70,115.49 L567.90,115.53 L568.10,115.56 L568.30,115.60 L568.50,115.64 L568.70,115.67 L568.90,115.71 L569.10,115.74 L569.30,115.78 L569.50,115.82 L569.70,115.85 L569.90,115.89 L570.10,115.92 L570.31,115.96 L570.51,115.99 L570.71,116.02 L570.91,116.06 L571.11,116.09 L571.31,116.13 L571.51,116.16 L571.71,116.19 L571.91,116.23 L572.11,116.26 L572.31,116.30 L572.51,116.33 L572.71,116.36 L572.91,116.39 L573.11,116.43 L573.31,116.46 L573.51,116.49 L573.71,116.52 L573.91,116.56 L574.12,116.59 L574.32,116.62 L574.52,116.65 L574.72,116.68 L574.92,116.72 L575.12,116.75 L575.32,116.78 L575.52,116.81 L575.72,116.84 L575.92,116.87 L576.12,116.90 L576.32,116.93 L576.52,116.97 L576.72,117.00 L576.92,117.03 L577.12,117.06 L577.32,117.09 L577.52,117.12 L577.72,117.15 L577.93,117.18 L578.13,117.21 L578.33,117.24 L578.53,117.27 L578.73,117.30 L578.93,117.33 L579.13,117.36 L579.33,117.39 L579.53,117.41 L579.73,117.44 L579.93,117.47 L580.13,117.50 L580.33,117.53 L580.53,117.56 L580.73,117.59 L580.93,117.62 L581.13,117.65 L581.33,117.67 L581.53,117.70 L581.74,117.73 L581.94,117.76 L582.14,117.79 L582.34,117.82 L582.54,117.84 L582.74,117.87 L582.94,117.90 L583.14,117.93 L583.34,117.96 L583.54,117.98 L583.74,118.01 L583.94,118.04 L584.14,118.07 L584.34,118.10 L584.54,118.12 L584.74,118.15 L584.94,118.18 L585.14,118.21 L585.34,118.23 L585.55,118.26 L585.75,118.29 L585.95,118.32 L586.15,118.34 L586.35,118.37 L586.55,118.40 L586.75,118.42 L586.95,118.45 L587.15,118.48 L587.35,118.51 L587.55,118.53 L587.75,118.56 L587.95,118.59 L588.15,118.61 L588.35,118.64 L588.55,118.67 L588.75,118.69 L588.95,118.72 L589.15,118.75 L589.35,118.78 L589.56,118.80 L589.76,118.83 L589.96,118.86 L590.16,118.88 L590.36,118.91 L590.56,118.94 L590.76,118.96 L590.96,118.99 L591.16,119.02 L591.36,119.04 L591.56,119.07 L591.76,119.10 L591.96,119.12 L592.16,119.15 L592.36,119.18 L592.56,119.21 L592.76,119.23 L592.96,119.26 L593.16,119.29 L593.37,119.31 L593.57,119.34 L593.77,119.37 L593.97,119.39 L594.17,119.42 L594.37,119.45 L594.57,119.47 L594.77,119.50 L594.97,119.53 L595.17,119.56 L595.37,119.58 L595.57,119.61 L595.77,119.64 L595.97,119.66 L596.17,119.69 L596.37,119.72 L596.57,119.75 L596.77,119.77 L596.97,119.80 L597.18,119.83 L597.38,119.86 L597.58,119.88 L597.78,119.91 L597.98,119.94 L598.18,119.97 L598.38,120.00 L598.58,120.02 L598.78,120.05 L598.98,120.08 L599.18,120.11 L599.38,120.14 L599.58,120.16 L599.78,120.19 L599.98,120.22 L600.18,120.25 L600.38,120.28 L600.58,120.31 L600.78,120.33 L600.99,120.36 L601.19,120.39 L601.39,120.42 L601.59,120.45 L601.79,120.48 L601.99,120.51 L602.19,120.54 L602.39,120.57 L602.59,120.59 L602.79,120.62 L602.99,120.65 L603.19,120.68 L603.39,120.71 L603.59,120.74 L603.79,120.77 L603.99,120.80 L604.19,120.83 L604.39,120.86 L604.59,120.89 L604.80,120.92 L605.00,120.95 L605.20,120.98 L605.40,121.01 L605.60,121.04 L605.80,121.08 L606.00,121.11 L606.20,121.14 L606.40,121.17 L606.60,121.20 L606.80,121.23 L607.00,121.26 L607.20,121.29 L607.41,121.33 L607.61,121.36 L607.81,121.39 L608.01,121.42 L608.21,121.45 L608.41,121.49 L608.61,121.52 L608.82,121.55 L609.02,121.58 L609.22,121.61 L609.42,121.65 L609.62,121.68 L609.82,121.71 L610.02,121.74 L610.23,121.78 L610.43,121.81 L610.63,121.84 L610.83,121.87 L611.03,121.91 L611.23,121.94 L611.43,121.97 L611.63,122.00 L611.84,122.04 L612.04,122.07 L612.24,122.10 L612.44,122.13 L612.64,122.17 L612.84,122.20 L613.04,122.23 L613.25,122.27 L613.45,122.30 L613.65,122.33 L613.85,122.37 L614.05,122.40 L614.25,122.43 L614.45,122.47 L614.66,122.50 L614.86,122.53 L615.06,122.57 L615.26,122.60 L615.46,122.63 L615.66,122.67 L615.86,122.70 L616.07,122.73 L616.27,122.77 L616.47,122.80 L616.67,122.83 L616.87,122.87 L617.07,122.90 L617.27,122.93 L617.48,122.97 L617.68,123.00 L617.88,123.04 L618.08,123.07 L618.28,123.10 L618.48,123.14 L618.68,123.17 L618.89,123.21 L619.09,123.24 L619.29,123.27 L619.49,123.31 L619.69,123.34 L619.89,123.38 L620.09,123.41 L620.30,123.44 L620.50,123.48 L620.70,123.51 L620.90,123.55 L621.10,123.58 L621.30,123.61 L621.50,123.65 L621.70,123.68 L621.91,123.72 L622.11,123.75 L622.31,123.78 L622.51,123.82 L622.71,123.85 L622.91,123.89 L623.11,123.92 L623.32,123.96 L623.52,123.99 L623.72,124.02 L623.92,124.06 L624.12,124.09 L624.32,124.13 L624.52,124.16 L624.73,124.20 L624.93,124.23 L625.13,124.26 L625.33,124.30 L625.53,124.33 L625.73,124.37 L625.93,124.40 L626.14,124.43 L626.34,124.47 L626.54,124.50 L626.74,124.54 L626.94,124.57 L627.14,124.61 L627.34,124.64 L627.55,124.67 L627.75,124.71 L627.95,124.74 L628.15,124.78 L628.35,124.81 L628.55,124.85 L628.75,124.88 L628.96,124.91 L629.16,124.95 L629.36,124.98 L629.56,125.02 L629.76,125.05 L629.96,125.09 L630.16,125.12 L630.37,125.15 L630.57,125.19 L630.77,125.22 L630.97,125.26 L631.17,125.29 L631.37,125.32 L631.57,125.36 L631.77,125.39 L631.98,125.43 L632.18,125.46 L632.38,125.49 L632.58,125.53 L632.78,125.56 L632.98,125.60 L633.18,125.63 L633.39,125.66 L633.59,125.70 L633.79,125.73 L633.99,125.76 L634.19,125.80 L634.39,125.83 L634.59,125.87 L634.80,125.90 L635.00,125.93 L635.20,125.97 L635.40,126.00 L635.60,126.03 L635.80,126.07 L636.00,126.10 L636.20,126.13 L636.40,126.17 L636.60,126.20 L636.80,126.23 L637.00,126.27 L637.20,126.30 L637.40,126.33 L637.60,126.37 L637.80,126.40 L638.00,126.43 L638.20,126.47 L638.40,126.50 L638.60,126.53 L638.80,126.57 L639.00,126.60 L639.20,126.63 L639.40,126.67 L639.60,126.70 L639.80,126.73 L640.00,126.77 L640.20,126.80 L640.40,126.83 L640.60,126.87 L640.80,126.90 L641.00,126.93 L641.20,126.97 L641.40,127.00 L641.60,127.03 L641.80,127.07 L642.00,127.10 L642.20,127.13 L642.40,127.17 L642.60,127.20 L642.80,127.23 L643.00,127.27 L643.20,127.30 L643.40,127.33 L643.60,127.37 L643.80,127.40 L644.00,127.43 L644.20,127.47 L644.40,127.50 L644.60,127.53 L644.80,127.57 L645.00,127.60 L645.20,127.63 L645.40,127.67 L645.60,127.70 L645.80,127.73 L646.00,127.77 L646.20,127.80 L646.40,127.83 L646.60,127.87 L646.80,127.90 L647.00,127.93 L647.20,127.97 L647.40,128.00 L647.60,128.03 L647.80,128.07 L648.00,128.10 L648.20,128.13 L648.40,128.17 L648.60,128.20 L648.80,128.23 L649.00,128.27 L649.20,128.30 L649.40,128.33 L649.60,128.37 L649.80,128.40 L650.00,128.43 L650.20,128.47 L650.40,128.50 L650.60,128.53 L650.80,128.57 L651.00,128.60 L651.20,128.63 L651.40,128.67 L651.60,128.70 L651.80,128.73 L652.00,128.77 L652.20,128.80 L652.40,128.83 L652.60,128.87 L652.80,128.90 L653.00,128.93 L653.20,128.97 L653.40,129.00 L653.60,129.03 L653.80,129.07 L654.00,129.10" fill="none" stroke="#dc1a28" stroke-width="2.0" stroke-linejoin="round" stroke-linecap="butt"/>
<rect x="457.2" y="2.5" width="197.40000000000003" height="198.2" fill="none" stroke="#6c6c6c" stroke-width="1"/>
<line x1="457.50" y1="200.70" x2="457.50" y2="202.30" stroke="#6c6c6c" stroke-width="1"/>
<line x1="467.28" y1="200.70" x2="467.28" y2="202.30" stroke="#6c6c6c" stroke-width="1"/>
<line x1="477.06" y1="200.70" x2="477.06" y2="202.30" stroke="#6c6c6c" stroke-width="1"/>
<line x1="486.84" y1="200.70" x2="486.84" y2="202.30" stroke="#6c6c6c" stroke-width="1"/>
<line x1="496.62" y1="200.70" x2="496.62" y2="202.30" stroke="#6c6c6c" stroke-width="1"/>
<line x1="506.40" y1="200.70" x2="506.40" y2="202.30" stroke="#6c6c6c" stroke-width="1"/>
<line x1="516.18" y1="200.70" x2="516.18" y2="202.30" stroke="#6c6c6c" stroke-width="1"/>
<line x1="525.96" y1="200.70" x2="525.96" y2="202.30" stroke="#6c6c6c" stroke-width="1"/>
<line x1="535.74" y1="200.70" x2="535.74" y2="202.30" stroke="#6c6c6c" stroke-width="1"/>
<line x1="545.52" y1="200.70" x2="545.52" y2="202.30" stroke="#6c6c6c" stroke-width="1"/>
<line x1="555.30" y1="200.70" x2="555.30" y2="202.30" stroke="#6c6c6c" stroke-width="1"/>
<line x1="565.08" y1="200.70" x2="565.08" y2="202.30" stroke="#6c6c6c" stroke-width="1"/>
<line x1="574.86" y1="200.70" x2="574.86" y2="202.30" stroke="#6c6c6c" stroke-width="1"/>
<line x1="584.64" y1="200.70" x2="584.64" y2="202.30" stroke="#6c6c6c" stroke-width="1"/>
<line x1="594.42" y1="200.70" x2="594.42" y2="202.30" stroke="#6c6c6c" stroke-width="1"/>
<line x1="604.20" y1="200.70" x2="604.20" y2="202.30" stroke="#6c6c6c" stroke-width="1"/>
<line x1="613.98" y1="200.70" x2="613.98" y2="202.30" stroke="#6c6c6c" stroke-width="1"/>
<line x1="623.76" y1="200.70" x2="623.76" y2="202.30" stroke="#6c6c6c" stroke-width="1"/>
<line x1="633.54" y1="200.70" x2="633.54" y2="202.30" stroke="#6c6c6c" stroke-width="1"/>
<line x1="643.32" y1="200.70" x2="643.32" y2="202.30" stroke="#6c6c6c" stroke-width="1"/>
<line x1="653.10" y1="200.70" x2="653.10" y2="202.30" stroke="#6c6c6c" stroke-width="1"/>
<line x1="457.50" y1="200.70" x2="457.50" y2="203.50" stroke="#6c6c6c" stroke-width="1"/>
<line x1="506.40" y1="200.70" x2="506.40" y2="203.50" stroke="#6c6c6c" stroke-width="1"/>
<line x1="555.30" y1="200.70" x2="555.30" y2="203.50" stroke="#6c6c6c" stroke-width="1"/>
<line x1="604.20" y1="200.70" x2="604.20" y2="203.50" stroke="#6c6c6c" stroke-width="1"/>
<line x1="653.10" y1="200.70" x2="653.10" y2="203.50" stroke="#6c6c6c" stroke-width="1"/>
<line x1="455.60" y1="184.05" x2="457.20" y2="184.05" stroke="#6c6c6c" stroke-width="1"/>
<line x1="455.60" y1="151.15" x2="457.20" y2="151.15" stroke="#6c6c6c" stroke-width="1"/>
<line x1="455.60" y1="118.25" x2="457.20" y2="118.25" stroke="#6c6c6c" stroke-width="1"/>
<line x1="455.60" y1="85.35" x2="457.20" y2="85.35" stroke="#6c6c6c" stroke-width="1"/>
<line x1="455.60" y1="52.45" x2="457.20" y2="52.45" stroke="#6c6c6c" stroke-width="1"/>
<line x1="455.60" y1="19.55" x2="457.20" y2="19.55" stroke="#6c6c6c" stroke-width="1"/>
<line x1="454.40" y1="200.50" x2="457.20" y2="200.50" stroke="#6c6c6c" stroke-width="1"/>
<line x1="454.40" y1="167.60" x2="457.20" y2="167.60" stroke="#6c6c6c" stroke-width="1"/>
<line x1="454.40" y1="134.70" x2="457.20" y2="134.70" stroke="#6c6c6c" stroke-width="1"/>
<line x1="454.40" y1="101.80" x2="457.20" y2="101.80" stroke="#6c6c6c" stroke-width="1"/>
<line x1="454.40" y1="68.90" x2="457.20" y2="68.90" stroke="#6c6c6c" stroke-width="1"/>
<line x1="454.40" y1="36.00" x2="457.20" y2="36.00" stroke="#6c6c6c" stroke-width="1"/>
<line x1="454.40" y1="3.10" x2="457.20" y2="3.10" stroke="#6c6c6c" stroke-width="1"/>
<text x="457.50" y="213.70" font-family="Liberation Serif" font-weight="bold" font-size="10" text-anchor="middle" fill="#111" stroke="#111" stroke-width="0.22" >0</text>
<text x="506.40" y="213.70" font-family="Liberation Serif" font-weight="bold" font-size="10" text-anchor="middle" fill="#111" stroke="#111" stroke-width="0.22" >5</text>
<text x="555.30" y="213.70" font-family="Liberation Serif" font-weight="bold" font-size="10" text-anchor="middle" fill="#111" stroke="#111" stroke-width="0.22" >10</text>
<text x="604.20" y="213.70" font-family="Liberation Serif" font-weight="bold" font-size="10" text-anchor="middle" fill="#111" stroke="#111" stroke-width="0.22" >15</text>
<text x="653.10" y="213.70" font-family="Liberation Serif" font-weight="bold" font-size="10" text-anchor="middle" fill="#111" stroke="#111" stroke-width="0.22" >20</text>
<text x="454.00" y="204.80" font-family="Liberation Serif" font-weight="bold" font-size="10" text-anchor="end" fill="#111" stroke="#111" stroke-width="0.22" >1</text>
<text x="454.00" y="171.90" font-family="Liberation Serif" font-weight="bold" font-size="10" text-anchor="end" fill="#111" stroke="#111" stroke-width="0.22" >2</text>
<text x="454.00" y="139.00" font-family="Liberation Serif" font-weight="bold" font-size="10" text-anchor="end" fill="#111" stroke="#111" stroke-width="0.22" >3</text>
<text x="454.00" y="106.10" font-family="Liberation Serif" font-weight="bold" font-size="10" text-anchor="end" fill="#111" stroke="#111" stroke-width="0.22" >4</text>
<text x="454.00" y="73.20" font-family="Liberation Serif" font-weight="bold" font-size="10" text-anchor="end" fill="#111" stroke="#111" stroke-width="0.22" >5</text>
<text x="454.00" y="40.30" font-family="Liberation Serif" font-weight="bold" font-size="10" text-anchor="end" fill="#111" stroke="#111" stroke-width="0.22" >6</text>
<text x="454.00" y="7.40" font-family="Liberation Serif" font-weight="bold" font-size="10" text-anchor="end" fill="#111" stroke="#111" stroke-width="0.22" >7</text>
<text x="642.70" y="19.60" font-family="Liberation Serif" font-weight="bold" font-size="13" text-anchor="middle" fill="#111" stroke="#111" stroke-width="0.22" >C</text>
<text x="556.00" y="225.50" font-family="Liberation Serif" font-weight="bold" font-size="10.3" text-anchor="middle" fill="#111" stroke="#111" stroke-width="0.22" >Time (days x100)</text>
<g fill="#000"><circle cx="27.0" cy="257.7" r="2.15"/><circle cx="29.3" cy="258.5" r="2.15"/><circle cx="30.8" cy="258.8" r="2.15"/><circle cx="33.9" cy="255.4" r="2.15"/><circle cx="34.6" cy="252.4" r="2.15"/><circle cx="40.4" cy="249.8" r="2.15"/><circle cx="49.5" cy="246.3" r="2.15"/><circle cx="53.2" cy="249.1" r="2.15"/><circle cx="46.0" cy="255.7" r="2.15"/><circle cx="32.4" cy="263.8" r="2.15"/><circle cx="41.9" cy="263.8" r="2.15"/><circle cx="43.5" cy="266.1" r="2.15"/><circle cx="59.0" cy="261.2" r="2.15"/><circle cx="61.2" cy="266.5" r="2.15"/><circle cx="73.4" cy="266.8" r="2.15"/><circle cx="75.4" cy="268.0" r="2.15"/><circle cx="27.0" cy="272.9" r="2.15"/><circle cx="30.1" cy="273.7" r="2.15"/><circle cx="33.1" cy="276.0" r="2.15"/><circle cx="32.4" cy="279.0" r="2.15"/><circle cx="35.4" cy="279.8" r="2.15"/><circle cx="37.7" cy="279.0" r="2.15"/><circle cx="34.6" cy="281.3" r="2.15"/><circle cx="39.2" cy="276.0" r="2.15"/><circle cx="47.1" cy="272.2" r="2.15"/><circle cx="52.1" cy="275.2" r="2.15"/><circle cx="51.1" cy="278.2" r="2.15"/><circle cx="49.1" cy="281.0" r="2.15"/><circle cx="52.1" cy="281.6" r="2.15"/><circle cx="43.0" cy="283.6" r="2.15"/><circle cx="43.8" cy="284.3" r="2.15"/><circle cx="54.4" cy="286.6" r="2.15"/><circle cx="62.0" cy="282.0" r="2.15"/><circle cx="62.0" cy="285.8" r="2.15"/><circle cx="64.7" cy="272.9" r="2.15"/><circle cx="64.7" cy="277.0" r="2.15"/><circle cx="70.4" cy="275.2" r="2.15"/><circle cx="74.2" cy="276.0" r="2.15"/><circle cx="81.8" cy="276.0" r="2.15"/><circle cx="77.2" cy="279.4" r="2.15"/><circle cx="70.4" cy="285.1" r="2.15"/><circle cx="77.2" cy="286.1" r="2.15"/><circle cx="84.5" cy="282.5" r="2.15"/><circle cx="90.9" cy="283.6" r="2.15"/><circle cx="94.2" cy="284.3" r="2.15"/><circle cx="95.4" cy="278.2" r="2.15"/><circle cx="109.1" cy="277.9" r="2.15"/><circle cx="119.7" cy="288.9" r="2.15"/><circle cx="67.3" cy="288.9" r="2.15"/><circle cx="84.8" cy="288.9" r="2.15"/><circle cx="38.4" cy="289.6" r="2.15"/><circle cx="142.5" cy="283.2" r="2.15"/><circle cx="152.6" cy="287.3" r="2.15"/><circle cx="162.0" cy="285.5" r="2.15"/><circle cx="38.4" cy="291.5" r="2.15"/><circle cx="40.7" cy="293.8" r="2.15"/><circle cx="46.8" cy="293.8" r="2.15"/><circle cx="50.6" cy="293.0" r="2.15"/><circle cx="54.4" cy="295.3" r="2.15"/><circle cx="59.7" cy="292.3" r="2.15"/><circle cx="62.8" cy="293.8" r="2.15"/><circle cx="66.6" cy="290.8" r="2.15"/><circle cx="74.2" cy="294.6" r="2.15"/><circle cx="78.7" cy="296.1" r="2.15"/><circle cx="82.5" cy="298.4" r="2.15"/><circle cx="86.3" cy="300.6" r="2.15"/><circle cx="93.1" cy="295.3" r="2.15"/><circle cx="98.5" cy="293.8" r="2.15"/><circle cx="102.3" cy="295.3" r="2.15"/><circle cx="100.0" cy="300.6" r="2.15"/><circle cx="109.9" cy="299.1" r="2.15"/><circle cx="119.7" cy="296.1" r="2.15"/><circle cx="118.2" cy="290.8" r="2.15"/><circle cx="26.3" cy="297.6" r="2.15"/><circle cx="32.4" cy="296.1" r="2.15"/><circle cx="28.6" cy="304.4" r="2.15"/><circle cx="27.0" cy="309.8" r="2.15"/><circle cx="33.1" cy="307.5" r="2.15"/><circle cx="37.7" cy="307.5" r="2.15"/><circle cx="39.2" cy="309.8" r="2.15"/><circle cx="50.6" cy="299.9" r="2.15"/><circle cx="55.9" cy="301.4" r="2.15"/><circle cx="54.4" cy="304.4" r="2.15"/><circle cx="60.5" cy="299.9" r="2.15"/><circle cx="61.2" cy="305.2" r="2.15"/><circle cx="66.6" cy="301.4" r="2.15"/><circle cx="69.6" cy="304.4" r="2.15"/><circle cx="74.2" cy="303.7" r="2.15"/><circle cx="72.6" cy="307.5" r="2.15"/><circle cx="81.0" cy="307.5" r="2.15"/><circle cx="83.3" cy="309.0" r="2.15"/><circle cx="68.1" cy="309.8" r="2.15"/><circle cx="74.2" cy="309.8" r="2.15"/><circle cx="103.8" cy="308.2" r="2.15"/><circle cx="108.3" cy="307.5" r="2.15"/><circle cx="115.2" cy="304.4" r="2.15"/><circle cx="119.7" cy="302.2" r="2.15"/><circle cx="121.3" cy="308.2" r="2.15"/><circle cx="100.0" cy="305.2" r="2.15"/><circle cx="36.9" cy="313.6" r="2.15"/><circle cx="40.7" cy="316.6" r="2.15"/><circle cx="49.1" cy="312.8" r="2.15"/><circle cx="49.8" cy="317.4" r="2.15"/><circle cx="54.4" cy="312.0" r="2.15"/><circle cx="56.7" cy="314.3" r="2.15"/><circle cx="60.5" cy="316.6" r="2.15"/><circle cx="63.5" cy="314.3" r="2.15"/><circle cx="65.0" cy="318.9" r="2.15"/><circle cx="55.9" cy="318.9" r="2.15"/><circle cx="78.0" cy="312.8" r="2.15"/><circle cx="83.3" cy="315.1" r="2.15"/><circle cx="86.3" cy="314.3" r="2.15"/><circle cx="90.9" cy="310.5" r="2.15"/><circle cx="95.4" cy="311.3" r="2.15"/><circle cx="92.4" cy="315.1" r="2.15"/><circle cx="96.9" cy="318.9" r="2.15"/><circle cx="106.1" cy="319.6" r="2.15"/><circle cx="114.4" cy="313.6" r="2.15"/><circle cx="113.7" cy="316.6" r="2.15"/><circle cx="118.2" cy="318.9" r="2.15"/><circle cx="122.8" cy="311.3" r="2.15"/><circle cx="87.8" cy="317.4" r="2.15"/><circle cx="30.1" cy="325.7" r="2.15"/><circle cx="27.8" cy="330.3" r="2.15"/><circle cx="38.4" cy="330.3" r="2.15"/><circle cx="42.2" cy="324.2" r="2.15"/><circle cx="43.8" cy="327.2" r="2.15"/><circle cx="46.8" cy="328.8" r="2.15"/><circle cx="48.3" cy="332.6" r="2.15"/><circle cx="57.4" cy="320.4" r="2.15"/><circle cx="60.5" cy="322.7" r="2.15"/><circle cx="63.5" cy="321.9" r="2.15"/><circle cx="66.6" cy="323.4" r="2.15"/><circle cx="69.6" cy="326.5" r="2.15"/><circle cx="68.1" cy="329.5" r="2.15"/><circle cx="65.0" cy="331.8" r="2.15"/><circle cx="77.2" cy="321.9" r="2.15"/><circle cx="76.4" cy="325.7" r="2.15"/><circle cx="81.0" cy="324.2" r="2.15"/><circle cx="78.7" cy="328.0" r="2.15"/><circle cx="84.8" cy="327.2" r="2.15"/><circle cx="87.8" cy="329.5" r="2.15"/><circle cx="93.1" cy="324.2" r="2.15"/><circle cx="93.9" cy="329.5" r="2.15"/><circle cx="98.5" cy="328.0" r="2.15"/><circle cx="103.0" cy="327.2" r="2.15"/><circle cx="106.8" cy="321.9" r="2.15"/><circle cx="111.4" cy="322.7" r="2.15"/><circle cx="115.2" cy="326.5" r="2.15"/><circle cx="121.3" cy="325.7" r="2.15"/><circle cx="100.0" cy="331.0" r="2.15"/><circle cx="77.2" cy="331.0" r="2.15"/><circle cx="28.6" cy="337.1" r="2.15"/><circle cx="36.2" cy="341.7" r="2.15"/><circle cx="54.4" cy="336.4" r="2.15"/><circle cx="56.7" cy="338.6" r="2.15"/><circle cx="59.0" cy="340.2" r="2.15"/><circle cx="63.5" cy="334.1" r="2.15"/><circle cx="68.8" cy="331.8" r="2.15"/><circle cx="69.6" cy="340.2" r="2.15"/><circle cx="74.2" cy="338.6" r="2.15"/><circle cx="77.2" cy="334.1" r="2.15"/><circle cx="80.2" cy="335.6" r="2.15"/><circle cx="82.5" cy="338.6" r="2.15"/><circle cx="84.8" cy="332.6" r="2.15"/><circle cx="89.3" cy="335.6" r="2.15"/><circle cx="90.9" cy="338.6" r="2.15"/><circle cx="93.9" cy="333.3" r="2.15"/><circle cx="96.9" cy="335.6" r="2.15"/><circle cx="100.0" cy="337.1" r="2.15"/><circle cx="103.0" cy="340.2" r="2.15"/><circle cx="95.4" cy="340.2" r="2.15"/><circle cx="106.1" cy="335.6" r="2.15"/><circle cx="109.1" cy="338.6" r="2.15"/><circle cx="113.7" cy="334.1" r="2.15"/><circle cx="116.7" cy="331.0" r="2.15"/><circle cx="119.7" cy="335.6" r="2.15"/><circle cx="122.8" cy="338.6" r="2.15"/><circle cx="87.8" cy="340.9" r="2.15"/><circle cx="46.8" cy="345.5" r="2.15"/><circle cx="52.1" cy="347.0" r="2.15"/><circle cx="59.7" cy="347.8" r="2.15"/><circle cx="64.3" cy="350.8" r="2.15"/><circle cx="69.6" cy="351.6" r="2.15"/><circle cx="75.7" cy="350.8" r="2.15"/><circle cx="78.7" cy="343.2" r="2.15"/><circle cx="84.8" cy="344.0" r="2.15"/><circle cx="86.3" cy="347.8" r="2.15"/><circle cx="89.3" cy="345.5" r="2.15"/><circle cx="91.6" cy="349.3" r="2.15"/><circle cx="96.9" cy="346.2" r="2.15"/><circle cx="100.0" cy="350.0" r="2.15"/><circle cx="103.8" cy="344.7" r="2.15"/><circle cx="104.5" cy="350.8" r="2.15"/><circle cx="109.1" cy="347.0" r="2.15"/><circle cx="112.1" cy="353.8" r="2.15"/><circle cx="116.7" cy="350.8" r="2.15"/><circle cx="119.7" cy="352.3" r="2.15"/><circle cx="123.5" cy="344.7" r="2.15"/><circle cx="121.3" cy="356.9" r="2.15"/><circle cx="103.0" cy="356.9" r="2.15"/><circle cx="92.4" cy="356.9" r="2.15"/><circle cx="84.8" cy="353.8" r="2.15"/><circle cx="68.1" cy="356.9" r="2.15"/><circle cx="138.4" cy="293.8" r="2.15"/><circle cx="133.9" cy="300.6" r="2.15"/><circle cx="140.0" cy="299.9" r="2.15"/><circle cx="146.0" cy="303.7" r="2.15"/><circle cx="151.4" cy="300.6" r="2.15"/><circle cx="154.4" cy="299.1" r="2.15"/><circle cx="140.0" cy="306.0" r="2.15"/><circle cx="152.1" cy="306.0" r="2.15"/><circle cx="161.2" cy="305.2" r="2.15"/><circle cx="166.6" cy="304.4" r="2.15"/><circle cx="171.1" cy="303.7" r="2.15"/><circle cx="124.8" cy="293.0" r="2.15"/><circle cx="124.8" cy="309.8" r="2.15"/><circle cx="126.3" cy="314.3" r="2.15"/><circle cx="127.0" cy="320.4" r="2.15"/><circle cx="132.4" cy="312.8" r="2.15"/><circle cx="136.2" cy="317.4" r="2.15"/><circle cx="139.2" cy="318.1" r="2.15"/><circle cx="143.8" cy="316.6" r="2.15"/><circle cx="148.3" cy="312.8" r="2.15"/><circle cx="150.6" cy="315.8" r="2.15"/><circle cx="153.6" cy="312.8" r="2.15"/><circle cx="155.2" cy="315.1" r="2.15"/><circle cx="152.1" cy="318.9" r="2.15"/><circle cx="164.3" cy="312.0" r="2.15"/><circle cx="169.6" cy="312.8" r="2.15"/><circle cx="165.0" cy="317.4" r="2.15"/><circle cx="148.3" cy="321.9" r="2.15"/><circle cx="153.6" cy="321.9" r="2.15"/><circle cx="134.6" cy="324.2" r="2.15"/><circle cx="139.2" cy="329.5" r="2.15"/><circle cx="142.2" cy="328.0" r="2.15"/><circle cx="145.3" cy="327.2" r="2.15"/><circle cx="159.0" cy="323.4" r="2.15"/><circle cx="162.0" cy="321.9" r="2.15"/><circle cx="161.2" cy="326.5" r="2.15"/><circle cx="166.6" cy="326.5" r="2.15"/><circle cx="169.6" cy="321.9" r="2.15"/><circle cx="174.9" cy="328.0" r="2.15"/><circle cx="181.8" cy="327.2" r="2.15"/><circle cx="182.5" cy="329.5" r="2.15"/><circle cx="190.9" cy="328.0" r="2.15"/><circle cx="193.1" cy="325.0" r="2.15"/><circle cx="193.9" cy="327.2" r="2.15"/><circle cx="201.5" cy="321.9" r="2.15"/><circle cx="200.7" cy="330.3" r="2.15"/><circle cx="206.8" cy="332.6" r="2.15"/><circle cx="153.6" cy="328.8" r="2.15"/><circle cx="158.2" cy="328.8" r="2.15"/><circle cx="184.8" cy="332.6" r="2.15"/><circle cx="145.3" cy="335.6" r="2.15"/><circle cx="146.8" cy="338.6" r="2.15"/><circle cx="151.4" cy="334.1" r="2.15"/><circle cx="153.6" cy="337.1" r="2.15"/><circle cx="155.9" cy="335.6" r="2.15"/><circle cx="161.2" cy="334.1" r="2.15"/><circle cx="167.3" cy="335.6" r="2.15"/><circle cx="160.5" cy="340.2" r="2.15"/><circle cx="165.0" cy="341.7" r="2.15"/><circle cx="169.6" cy="341.7" r="2.15"/><circle cx="174.2" cy="342.4" r="2.15"/><circle cx="183.3" cy="336.4" r="2.15"/><circle cx="186.3" cy="338.6" r="2.15"/><circle cx="190.9" cy="332.6" r="2.15"/><circle cx="193.9" cy="336.4" r="2.15"/><circle cx="200.0" cy="335.6" r="2.15"/><circle cx="198.5" cy="340.2" r="2.15"/><circle cx="212.1" cy="339.4" r="2.15"/><circle cx="203.0" cy="334.1" r="2.15"/><circle cx="127.0" cy="340.2" r="2.15"/><circle cx="130.1" cy="342.4" r="2.15"/><circle cx="136.2" cy="343.2" r="2.15"/><circle cx="141.5" cy="340.2" r="2.15"/><circle cx="127.0" cy="350.8" r="2.15"/><circle cx="130.8" cy="349.3" r="2.15"/><circle cx="134.6" cy="352.3" r="2.15"/><circle cx="139.2" cy="355.3" r="2.15"/><circle cx="143.8" cy="344.7" r="2.15"/><circle cx="145.3" cy="349.3" r="2.15"/><circle cx="149.8" cy="347.8" r="2.15"/><circle cx="154.4" cy="350.8" r="2.15"/><circle cx="157.4" cy="353.8" r="2.15"/><circle cx="162.0" cy="352.3" r="2.15"/><circle cx="165.0" cy="349.3" r="2.15"/><circle cx="168.1" cy="353.8" r="2.15"/><circle cx="172.6" cy="346.2" r="2.15"/><circle cx="175.7" cy="347.8" r="2.15"/><circle cx="179.5" cy="350.8" r="2.15"/><circle cx="183.3" cy="344.7" r="2.15"/><circle cx="184.8" cy="347.8" r="2.15"/><circle cx="187.8" cy="346.2" r="2.15"/><circle cx="189.3" cy="350.8" r="2.15"/><circle cx="193.9" cy="347.8" r="2.15"/><circle cx="196.9" cy="349.3" r="2.15"/><circle cx="200.0" cy="352.3" r="2.15"/><circle cx="203.0" cy="349.3" r="2.15"/><circle cx="206.8" cy="350.0" r="2.15"/><circle cx="210.6" cy="348.5" r="2.15"/><circle cx="196.2" cy="353.8" r="2.15"/><circle cx="207.6" cy="356.9" r="2.15"/><circle cx="148.3" cy="356.9" r="2.15"/><circle cx="133.1" cy="356.9" r="2.15"/><circle cx="180.2" cy="356.9" r="2.15"/><circle cx="163.5" cy="356.9" r="2.15"/><circle cx="48.6" cy="362.8" r="2.15"/><circle cx="60.9" cy="364.4" r="2.15"/><circle cx="68.1" cy="358.3" r="2.15"/><circle cx="64.3" cy="375.0" r="2.15"/><circle cx="74.9" cy="377.0" r="2.15"/><circle cx="77.2" cy="370.0" r="2.15"/><circle cx="83.0" cy="374.2" r="2.15"/><circle cx="84.8" cy="360.6" r="2.15"/><circle cx="84.0" cy="362.8" r="2.15"/><circle cx="87.1" cy="359.0" r="2.15"/><circle cx="89.3" cy="358.3" r="2.15"/><circle cx="94.7" cy="356.0" r="2.15"/><circle cx="98.5" cy="356.0" r="2.15"/><circle cx="104.5" cy="356.8" r="2.15"/><circle cx="94.2" cy="366.9" r="2.15"/><circle cx="104.5" cy="371.5" r="2.15"/><circle cx="106.8" cy="366.9" r="2.15"/><circle cx="112.1" cy="359.3" r="2.15"/><circle cx="111.4" cy="362.4" r="2.15"/><circle cx="115.2" cy="362.4" r="2.15"/><circle cx="118.2" cy="359.8" r="2.15"/><circle cx="119.7" cy="362.1" r="2.15"/><circle cx="120.5" cy="368.9" r="2.15"/><circle cx="122.0" cy="372.0" r="2.15"/><circle cx="122.8" cy="376.5" r="2.15"/><circle cx="123.5" cy="363.6" r="2.15"/><circle cx="128.6" cy="359.0" r="2.15"/><circle cx="130.1" cy="362.1" r="2.15"/><circle cx="126.3" cy="366.6" r="2.15"/><circle cx="124.8" cy="375.8" r="2.15"/><circle cx="127.8" cy="373.5" r="2.15"/><circle cx="134.6" cy="371.2" r="2.15"/><circle cx="137.7" cy="372.7" r="2.15"/><circle cx="139.2" cy="375.8" r="2.15"/><circle cx="136.2" cy="366.6" r="2.15"/><circle cx="140.7" cy="365.1" r="2.15"/><circle cx="142.2" cy="381.1" r="2.15"/><circle cx="143.8" cy="380.3" r="2.15"/><circle cx="146.8" cy="390.2" r="2.15"/><circle cx="153.6" cy="391.7" r="2.15"/><circle cx="155.2" cy="384.1" r="2.15"/><circle cx="159.0" cy="382.6" r="2.15"/><circle cx="160.5" cy="375.0" r="2.15"/><circle cx="162.8" cy="373.5" r="2.15"/><circle cx="164.3" cy="375.8" r="2.15"/><circle cx="166.6" cy="379.6" r="2.15"/><circle cx="173.4" cy="381.8" r="2.15"/><circle cx="171.1" cy="375.8" r="2.15"/><circle cx="174.2" cy="372.7" r="2.15"/><circle cx="178.0" cy="375.0" r="2.15"/><circle cx="178.7" cy="378.8" r="2.15"/><circle cx="180.2" cy="370.4" r="2.15"/><circle cx="184.0" cy="384.1" r="2.15"/><circle cx="184.0" cy="389.4" r="2.15"/><circle cx="185.6" cy="380.3" r="2.15"/><circle cx="184.8" cy="374.2" r="2.15"/><circle cx="187.8" cy="371.2" r="2.15"/><circle cx="190.9" cy="372.7" r="2.15"/><circle cx="193.9" cy="378.8" r="2.15"/><circle cx="196.9" cy="378.0" r="2.15"/><circle cx="200.0" cy="379.6" r="2.15"/><circle cx="203.0" cy="379.6" r="2.15"/><circle cx="199.2" cy="372.7" r="2.15"/><circle cx="203.0" cy="371.2" r="2.15"/><circle cx="206.8" cy="372.0" r="2.15"/><circle cx="209.1" cy="380.3" r="2.15"/><circle cx="209.9" cy="384.9" r="2.15"/><circle cx="209.1" cy="387.9" r="2.15"/><circle cx="212.1" cy="369.7" r="2.15"/><circle cx="212.1" cy="375.0" r="2.15"/><circle cx="145.3" cy="361.3" r="2.15"/><circle cx="148.3" cy="358.3" r="2.15"/><circle cx="151.4" cy="366.6" r="2.15"/><circle cx="154.4" cy="365.1" r="2.15"/><circle cx="155.9" cy="361.3" r="2.15"/><circle cx="152.9" cy="357.5" r="2.15"/><circle cx="160.5" cy="363.6" r="2.15"/><circle cx="164.3" cy="362.8" r="2.15"/><circle cx="166.6" cy="360.6" r="2.15"/><circle cx="169.6" cy="362.1" r="2.15"/><circle cx="172.6" cy="365.1" r="2.15"/><circle cx="176.4" cy="362.1" r="2.15"/><circle cx="180.2" cy="360.6" r="2.15"/><circle cx="183.3" cy="360.6" r="2.15"/><circle cx="187.8" cy="362.1" r="2.15"/><circle cx="192.4" cy="364.4" r="2.15"/><circle cx="195.4" cy="366.6" r="2.15"/><circle cx="198.5" cy="368.2" r="2.15"/><circle cx="201.5" cy="365.1" r="2.15"/><circle cx="206.1" cy="363.6" r="2.15"/><circle cx="139.2" cy="356.8" r="2.15"/><circle cx="157.4" cy="356.8" r="2.15"/><circle cx="162.0" cy="357.5" r="2.15"/><circle cx="177.2" cy="356.8" r="2.15"/><circle cx="99.9" cy="345.3" r="2.15"/><circle cx="105.4" cy="350.5" r="2.15"/><circle cx="103.7" cy="350.0" r="2.15"/><circle cx="80.9" cy="338.1" r="2.15"/><circle cx="110.2" cy="342.9" r="2.15"/><circle cx="108.8" cy="328.9" r="2.15"/><circle cx="95.0" cy="332.4" r="2.15"/><circle cx="97.4" cy="340.9" r="2.15"/><circle cx="80.4" cy="331.6" r="2.15"/><circle cx="88.9" cy="349.8" r="2.15"/><circle cx="104.5" cy="330.1" r="2.15"/><circle cx="105.5" cy="329.6" r="2.15"/><circle cx="99.8" cy="329.3" r="2.15"/><circle cx="80.1" cy="348.7" r="2.15"/><circle cx="86.7" cy="331.6" r="2.15"/><circle cx="111.4" cy="348.7" r="2.15"/><circle cx="89.3" cy="351.0" r="2.15"/><circle cx="97.3" cy="343.6" r="2.15"/><circle cx="86.6" cy="350.5" r="2.15"/><circle cx="102.1" cy="351.1" r="2.15"/><circle cx="108.6" cy="333.8" r="2.15"/><circle cx="91.6" cy="330.3" r="2.15"/><circle cx="84.7" cy="327.7" r="2.15"/><circle cx="89.6" cy="341.7" r="2.15"/><circle cx="80.1" cy="343.6" r="2.15"/><circle cx="90.8" cy="334.1" r="2.15"/><circle cx="106.2" cy="338.5" r="2.15"/><circle cx="90.1" cy="338.5" r="2.15"/><circle cx="187.4" cy="346.0" r="2.15"/><circle cx="211.8" cy="354.2" r="2.15"/><circle cx="191.5" cy="377.5" r="2.15"/><circle cx="125.6" cy="349.6" r="2.15"/><circle cx="157.0" cy="353.9" r="2.15"/><circle cx="124.8" cy="321.2" r="2.15"/><circle cx="140.3" cy="361.7" r="2.15"/><circle cx="141.7" cy="354.7" r="2.15"/><circle cx="207.7" cy="387.5" r="2.15"/><circle cx="155.0" cy="344.6" r="2.15"/><circle cx="171.2" cy="367.0" r="2.15"/><circle cx="133.7" cy="351.3" r="2.15"/><circle cx="195.8" cy="379.7" r="2.15"/><circle cx="127.3" cy="356.3" r="2.15"/><circle cx="132.2" cy="335.2" r="2.15"/><circle cx="179.0" cy="375.4" r="2.15"/><circle cx="154.6" cy="366.1" r="2.15"/><circle cx="173.1" cy="350.1" r="2.15"/><circle cx="152.5" cy="336.9" r="2.15"/><circle cx="131.0" cy="327.5" r="2.15"/><circle cx="186.0" cy="381.1" r="2.15"/><circle cx="138.5" cy="326.6" r="2.15"/><circle cx="212.8" cy="374.0" r="2.15"/><circle cx="160.5" cy="342.3" r="2.15"/><circle cx="177.5" cy="371.3" r="2.15"/><circle cx="165.0" cy="351.1" r="2.15"/><circle cx="129.0" cy="355.8" r="2.15"/><circle cx="126.9" cy="339.0" r="2.15"/><circle cx="199.5" cy="353.5" r="2.15"/><circle cx="189.8" cy="380.9" r="2.15"/><circle cx="180.7" cy="371.2" r="2.15"/><circle cx="133.6" cy="339.3" r="2.15"/><circle cx="137.4" cy="356.4" r="2.15"/><circle cx="150.5" cy="346.6" r="2.15"/><circle cx="213.9" cy="386.5" r="2.15"/><circle cx="211.8" cy="370.6" r="2.15"/><circle cx="167.9" cy="363.9" r="2.15"/><circle cx="167.1" cy="347.0" r="2.15"/><circle cx="160.3" cy="338.8" r="2.15"/><circle cx="157.9" cy="369.9" r="2.15"/><circle cx="210.4" cy="376.6" r="2.15"/><circle cx="168.9" cy="349.5" r="2.15"/><circle cx="132.0" cy="332.6" r="2.15"/><circle cx="194.4" cy="379.5" r="2.15"/><circle cx="156.5" cy="361.6" r="2.15"/><circle cx="193.7" cy="338.0" r="2.15"/><circle cx="183.8" cy="335.9" r="2.15"/><circle cx="156.7" cy="323.9" r="2.15"/><circle cx="149.3" cy="315.1" r="2.15"/><circle cx="193.3" cy="337.8" r="2.15"/><circle cx="150.4" cy="327.9" r="2.15"/><circle cx="182.5" cy="330.6" r="2.15"/><circle cx="125.0" cy="307.3" r="2.15"/><circle cx="146.6" cy="319.0" r="2.15"/><circle cx="165.7" cy="330.4" r="2.15"/><circle cx="182.3" cy="336.3" r="2.15"/><circle cx="155.3" cy="321.7" r="2.15"/><circle cx="190.4" cy="340.3" r="2.15"/><circle cx="155.5" cy="327.1" r="2.15"/><circle cx="202.3" cy="341.2" r="2.15"/></g>
<path d="M27.90,288.60 L28.40,288.92 L28.90,289.24 L29.41,289.56 L29.91,289.88 L30.41,290.20 L30.91,290.52 L31.42,290.84 L31.92,291.16 L32.42,291.48 L32.92,291.81 L33.42,292.13 L33.93,292.45 L34.43,292.77 L34.93,293.10 L35.43,293.42 L35.94,293.74 L36.44,294.06 L36.94,294.39 L37.44,294.71 L37.95,295.03 L38.45,295.35 L38.95,295.67 L39.45,296.00 L39.95,296.32 L40.46,296.64 L40.96,296.96 L41.46,297.28 L41.96,297.60 L42.47,297.92 L42.97,298.23 L43.47,298.55 L43.97,298.87 L44.48,299.18 L44.98,299.50 L45.48,299.81 L45.98,300.13 L46.48,300.44 L46.99,300.75 L47.49,301.06 L47.99,301.37 L48.49,301.68 L49.00,301.99 L49.50,302.29 L50.00,302.60 L50.50,302.91 L51.00,303.21 L51.51,303.52 L52.01,303.83 L52.51,304.14 L53.01,304.44 L53.52,304.75 L54.02,305.06 L54.52,305.37 L55.02,305.68 L55.53,305.99 L56.03,306.30 L56.53,306.61 L57.03,306.92 L57.54,307.23 L58.04,307.53 L58.54,307.84 L59.04,308.14 L59.55,308.45 L60.05,308.75 L60.55,309.05 L61.05,309.35 L61.56,309.65 L62.06,309.95 L62.56,310.24 L63.06,310.53 L63.57,310.82 L64.07,311.11 L64.57,311.40 L65.07,311.68 L65.58,311.96 L66.08,312.24 L66.58,312.52 L67.08,312.79 L67.59,313.06 L68.09,313.32 L68.59,313.59 L69.09,313.84 L69.60,314.10 L70.10,314.35 L70.60,314.60 L71.11,314.85 L71.61,315.09 L72.12,315.33 L72.63,315.57 L73.13,315.81 L73.64,316.05 L74.15,316.28 L74.66,316.52 L75.16,316.75 L75.67,316.98 L76.18,317.20 L76.68,317.43 L77.19,317.65 L77.70,317.87 L78.20,318.09 L78.71,318.31 L79.22,318.53 L79.72,318.75 L80.23,318.96 L80.74,319.18 L81.24,319.39 L81.75,319.60 L82.26,319.81 L82.77,320.02 L83.27,320.22 L83.78,320.43 L84.29,320.64 L84.79,320.84 L85.30,321.04 L85.81,321.25 L86.31,321.45 L86.82,321.65 L87.33,321.85 L87.83,322.05 L88.34,322.25 L88.85,322.45 L89.36,322.65 L89.86,322.85 L90.37,323.05 L90.88,323.24 L91.38,323.44 L91.89,323.64 L92.40,323.83 L92.90,324.03 L93.41,324.23 L93.92,324.42 L94.42,324.62 L94.93,324.82 L95.44,325.01 L95.94,325.21 L96.45,325.41 L96.96,325.61 L97.47,325.80 L97.97,326.00 L98.48,326.20 L98.99,326.40 L99.49,326.60 L100.00,326.80 L100.50,327.00 L101.00,327.20 L101.50,327.39 L102.00,327.59 L102.50,327.79 L103.00,327.99 L103.50,328.18 L104.00,328.38 L104.50,328.58 L105.00,328.77 L105.50,328.97 L106.00,329.17 L106.50,329.36 L107.00,329.56 L107.50,329.75 L108.00,329.95 L108.50,330.14 L109.00,330.34 L109.50,330.53 L110.00,330.73 L110.50,330.92 L111.00,331.11 L111.50,331.30 L112.00,331.50 L112.50,331.69 L113.00,331.88 L113.50,332.07 L114.00,332.26 L114.50,332.45 L115.00,332.64 L115.50,332.82 L116.00,333.01 L116.50,333.20 L117.00,333.38 L117.50,333.57 L118.00,333.75 L118.50,333.94 L119.00,334.12 L119.50,334.30 L120.00,334.48 L120.50,334.66 L121.00,334.84 L121.50,335.02 L122.00,335.20 L122.50,335.38 L123.00,335.55 L123.50,335.73 L124.00,335.90 L124.50,336.07 L125.00,336.25 L125.50,336.42 L126.00,336.59 L126.50,336.76 L127.00,336.93 L127.50,337.10 L128.00,337.27 L128.50,337.43 L129.00,337.60 L129.50,337.77 L130.00,337.93 L130.50,338.10 L131.00,338.26 L131.50,338.43 L132.00,338.59 L132.50,338.75 L133.00,338.91 L133.50,339.08 L134.00,339.24 L134.50,339.40 L135.00,339.56 L135.50,339.72 L136.00,339.88 L136.50,340.04 L137.00,340.19 L137.50,340.35 L138.00,340.51 L138.50,340.67 L139.00,340.82 L139.50,340.98 L140.00,341.14 L140.50,341.29 L141.00,341.45 L141.50,341.60 L142.00,341.76 L142.50,341.91 L143.00,342.07 L143.50,342.22 L144.00,342.37 L144.50,342.53 L145.00,342.68 L145.50,342.83 L146.00,342.98 L146.50,343.14 L147.00,343.29 L147.50,343.44 L148.00,343.59 L148.50,343.75 L149.00,343.90 L149.50,344.05 L150.00,344.20 L150.50,344.35 L151.00,344.50 L151.50,344.65 L152.00,344.80 L152.50,344.95 L153.00,345.10 L153.50,345.26 L154.00,345.41 L154.50,345.55 L155.00,345.70 L155.50,345.85 L156.00,346.00 L156.50,346.15 L157.00,346.30 L157.50,346.45 L158.00,346.60 L158.50,346.74 L159.00,346.89 L159.50,347.04 L160.00,347.18 L160.50,347.33 L161.00,347.48 L161.50,347.62 L162.00,347.77 L162.50,347.91 L163.00,348.06 L163.50,348.20 L164.00,348.35 L164.50,348.49 L165.00,348.63 L165.50,348.78 L166.00,348.92 L166.50,349.06 L167.00,349.20 L167.50,349.34 L168.00,349.48 L168.50,349.62 L169.00,349.76 L169.50,349.90 L170.00,350.04 L170.50,350.18 L171.00,350.32 L171.50,350.45 L172.00,350.59 L172.50,350.73 L173.00,350.86 L173.50,351.00 L174.00,351.13 L174.50,351.27 L175.00,351.40 L175.50,351.53 L176.00,351.67 L176.50,351.80 L177.00,351.93 L177.50,352.06 L178.00,352.19 L178.50,352.32 L179.00,352.45 L179.50,352.58 L180.00,352.70 L180.50,352.83 L181.00,352.96 L181.50,353.08 L182.00,353.21 L182.50,353.34 L183.00,353.46 L183.50,353.59 L184.00,353.71 L184.50,353.83 L185.00,353.96 L185.50,354.08 L186.00,354.21 L186.50,354.33 L187.00,354.45 L187.50,354.57 L188.00,354.70 L188.50,354.82 L189.00,354.94 L189.50,355.06 L190.00,355.18 L190.50,355.30 L191.00,355.42 L191.50,355.55 L192.00,355.67 L192.50,355.79 L193.00,355.91 L193.50,356.03 L194.00,356.15 L194.50,356.27 L195.00,356.39 L195.50,356.51 L196.00,356.63 L196.50,356.75 L197.00,356.87 L197.50,356.99 L198.00,357.12 L198.50,357.24 L199.00,357.36 L199.50,357.48 L200.00,357.60 L200.50,357.72 L201.00,357.84 L201.50,357.96 L202.00,358.08 L202.50,358.21 L203.00,358.33 L203.50,358.45 L204.00,358.57 L204.50,358.69 L205.00,358.81 L205.50,358.93 L206.00,359.05 L206.50,359.16 L207.00,359.28 L207.50,359.40 L208.00,359.52 L208.50,359.64 L209.00,359.76 L209.50,359.88 L210.00,360.00 L210.50,360.12 L211.00,360.24 L211.50,360.35 L212.00,360.47 L212.50,360.59 L213.00,360.71 L213.50,360.83 L214.00,360.95 L214.50,361.07 L215.00,361.18 L215.50,361.30 L216.00,361.42 L216.50,361.54 L217.00,361.66 L217.50,361.78 L218.00,361.89 L218.50,362.01 L219.00,362.13 L219.50,362.25 L220.00,362.37 L220.50,362.49 L221.00,362.61 L221.50,362.72 L222.00,362.84 L222.50,362.96 L223.00,363.08 L223.50,363.20" fill="none" stroke="#1a1ab8" stroke-width="2.6" stroke-linejoin="round" stroke-linecap="butt"/>
<path d="M27.90,289.60 L28.40,289.92 L28.90,290.24 L29.41,290.56 L29.91,290.88 L30.41,291.20 L30.91,291.52 L31.42,291.84 L31.92,292.16 L32.42,292.49 L32.92,292.81 L33.42,293.13 L33.93,293.46 L34.43,293.78 L34.93,294.10 L35.43,294.43 L35.94,294.75 L36.44,295.07 L36.94,295.40 L37.44,295.72 L37.95,296.04 L38.45,296.37 L38.95,296.69 L39.45,297.01 L39.95,297.33 L40.46,297.65 L40.96,297.97 L41.46,298.29 L41.96,298.61 L42.47,298.93 L42.97,299.25 L43.47,299.57 L43.97,299.88 L44.48,300.20 L44.98,300.51 L45.48,300.83 L45.98,301.14 L46.48,301.45 L46.99,301.76 L47.49,302.07 L47.99,302.38 L48.49,302.69 L49.00,302.99 L49.50,303.30 L50.00,303.60 L50.50,303.90 L51.00,304.21 L51.51,304.51 L52.01,304.81 L52.51,305.12 L53.01,305.42 L53.52,305.73 L54.02,306.03 L54.52,306.34 L55.02,306.64 L55.53,306.95 L56.03,307.25 L56.53,307.56 L57.03,307.86 L57.54,308.16 L58.04,308.46 L58.54,308.77 L59.04,309.07 L59.55,309.36 L60.05,309.66 L60.55,309.96 L61.05,310.25 L61.56,310.54 L62.06,310.83 L62.56,311.12 L63.06,311.41 L63.57,311.69 L64.07,311.98 L64.57,312.26 L65.07,312.54 L65.58,312.81 L66.08,313.08 L66.58,313.35 L67.08,313.62 L67.59,313.88 L68.09,314.15 L68.59,314.40 L69.09,314.66 L69.60,314.91 L70.10,315.16 L70.60,315.40 L71.11,315.64 L71.61,315.88 L72.12,316.12 L72.63,316.36 L73.13,316.59 L73.64,316.83 L74.15,317.06 L74.66,317.28 L75.16,317.51 L75.67,317.74 L76.18,317.96 L76.68,318.18 L77.19,318.40 L77.70,318.62 L78.20,318.84 L78.71,319.05 L79.22,319.26 L79.72,319.48 L80.23,319.69 L80.74,319.90 L81.24,320.11 L81.75,320.31 L82.26,320.52 L82.77,320.72 L83.27,320.93 L83.78,321.13 L84.29,321.33 L84.79,321.53 L85.30,321.73 L85.81,321.93 L86.31,322.13 L86.82,322.33 L87.33,322.53 L87.83,322.73 L88.34,322.92 L88.85,323.12 L89.36,323.31 L89.86,323.51 L90.37,323.70 L90.88,323.90 L91.38,324.09 L91.89,324.28 L92.40,324.48 L92.90,324.67 L93.41,324.87 L93.92,325.06 L94.42,325.25 L94.93,325.45 L95.44,325.64 L95.94,325.83 L96.45,326.03 L96.96,326.22 L97.47,326.42 L97.97,326.61 L98.48,326.81 L98.99,327.01 L99.49,327.20 L100.00,327.40 L100.50,327.60 L101.00,327.79 L101.50,327.98 L102.00,328.18 L102.50,328.37 L103.00,328.57 L103.50,328.76 L104.00,328.96 L104.50,329.15 L105.00,329.34 L105.50,329.54 L106.00,329.73 L106.50,329.92 L107.00,330.11 L107.50,330.30 L108.00,330.50 L108.50,330.69 L109.00,330.88 L109.50,331.07 L110.00,331.26 L110.50,331.45 L111.00,331.64 L111.50,331.83 L112.00,332.02 L112.50,332.20 L113.00,332.39 L113.50,332.58 L114.00,332.77 L114.50,332.95 L115.00,333.14 L115.50,333.32 L116.00,333.51 L116.50,333.69 L117.00,333.88 L117.50,334.06 L118.00,334.25 L118.50,334.43 L119.00,334.61 L119.50,334.79 L120.00,334.97 L120.50,335.15 L121.00,335.33 L121.50,335.51 L122.00,335.69 L122.50,335.87 L123.00,336.05 L123.50,336.22 L124.00,336.40 L124.50,336.58 L125.00,336.75 L125.50,336.93 L126.00,337.10 L126.50,337.27 L127.00,337.45 L127.50,337.62 L128.00,337.79 L128.50,337.97 L129.00,338.14 L129.50,338.31 L130.00,338.48 L130.50,338.65 L131.00,338.82 L131.50,338.99 L132.00,339.16 L132.50,339.33 L133.00,339.50 L133.50,339.66 L134.00,339.83 L134.50,340.00 L135.00,340.17 L135.50,340.33 L136.00,340.50 L136.50,340.66 L137.00,340.83 L137.50,340.99 L138.00,341.16 L138.50,341.32 L139.00,341.49 L139.50,341.65 L140.00,341.81 L140.50,341.97 L141.00,342.14 L141.50,342.30 L142.00,342.46 L142.50,342.62 L143.00,342.78 L143.50,342.94 L144.00,343.10 L144.50,343.26 L145.00,343.42 L145.50,343.58 L146.00,343.74 L146.50,343.90 L147.00,344.06 L147.50,344.22 L148.00,344.37 L148.50,344.53 L149.00,344.69 L149.50,344.84 L150.00,345.00 L150.50,345.16 L151.00,345.31 L151.50,345.47 L152.00,345.62 L152.50,345.78 L153.00,345.93 L153.50,346.09 L154.00,346.24 L154.50,346.40 L155.00,346.55 L155.50,346.70 L156.00,346.86 L156.50,347.01 L157.00,347.16 L157.50,347.31 L158.00,347.47 L158.50,347.62 L159.00,347.77 L159.50,347.92 L160.00,348.07 L160.50,348.22 L161.00,348.37 L161.50,348.52 L162.00,348.67 L162.50,348.82 L163.00,348.97 L163.50,349.11 L164.00,349.26 L164.50,349.41 L165.00,349.56 L165.50,349.70 L166.00,349.85 L166.50,349.99 L167.00,350.14 L167.50,350.28 L168.00,350.43 L168.50,350.57 L169.00,350.72 L169.50,350.86 L170.00,351.00 L170.50,351.14 L171.00,351.29 L171.50,351.43 L172.00,351.57 L172.50,351.71 L173.00,351.85 L173.50,351.99 L174.00,352.12 L174.50,352.26 L175.00,352.40 L175.50,352.54 L176.00,352.67 L176.50,352.81 L177.00,352.94 L177.50,353.08 L178.00,353.21 L178.50,353.35 L179.00,353.48 L179.50,353.61 L180.00,353.74 L180.50,353.87 L181.00,354.01 L181.50,354.14 L182.00,354.27 L182.50,354.40 L183.00,354.52 L183.50,354.65 L184.00,354.78 L184.50,354.91 L185.00,355.04 L185.50,355.17 L186.00,355.29 L186.50,355.42 L187.00,355.55 L187.50,355.67 L188.00,355.80 L188.50,355.92 L189.00,356.05 L189.50,356.18 L190.00,356.30 L190.50,356.43 L191.00,356.55 L191.50,356.68 L192.00,356.80 L192.50,356.93 L193.00,357.05 L193.50,357.18 L194.00,357.30 L194.50,357.43 L195.00,357.55 L195.50,357.67 L196.00,357.80 L196.50,357.92 L197.00,358.05 L197.50,358.17 L198.00,358.30 L198.50,358.42 L199.00,358.55 L199.50,358.67 L200.00,358.80 L200.50,358.93 L201.00,359.05 L201.50,359.18 L202.00,359.30 L202.50,359.43 L203.00,359.55 L203.50,359.68 L204.00,359.80 L204.50,359.92 L205.00,360.05 L205.50,360.17 L206.00,360.30 L206.50,360.42 L207.00,360.54 L207.50,360.67 L208.00,360.79 L208.50,360.91 L209.00,361.04 L209.50,361.16 L210.00,361.28 L210.50,361.41 L211.00,361.53 L211.50,361.65 L212.00,361.77 L212.50,361.90 L213.00,362.02 L213.50,362.14 L214.00,362.27 L214.50,362.39 L215.00,362.51 L215.50,362.63 L216.00,362.76 L216.50,362.88 L217.00,363.00 L217.50,363.12 L218.00,363.25 L218.50,363.37 L219.00,363.49 L219.50,363.62 L220.00,363.74 L220.50,363.86 L221.00,363.98 L221.50,364.11 L222.00,364.23 L222.50,364.35 L223.00,364.48 L223.50,364.60" fill="none" stroke="#20d8f0" stroke-width="2.2" stroke-linejoin="round" stroke-linecap="butt"/>
<path d="M27.90,298.70 L28.40,298.89 L28.90,299.08 L29.41,299.26 L29.91,299.45 L30.41,299.64 L30.91,299.83 L31.42,300.02 L31.92,300.20 L32.42,300.39 L32.92,300.58 L33.42,300.76 L33.93,300.95 L34.43,301.14 L34.93,301.32 L35.43,301.51 L35.94,301.70 L36.44,301.88 L36.94,302.07 L37.44,302.26 L37.95,302.45 L38.45,302.63 L38.95,302.82 L39.45,303.01 L39.95,303.19 L40.46,303.38 L40.96,303.57 L41.46,303.76 L41.96,303.95 L42.47,304.13 L42.97,304.32 L43.47,304.51 L43.97,304.70 L44.48,304.89 L44.98,305.08 L45.48,305.27 L45.98,305.46 L46.48,305.65 L46.99,305.84 L47.49,306.04 L47.99,306.23 L48.49,306.42 L49.00,306.61 L49.50,306.81 L50.00,307.00 L50.50,307.19 L51.00,307.39 L51.51,307.59 L52.01,307.79 L52.51,307.98 L53.01,308.18 L53.52,308.38 L54.02,308.59 L54.52,308.79 L55.02,308.99 L55.53,309.19 L56.03,309.40 L56.53,309.60 L57.03,309.80 L57.54,310.01 L58.04,310.21 L58.54,310.42 L59.04,310.62 L59.55,310.83 L60.05,311.03 L60.55,311.23 L61.05,311.44 L61.56,311.64 L62.06,311.85 L62.56,312.05 L63.06,312.25 L63.57,312.46 L64.07,312.66 L64.57,312.86 L65.07,313.06 L65.58,313.26 L66.08,313.46 L66.58,313.66 L67.08,313.85 L67.59,314.05 L68.09,314.24 L68.59,314.44 L69.09,314.63 L69.60,314.82 L70.10,315.01 L70.60,315.20 L71.11,315.39 L71.61,315.58 L72.12,315.77 L72.63,315.95 L73.13,316.14 L73.64,316.33 L74.15,316.51 L74.66,316.70 L75.16,316.88 L75.67,317.06 L76.18,317.25 L76.68,317.43 L77.19,317.61 L77.70,317.79 L78.20,317.97 L78.71,318.15 L79.22,318.33 L79.72,318.51 L80.23,318.69 L80.74,318.87 L81.24,319.05 L81.75,319.23 L82.26,319.40 L82.77,319.58 L83.27,319.76 L83.78,319.93 L84.29,320.11 L84.79,320.29 L85.30,320.46 L85.81,320.64 L86.31,320.81 L86.82,320.99 L87.33,321.16 L87.83,321.34 L88.34,321.51 L88.85,321.68 L89.36,321.86 L89.86,322.03 L90.37,322.21 L90.88,322.38 L91.38,322.55 L91.89,322.73 L92.40,322.90 L92.90,323.07 L93.41,323.25 L93.92,323.42 L94.42,323.59 L94.93,323.76 L95.44,323.94 L95.94,324.11 L96.45,324.28 L96.96,324.46 L97.47,324.63 L97.97,324.80 L98.48,324.98 L98.99,325.15 L99.49,325.33 L100.00,325.50 L100.50,325.67 L101.00,325.84 L101.50,326.01 L102.00,326.18 L102.50,326.36 L103.00,326.53 L103.50,326.70 L104.00,326.87 L104.50,327.04 L105.00,327.20 L105.50,327.37 L106.00,327.54 L106.50,327.71 L107.00,327.88 L107.50,328.05 L108.00,328.22 L108.50,328.39 L109.00,328.55 L109.50,328.72 L110.00,328.89 L110.50,329.06 L111.00,329.23 L111.50,329.39 L112.00,329.56 L112.50,329.73 L113.00,329.90 L113.50,330.06 L114.00,330.23 L114.50,330.40 L115.00,330.57 L115.50,330.73 L116.00,330.90 L116.50,331.07 L117.00,331.24 L117.50,331.41 L118.00,331.57 L118.50,331.74 L119.00,331.91 L119.50,332.08 L120.00,332.25 L120.50,332.42 L121.00,332.58 L121.50,332.75 L122.00,332.92 L122.50,333.09 L123.00,333.26 L123.50,333.43 L124.00,333.60 L124.50,333.77 L125.00,333.94 L125.50,334.11 L126.00,334.28 L126.50,334.45 L127.00,334.62 L127.50,334.79 L128.00,334.96 L128.50,335.13 L129.00,335.30 L129.50,335.47 L130.00,335.64 L130.50,335.81 L131.00,335.98 L131.50,336.15 L132.00,336.32 L132.50,336.49 L133.00,336.66 L133.50,336.83 L134.00,337.00 L134.50,337.17 L135.00,337.34 L135.50,337.51 L136.00,337.68 L136.50,337.85 L137.00,338.02 L137.50,338.19 L138.00,338.36 L138.50,338.53 L139.00,338.70 L139.50,338.87 L140.00,339.05 L140.50,339.22 L141.00,339.39 L141.50,339.56 L142.00,339.73 L142.50,339.90 L143.00,340.08 L143.50,340.25 L144.00,340.42 L144.50,340.59 L145.00,340.76 L145.50,340.94 L146.00,341.11 L146.50,341.28 L147.00,341.46 L147.50,341.63 L148.00,341.80 L148.50,341.98 L149.00,342.15 L149.50,342.33 L150.00,342.50 L150.50,342.67 L151.00,342.85 L151.50,343.02 L152.00,343.20 L152.50,343.38 L153.00,343.55 L153.50,343.73 L154.00,343.91 L154.50,344.08 L155.00,344.26 L155.50,344.44 L156.00,344.61 L156.50,344.79 L157.00,344.97 L157.50,345.15 L158.00,345.33 L158.50,345.50 L159.00,345.68 L159.50,345.86 L160.00,346.04 L160.50,346.22 L161.00,346.40 L161.50,346.58 L162.00,346.76 L162.50,346.93 L163.00,347.11 L163.50,347.29 L164.00,347.47 L164.50,347.65 L165.00,347.83 L165.50,348.01 L166.00,348.19 L166.50,348.37 L167.00,348.55 L167.50,348.73 L168.00,348.91 L168.50,349.08 L169.00,349.26 L169.50,349.44 L170.00,349.62 L170.50,349.80 L171.00,349.98 L171.50,350.16 L172.00,350.33 L172.50,350.51 L173.00,350.69 L173.50,350.87 L174.00,351.05 L174.50,351.22 L175.00,351.40 L175.50,351.58 L176.00,351.75 L176.50,351.93 L177.00,352.11 L177.50,352.28 L178.00,352.46 L178.50,352.63 L179.00,352.81 L179.50,352.98 L180.00,353.15 L180.50,353.33 L181.00,353.50 L181.50,353.68 L182.00,353.85 L182.50,354.02 L183.00,354.20 L183.50,354.37 L184.00,354.54 L184.50,354.72 L185.00,354.89 L185.50,355.06 L186.00,355.24 L186.50,355.41 L187.00,355.59 L187.50,355.76 L188.00,355.93 L188.50,356.11 L189.00,356.28 L189.50,356.46 L190.00,356.63 L190.50,356.81 L191.00,356.98 L191.50,357.16 L192.00,357.33 L192.50,357.51 L193.00,357.68 L193.50,357.86 L194.00,358.04 L194.50,358.22 L195.00,358.39 L195.50,358.57 L196.00,358.75 L196.50,358.93 L197.00,359.11 L197.50,359.29 L198.00,359.47 L198.50,359.65 L199.00,359.83 L199.50,360.02 L200.00,360.20 L200.50,360.38 L201.00,360.57 L201.50,360.75 L202.00,360.94 L202.50,361.13 L203.00,361.31 L203.50,361.50 L204.00,361.69 L204.50,361.88 L205.00,362.07 L205.50,362.25 L206.00,362.44 L206.50,362.63 L207.00,362.83 L207.50,363.02 L208.00,363.21 L208.50,363.40 L209.00,363.59 L209.50,363.78 L210.00,363.98 L210.50,364.17 L211.00,364.36 L211.50,364.56 L212.00,364.75 L212.50,364.94 L213.00,365.14 L213.50,365.33 L214.00,365.53 L214.50,365.72 L215.00,365.91 L215.50,366.11 L216.00,366.30 L216.50,366.50 L217.00,366.69 L217.50,366.88 L218.00,367.08 L218.50,367.27 L219.00,367.47 L219.50,367.66 L220.00,367.85 L220.50,368.05 L221.00,368.24 L221.50,368.43 L222.00,368.62 L222.50,368.82 L223.00,369.01 L223.50,369.20" fill="none" stroke="#22d622" stroke-width="2.2" stroke-linejoin="round" stroke-linecap="butt"/>
<rect x="25.5" y="222.2" width="198.5" height="198.2" fill="none" stroke="#6c6c6c" stroke-width="1"/>
<line x1="26.30" y1="420.40" x2="26.30" y2="422.00" stroke="#6c6c6c" stroke-width="1"/>
<line x1="42.73" y1="420.40" x2="42.73" y2="422.00" stroke="#6c6c6c" stroke-width="1"/>
<line x1="59.16" y1="420.40" x2="59.16" y2="422.00" stroke="#6c6c6c" stroke-width="1"/>
<line x1="75.59" y1="420.40" x2="75.59" y2="422.00" stroke="#6c6c6c" stroke-width="1"/>
<line x1="92.02" y1="420.40" x2="92.02" y2="422.00" stroke="#6c6c6c" stroke-width="1"/>
<line x1="108.45" y1="420.40" x2="108.45" y2="422.00" stroke="#6c6c6c" stroke-width="1"/>
<line x1="124.88" y1="420.40" x2="124.88" y2="422.00" stroke="#6c6c6c" stroke-width="1"/>
<line x1="141.31" y1="420.40" x2="141.31" y2="422.00" stroke="#6c6c6c" stroke-width="1"/>
<line x1="157.74" y1="420.40" x2="157.74" y2="422.00" stroke="#6c6c6c" stroke-width="1"/>
<line x1="174.17" y1="420.40" x2="174.17" y2="422.00" stroke="#6c6c6c" stroke-width="1"/>
<line x1="190.60" y1="420.40" x2="190.60" y2="422.00" stroke="#6c6c6c" stroke-width="1"/>
<line x1="207.03" y1="420.40" x2="207.03" y2="422.00" stroke="#6c6c6c" stroke-width="1"/>
<line x1="223.46" y1="420.40" x2="223.46" y2="422.00" stroke="#6c6c6c" stroke-width="1"/>
<line x1="26.30" y1="420.40" x2="26.30" y2="423.20" stroke="#6c6c6c" stroke-width="1"/>
<line x1="59.16" y1="420.40" x2="59.16" y2="423.20" stroke="#6c6c6c" stroke-width="1"/>
<line x1="92.02" y1="420.40" x2="92.02" y2="423.20" stroke="#6c6c6c" stroke-width="1"/>
<line x1="124.88" y1="420.40" x2="124.88" y2="423.20" stroke="#6c6c6c" stroke-width="1"/>
<line x1="157.74" y1="420.40" x2="157.74" y2="423.20" stroke="#6c6c6c" stroke-width="1"/>
<line x1="190.60" y1="420.40" x2="190.60" y2="423.20" stroke="#6c6c6c" stroke-width="1"/>
<line x1="223.46" y1="420.40" x2="223.46" y2="423.20" stroke="#6c6c6c" stroke-width="1"/>
<line x1="23.90" y1="403.30" x2="25.50" y2="403.30" stroke="#6c6c6c" stroke-width="1"/>
<line x1="23.90" y1="370.70" x2="25.50" y2="370.70" stroke="#6c6c6c" stroke-width="1"/>
<line x1="23.90" y1="338.10" x2="25.50" y2="338.10" stroke="#6c6c6c" stroke-width="1"/>
<line x1="23.90" y1="305.50" x2="25.50" y2="305.50" stroke="#6c6c6c" stroke-width="1"/>
<line x1="23.90" y1="272.90" x2="25.50" y2="272.90" stroke="#6c6c6c" stroke-width="1"/>
<line x1="23.90" y1="240.30" x2="25.50" y2="240.30" stroke="#6c6c6c" stroke-width="1"/>
<line x1="22.70" y1="419.60" x2="25.50" y2="419.60" stroke="#6c6c6c" stroke-width="1"/>
<line x1="22.70" y1="387.00" x2="25.50" y2="387.00" stroke="#6c6c6c" stroke-width="1"/>
<line x1="22.70" y1="354.40" x2="25.50" y2="354.40" stroke="#6c6c6c" stroke-width="1"/>
<line x1="22.70" y1="321.80" x2="25.50" y2="321.80" stroke="#6c6c6c" stroke-width="1"/>
<line x1="22.70" y1="289.20" x2="25.50" y2="289.20" stroke="#6c6c6c" stroke-width="1"/>
<line x1="22.70" y1="256.60" x2="25.50" y2="256.60" stroke="#6c6c6c" stroke-width="1"/>
<line x1="22.70" y1="224.00" x2="25.50" y2="224.00" stroke="#6c6c6c" stroke-width="1"/>
<text x="26.30" y="433.40" font-family="Liberation Serif" font-weight="bold" font-size="10" text-anchor="middle" fill="#111" stroke="#111" stroke-width="0.22" >0</text>
<text x="59.16" y="433.40" font-family="Liberation Serif" font-weight="bold" font-size="10" text-anchor="middle" fill="#111" stroke="#111" stroke-width="0.22" >2</text>
<text x="92.02" y="433.40" font-family="Liberation Serif" font-weight="bold" font-size="10" text-anchor="middle" fill="#111" stroke="#111" stroke-width="0.22" >4</text>
<text x="124.88" y="433.40" font-family="Liberation Serif" font-weight="bold" font-size="10" text-anchor="middle" fill="#111" stroke="#111" stroke-width="0.22" >6</text>
<text x="157.74" y="433.40" font-family="Liberation Serif" font-weight="bold" font-size="10" text-anchor="middle" fill="#111" stroke="#111" stroke-width="0.22" >8</text>
<text x="190.60" y="433.40" font-family="Liberation Serif" font-weight="bold" font-size="10" text-anchor="middle" fill="#111" stroke="#111" stroke-width="0.22" >10</text>
<text x="223.46" y="433.40" font-family="Liberation Serif" font-weight="bold" font-size="10" text-anchor="middle" fill="#111" stroke="#111" stroke-width="0.22" >12</text>
<text x="22.30" y="423.90" font-family="Liberation Serif" font-weight="bold" font-size="10" text-anchor="end" fill="#111" stroke="#111" stroke-width="0.22" >1</text>
<text x="22.30" y="391.30" font-family="Liberation Serif" font-weight="bold" font-size="10" text-anchor="end" fill="#111" stroke="#111" stroke-width="0.22" >2</text>
<text x="22.30" y="358.70" font-family="Liberation Serif" font-weight="bold" font-size="10" text-anchor="end" fill="#111" stroke="#111" stroke-width="0.22" >3</text>
<text x="22.30" y="326.10" font-family="Liberation Serif" font-weight="bold" font-size="10" text-anchor="end" fill="#111" stroke="#111" stroke-width="0.22" >4</text>
<text x="22.30" y="293.50" font-family="Liberation Serif" font-weight="bold" font-size="10" text-anchor="end" fill="#111" stroke="#111" stroke-width="0.22" >5</text>
<text x="22.30" y="260.90" font-family="Liberation Serif" font-weight="bold" font-size="10" text-anchor="end" fill="#111" stroke="#111" stroke-width="0.22" >6</text>
<text x="22.30" y="228.30" font-family="Liberation Serif" font-weight="bold" font-size="10" text-anchor="end" fill="#111" stroke="#111" stroke-width="0.22" >7</text>
<text x="212.00" y="240.00" font-family="Liberation Serif" font-weight="bold" font-size="13" text-anchor="middle" fill="#111" stroke="#111" stroke-width="0.22" >D</text>
<text x="124.60" y="445.70" font-family="Liberation Serif" font-weight="bold" font-size="10.2" text-anchor="middle" fill="#111" stroke="#111" stroke-width="0.22" >Time (days*100)</text>
<text x="0.00" y="0.00" font-family="Liberation Serif" font-weight="bold" font-size="10.5" text-anchor="middle" fill="#111" stroke="#111" stroke-width="0.22" transform="translate(8.4,101.3) rotate(-90)">Ln radiocesium (Bq/kg)</text>
<text x="0.00" y="0.00" font-family="Liberation Serif" font-weight="bold" font-size="10.5" text-anchor="middle" fill="#111" stroke="#111" stroke-width="0.22" transform="translate(13.5,320.5) rotate(-90)">Ln radiocesium (Bq/kg)</text>
<rect x="281.7" y="221.6" width="198.5" height="198.20000000000002" fill="none" stroke="#1a1a1a" stroke-width="1"/>
<line x1="278.00" y1="419.80" x2="480.70" y2="419.80" stroke="#808080" stroke-width="1.6"/>
<line x1="281.70" y1="221.60" x2="281.70" y2="420.30" stroke="#1a1a1a" stroke-width="1.1"/>
<line x1="278.00" y1="221.77" x2="281.70" y2="221.77" stroke="#1a1a1a" stroke-width="1"/>
<text x="271.40" y="225.77" font-family="Liberation Serif" font-size="11.6" text-anchor="end" fill="#262626" stroke="#262626" stroke-width="0.12" >0.5</text>
<line x1="278.00" y1="250.10" x2="281.70" y2="250.10" stroke="#1a1a1a" stroke-width="1"/>
<text x="271.40" y="254.10" font-family="Liberation Serif" font-size="11.6" text-anchor="end" fill="#262626" stroke="#262626" stroke-width="0.12" >0.0</text>
<line x1="278.00" y1="278.43" x2="281.70" y2="278.43" stroke="#1a1a1a" stroke-width="1"/>
<text x="271.40" y="282.43" font-family="Liberation Serif" font-size="11.6" text-anchor="end" fill="#262626" stroke="#262626" stroke-width="0.12" >-0.5</text>
<line x1="278.00" y1="306.76" x2="281.70" y2="306.76" stroke="#1a1a1a" stroke-width="1"/>
<text x="271.40" y="310.76" font-family="Liberation Serif" font-size="11.6" text-anchor="end" fill="#262626" stroke="#262626" stroke-width="0.12" >-1.0</text>
<line x1="278.00" y1="335.09" x2="281.70" y2="335.09" stroke="#1a1a1a" stroke-width="1"/>
<text x="271.40" y="339.09" font-family="Liberation Serif" font-size="11.6" text-anchor="end" fill="#262626" stroke="#262626" stroke-width="0.12" >-1.5</text>
<line x1="278.00" y1="363.42" x2="281.70" y2="363.42" stroke="#1a1a1a" stroke-width="1"/>
<text x="271.40" y="367.42" font-family="Liberation Serif" font-size="11.6" text-anchor="end" fill="#262626" stroke="#262626" stroke-width="0.12" >-2.0</text>
<line x1="278.00" y1="391.75" x2="281.70" y2="391.75" stroke="#1a1a1a" stroke-width="1"/>
<text x="271.40" y="395.75" font-family="Liberation Serif" font-size="11.6" text-anchor="end" fill="#262626" stroke="#262626" stroke-width="0.12" >-2.5</text>
<line x1="278.00" y1="420.08" x2="281.70" y2="420.08" stroke="#1a1a1a" stroke-width="1"/>
<text x="271.40" y="424.08" font-family="Liberation Serif" font-size="11.6" text-anchor="end" fill="#262626" stroke="#262626" stroke-width="0.12" >-3.0</text>
<line x1="281.60" y1="419.80" x2="281.60" y2="423.40" stroke="#1a1a1a" stroke-width="1"/>
<line x1="289.54" y1="419.80" x2="289.54" y2="423.40" stroke="#1a1a1a" stroke-width="1"/>
<line x1="297.49" y1="419.80" x2="297.49" y2="423.40" stroke="#1a1a1a" stroke-width="1"/>
<line x1="305.43" y1="419.80" x2="305.43" y2="423.40" stroke="#1a1a1a" stroke-width="1"/>
<line x1="313.38" y1="419.80" x2="313.38" y2="423.40" stroke="#1a1a1a" stroke-width="1"/>
<line x1="321.32" y1="419.80" x2="321.32" y2="423.40" stroke="#1a1a1a" stroke-width="1"/>
<line x1="329.26" y1="419.80" x2="329.26" y2="423.40" stroke="#1a1a1a" stroke-width="1"/>
<line x1="337.21" y1="419.80" x2="337.21" y2="423.40" stroke="#1a1a1a" stroke-width="1"/>
<line x1="345.15" y1="419.80" x2="345.15" y2="423.40" stroke="#1a1a1a" stroke-width="1"/>
<line x1="353.10" y1="419.80" x2="353.10" y2="423.40" stroke="#1a1a1a" stroke-width="1"/>
<line x1="361.04" y1="419.80" x2="361.04" y2="423.40" stroke="#1a1a1a" stroke-width="1"/>
<line x1="368.98" y1="419.80" x2="368.98" y2="423.40" stroke="#1a1a1a" stroke-width="1"/>
<line x1="376.93" y1="419.80" x2="376.93" y2="423.40" stroke="#1a1a1a" stroke-width="1"/>
<line x1="384.87" y1="419.80" x2="384.87" y2="423.40" stroke="#1a1a1a" stroke-width="1"/>
<line x1="392.82" y1="419.80" x2="392.82" y2="423.40" stroke="#1a1a1a" stroke-width="1"/>
<line x1="400.76" y1="419.80" x2="400.76" y2="423.40" stroke="#1a1a1a" stroke-width="1"/>
<line x1="408.70" y1="419.80" x2="408.70" y2="423.40" stroke="#1a1a1a" stroke-width="1"/>
<line x1="416.65" y1="419.80" x2="416.65" y2="423.40" stroke="#1a1a1a" stroke-width="1"/>
<line x1="424.59" y1="419.80" x2="424.59" y2="423.40" stroke="#1a1a1a" stroke-width="1"/>
<line x1="432.54" y1="419.80" x2="432.54" y2="423.40" stroke="#1a1a1a" stroke-width="1"/>
<line x1="440.48" y1="419.80" x2="440.48" y2="423.40" stroke="#1a1a1a" stroke-width="1"/>
<line x1="448.42" y1="419.80" x2="448.42" y2="423.40" stroke="#1a1a1a" stroke-width="1"/>
<line x1="456.37" y1="419.80" x2="456.37" y2="423.40" stroke="#1a1a1a" stroke-width="1"/>
<line x1="464.31" y1="419.80" x2="464.31" y2="423.40" stroke="#1a1a1a" stroke-width="1"/>
<line x1="472.26" y1="419.80" x2="472.26" y2="423.40" stroke="#1a1a1a" stroke-width="1"/>
<line x1="480.20" y1="419.80" x2="480.20" y2="423.40" stroke="#1a1a1a" stroke-width="1"/>
<text x="281.60" y="437.60" font-family="Liberation Serif" font-size="12" text-anchor="middle" fill="#262626" stroke="#262626" stroke-width="0.12" >0</text>
<text x="321.32" y="437.60" font-family="Liberation Serif" font-size="12" text-anchor="middle" fill="#262626" stroke="#262626" stroke-width="0.12" >5</text>
<text x="361.04" y="437.60" font-family="Liberation Serif" font-size="12" text-anchor="middle" fill="#262626" stroke="#262626" stroke-width="0.12" >10</text>
<text x="400.76" y="437.60" font-family="Liberation Serif" font-size="12" text-anchor="middle" fill="#262626" stroke="#262626" stroke-width="0.12" >15</text>
<text x="440.48" y="437.60" font-family="Liberation Serif" font-size="12" text-anchor="middle" fill="#262626" stroke="#262626" stroke-width="0.12" >20</text>
<text x="480.20" y="437.60" font-family="Liberation Serif" font-size="12" text-anchor="middle" fill="#262626" stroke="#262626" stroke-width="0.12" >25</text>
<text x="387.70" y="447.50" font-family="Liberation Serif" font-weight="bold" font-size="11.6" text-anchor="middle" fill="#111" stroke="#111" stroke-width="0.22" >Time (days*100)</text>
<text x="0.00" y="0.00" font-family="Liberation Serif" font-weight="bold" font-size="11.8" text-anchor="middle" fill="#111" stroke="#111" stroke-width="0.22" transform="translate(248.2,320.6) rotate(-90)">Ln radioactivity fraction</text>
<text x="294.20" y="239.60" font-family="Liberation Serif" font-weight="bold" font-size="12.8" text-anchor="middle" fill="#111" stroke="#111" stroke-width="0.22" >E</text>
<path d="M281.60,250.10 L282.39,256.02 L283.19,261.64 L283.98,266.98 L284.78,272.06 L285.57,276.88 L286.37,281.46 L287.16,285.81 L287.96,289.94 L288.75,293.86 L289.54,297.59 L290.34,301.13 L291.13,304.50 L291.93,307.70 L292.72,310.74 L293.52,313.62 L294.31,316.37 L295.10,318.98 L295.90,321.45 L296.69,323.81 L297.49,326.04 L298.28,328.17 L299.08,330.19 L299.87,332.11 L300.67,333.94 L301.46,335.68 L302.25,337.33 L303.05,338.90 L303.84,340.39 L304.64,341.81 L305.43,343.16 L306.23,344.44 L307.02,345.66 L307.82,346.82 L308.61,347.93 L309.40,348.98 L310.20,349.98 L310.99,350.93 L311.79,351.83 L312.58,352.69 L313.38,353.52 L314.17,354.30 L314.96,355.04 L315.76,355.75 L316.55,356.42 L317.35,357.06 L318.14,357.68 L318.94,358.26 L319.73,358.81 L320.53,359.34 L321.32,359.85 L322.11,360.33 L322.91,360.79 L323.70,361.23 L324.50,361.65 L325.29,362.05 L326.09,362.43 L326.88,362.79 L327.68,363.14 L328.47,363.47 L329.26,363.79 L330.06,364.09 L330.85,364.38 L331.65,364.66 L332.44,364.92 L333.24,365.18 L334.03,365.42 L334.82,365.66 L335.62,365.88 L336.41,366.09 L337.21,366.30 L338.00,366.50 L338.80,366.69 L339.59,366.87 L340.39,367.04 L341.18,367.21 L341.97,367.37 L342.77,367.53 L343.56,367.68 L344.36,367.82 L345.15,367.96 L345.95,368.09 L346.74,368.22 L347.54,368.35 L348.33,368.47 L349.12,368.59 L349.92,368.70 L350.71,368.81 L351.51,368.91 L352.30,369.01 L353.10,369.11 L353.89,369.21 L354.68,369.30 L355.48,369.39 L356.27,369.48 L357.07,369.57 L357.86,369.65 L358.66,369.73 L359.45,369.81 L360.25,369.89 L361.04,369.97 L361.83,370.04 L362.63,370.11 L363.42,370.18 L364.22,370.25 L365.01,370.32 L365.81,370.39 L366.60,370.45 L367.40,370.52 L368.19,370.58 L368.98,370.64 L369.78,370.70 L370.57,370.76 L371.37,370.82 L372.16,370.88 L372.96,370.93 L373.75,370.99 L374.54,371.04 L375.34,371.10 L376.13,371.15 L376.93,371.21 L377.72,371.26 L378.52,371.31 L379.31,371.36 L380.11,371.41 L380.90,371.46 L381.69,371.51 L382.49,371.56 L383.28,371.61 L384.08,371.66 L384.87,371.71 L385.67,371.76 L386.46,371.80 L387.26,371.85 L388.05,371.90 L388.84,371.94 L389.64,371.99 L390.43,372.04 L391.23,372.08 L392.02,372.13 L392.82,372.17 L393.61,372.22 L394.40,372.26 L395.20,372.31 L395.99,372.35 L396.79,372.40 L397.58,372.44 L398.38,372.48 L399.17,372.53 L399.97,372.57 L400.76,372.62 L401.55,372.66 L402.35,372.70 L403.14,372.74 L403.94,372.79 L404.73,372.83 L405.53,372.87 L406.32,372.92 L407.12,372.96 L407.91,373.00 L408.70,373.04 L409.50,373.09 L410.29,373.13 L411.09,373.17 L411.88,373.21 L412.68,373.25 L413.47,373.30 L414.26,373.34 L415.06,373.38 L415.85,373.42 L416.65,373.46 L417.44,373.51 L418.24,373.55 L419.03,373.59 L419.83,373.63 L420.62,373.67 L421.41,373.71 L422.21,373.75 L423.00,373.80 L423.80,373.84 L424.59,373.88 L425.39,373.92 L426.18,373.96 L426.98,374.00 L427.77,374.04 L428.56,374.09 L429.36,374.13 L430.15,374.17 L430.95,374.21 L431.74,374.25 L432.54,374.29 L433.33,374.33 L434.12,374.37 L434.92,374.42 L435.71,374.46 L436.51,374.50 L437.30,374.54 L438.10,374.58 L438.89,374.62 L439.69,374.66 L440.48,374.70 L441.27,374.74 L442.07,374.79 L442.86,374.83 L443.66,374.87 L444.45,374.91 L445.25,374.95 L446.04,374.99 L446.84,375.03 L447.63,375.07 L448.42,375.11 L449.22,375.15 L450.01,375.19 L450.81,375.24 L451.60,375.28 L452.40,375.32 L453.19,375.36 L453.98,375.40 L454.78,375.44 L455.57,375.48 L456.37,375.52 L457.16,375.56 L457.96,375.60 L458.75,375.65 L459.55,375.69 L460.34,375.73 L461.13,375.77 L461.93,375.81 L462.72,375.85 L463.52,375.89 L464.31,375.93 L465.11,375.97 L465.90,376.01 L466.70,376.05 L467.49,376.10 L468.28,376.14 L469.08,376.18 L469.87,376.22 L470.67,376.26 L471.46,376.30 L472.26,376.34 L473.05,376.38 L473.84,376.42 L474.64,376.46 L475.43,376.50 L476.23,376.54 L477.02,376.59 L477.82,376.63 L478.61,376.67 L479.41,376.71 L480.20,376.75" fill="none" stroke="#1f6fba" stroke-width="2.3" stroke-linejoin="round" stroke-linecap="butt"/>
<path d="M281.70,250.10 L282.70,250.49 L283.70,250.88 L284.70,251.27 L285.70,251.66 L286.70,252.04 L287.70,252.43 L288.70,252.82 L289.70,253.20 L290.70,253.59 L291.70,253.97 L292.70,254.35 L293.70,254.73 L294.70,255.12 L295.70,255.50 L296.70,255.88 L297.70,256.26 L298.70,256.63 L299.70,257.01 L300.70,257.39 L301.70,257.76 L302.70,258.14 L303.70,258.51 L304.70,258.89 L305.70,259.26 L306.70,259.63 L307.70,260.01 L308.70,260.38 L309.70,260.75 L310.70,261.12 L311.70,261.49 L312.70,261.85 L313.70,262.22 L314.70,262.59 L315.70,262.95 L316.70,263.32 L317.70,263.68 L318.70,264.05 L319.70,264.41 L320.70,264.77 L321.70,265.13 L322.70,265.49 L323.70,265.85 L324.70,266.21 L325.70,266.57 L326.70,266.93 L327.70,267.28 L328.70,267.64 L329.70,267.99 L330.70,268.35 L331.70,268.70 L332.70,269.06 L333.70,269.41 L334.70,269.76 L335.70,270.11 L336.70,270.46 L337.70,270.81 L338.70,271.16 L339.70,271.51 L340.70,271.85 L341.70,272.20 L342.70,272.54 L343.70,272.89 L344.70,273.23 L345.70,273.58 L346.70,273.92 L347.70,274.26 L348.70,274.60 L349.70,274.94 L350.70,275.28 L351.70,275.62 L352.70,275.96 L353.70,276.30 L354.70,276.63 L355.70,276.97 L356.70,277.30 L357.70,277.64 L358.70,277.97 L359.70,278.31 L360.70,278.64 L361.70,278.97 L362.70,279.30 L363.70,279.63 L364.70,279.96 L365.70,280.29 L366.70,280.61 L367.70,280.94 L368.70,281.27 L369.70,281.59 L370.70,281.92 L371.70,282.24 L372.70,282.56 L373.70,282.89 L374.70,283.21 L375.70,283.53 L376.70,283.85 L377.70,284.17 L378.70,284.49 L379.70,284.81 L380.70,285.12 L381.70,285.44 L382.70,285.76 L383.70,286.07 L384.70,286.38 L385.70,286.70 L386.70,287.01 L387.70,287.32 L388.70,287.63 L389.70,287.94 L390.70,288.25 L391.70,288.56 L392.70,288.87 L393.70,289.18 L394.70,289.49 L395.70,289.79 L396.70,290.10 L397.70,290.40 L398.70,290.71 L399.70,291.01 L400.70,291.31 L401.70,291.61 L402.70,291.91 L403.70,292.21 L404.70,292.51 L405.70,292.81 L406.70,293.11 L407.70,293.41 L408.70,293.70 L409.70,294.00 L410.70,294.29 L411.70,294.59 L412.70,294.88 L413.70,295.17 L414.70,295.47 L415.70,295.76 L416.70,296.05 L417.70,296.34 L418.70,296.63 L419.70,296.91 L420.70,297.20 L421.70,297.49 L422.70,297.77 L423.70,298.06 L424.70,298.34 L425.70,298.63 L426.70,298.91 L427.70,299.19 L428.70,299.47 L429.70,299.75 L430.70,300.03 L431.70,300.31 L432.70,300.59 L433.70,300.87 L434.70,301.15 L435.70,301.42 L436.70,301.70 L437.70,301.97 L438.70,302.25 L439.70,302.52 L440.70,302.79 L441.70,303.06 L442.70,303.33 L443.70,303.60 L444.70,303.87 L445.70,304.14 L446.70,304.41 L447.70,304.68 L448.70,304.94 L449.70,305.21 L450.70,305.48 L451.70,305.74 L452.70,306.00 L453.70,306.27 L454.70,306.53 L455.70,306.79 L456.70,307.05 L457.70,307.31 L458.70,307.57 L459.70,307.83 L460.70,308.08 L461.70,308.34 L462.70,308.60 L463.70,308.85 L464.70,309.11 L465.70,309.36 L466.70,309.61 L467.70,309.87 L468.70,310.12 L469.70,310.37 L470.70,310.62 L471.70,310.87 L472.70,311.12 L473.70,311.36 L474.70,311.61 L475.70,311.86 L476.70,312.10 L477.70,312.35 L478.70,312.59 L479.70,312.84 L480.20,312.96" fill="none" stroke="#1ea64c" stroke-width="2.2" stroke-linejoin="round" stroke-linecap="butt"/>
<path d="M281.70,250.10 L281.86,250.10 L282.03,250.10 L282.20,250.11 L282.39,250.11 L282.59,250.11 L282.79,250.11 L283.00,250.12 L283.23,250.12 L283.46,250.12 L283.69,250.12 L283.94,250.12 L284.19,250.12 L284.45,250.13 L284.72,250.13 L285.00,250.13 L285.28,250.13 L285.56,250.13 L285.85,250.14 L286.15,250.14 L286.46,250.14 L286.76,250.14 L287.08,250.15 L287.39,250.15 L287.72,250.15 L288.04,250.15 L288.37,250.16 L288.71,250.16 L289.04,250.16 L289.38,250.17 L289.72,250.17 L290.07,250.17 L290.42,250.18 L290.77,250.18 L291.12,250.18 L291.47,250.19 L291.82,250.19 L292.18,250.20 L292.53,250.20 L292.89,250.21 L293.24,250.21 L293.60,250.22 L293.96,250.23 L294.31,250.23 L294.66,250.24 L295.02,250.25 L295.37,250.26 L295.72,250.26 L296.07,250.27 L296.41,250.28 L296.76,250.29 L297.10,250.30 L297.43,250.31 L297.77,250.32 L298.10,250.33 L298.43,250.34 L298.75,250.35 L299.07,250.36 L299.38,250.37 L299.69,250.39 L300.00,250.40 L300.30,250.41 L300.61,250.43 L300.91,250.44 L301.22,250.45 L301.53,250.46 L301.84,250.47 L302.15,250.48 L302.46,250.50 L302.77,250.51 L303.09,250.52 L303.40,250.53 L303.72,250.54 L304.03,250.55 L304.35,250.56 L304.66,250.57 L304.98,250.58 L305.29,250.59 L305.61,250.60 L305.93,250.61 L306.24,250.63 L306.56,250.64 L306.88,250.65 L307.19,250.66 L307.51,250.68 L307.83,250.69 L308.14,250.70 L308.45,250.72 L308.77,250.73 L309.08,250.75 L309.39,250.76 L309.71,250.78 L310.02,250.80 L310.33,250.81 L310.63,250.83 L310.94,250.85 L311.25,250.87 L311.55,250.89 L311.85,250.92 L312.16,250.94 L312.46,250.96 L312.75,250.99 L313.05,251.01 L313.35,251.04 L313.64,251.07 L313.93,251.10 L314.22,251.13 L314.50,251.16 L314.79,251.19 L315.07,251.23 L315.35,251.26 L315.63,251.30 L315.90,251.34 L316.17,251.38 L316.44,251.42 L316.71,251.46 L316.97,251.51 L317.24,251.55 L317.49,251.60 L317.75,251.65 L318.00,251.70 L318.25,251.75 L318.49,251.81 L318.74,251.86 L318.98,251.92 L319.22,251.98 L319.45,252.04 L319.69,252.10 L319.92,252.16 L320.14,252.23 L320.37,252.29 L320.59,252.36 L320.82,252.43 L321.04,252.50 L321.25,252.57 L321.47,252.64 L321.68,252.72 L321.89,252.79 L322.10,252.87 L322.31,252.94 L322.52,253.02 L322.72,253.10 L322.93,253.18 L323.13,253.26 L323.33,253.34 L323.53,253.43 L323.72,253.51 L323.92,253.59 L324.11,253.68 L324.31,253.76 L324.50,253.85 L324.69,253.94 L324.88,254.02 L325.07,254.11 L325.26,254.20 L325.45,254.29 L325.63,254.38 L325.82,254.47 L326.00,254.56 L326.19,254.65 L326.37,254.74 L326.55,254.84 L326.74,254.93 L326.92,255.02 L327.10,255.11 L327.28,255.21 L327.46,255.30 L327.64,255.39 L327.82,255.49 L328.00,255.58 L328.19,255.67 L328.37,255.77 L328.55,255.86 L328.73,255.95 L328.91,256.05 L329.09,256.14 L329.27,256.23 L329.45,256.32 L329.63,256.42 L329.82,256.51 L330.00,256.60 L330.18,256.69 L330.36,256.78 L330.53,256.87 L330.70,256.95 L330.86,257.03 L331.02,257.11 L331.17,257.19 L331.32,257.27 L331.47,257.35 L331.62,257.42 L331.76,257.50 L331.90,257.57 L332.04,257.65 L332.17,257.72 L332.31,257.79 L332.44,257.86 L332.57,257.93 L332.70,258.00 L332.82,258.08 L332.95,258.15 L333.08,258.22 L333.20,258.29 L333.33,258.37 L333.46,258.44 L333.58,258.51 L333.71,258.59 L333.84,258.67 L333.97,258.75 L334.10,258.83 L334.23,258.91 L334.36,258.99 L334.50,259.07 L334.64,259.16 L334.78,259.25 L334.92,259.34 L335.07,259.43 L335.22,259.53 L335.37,259.63 L335.52,259.73 L335.68,259.83 L335.84,259.94 L336.01,260.05 L336.18,260.16 L336.36,260.27 L336.54,260.39 L336.73,260.52 L336.92,260.64 L337.12,260.78 L337.32,260.91 L337.53,261.05 L337.74,261.19 L337.97,261.34 L338.19,261.49 L338.43,261.65 L338.67,261.81 L338.92,261.98 L339.18,262.15 L339.45,262.33 L339.72,262.51 L340.00,262.70 L340.29,262.89 L340.59,263.10 L340.89,263.30 L341.20,263.52 L341.52,263.74 L341.85,263.96 L342.18,264.19 L342.52,264.43 L342.87,264.67 L343.22,264.92 L343.58,265.17 L343.94,265.43 L344.31,265.69 L344.69,265.96 L345.07,266.23 L345.45,266.50 L345.84,266.78 L346.24,267.06 L346.64,267.35 L347.04,267.64 L347.45,267.93 L347.86,268.22 L348.27,268.52 L348.69,268.82 L349.11,269.12 L349.54,269.42 L349.96,269.73 L350.39,270.03 L350.82,270.34 L351.26,270.65 L351.69,270.96 L352.13,271.27 L352.57,271.58 L353.01,271.89 L353.45,272.21 L353.89,272.52 L354.34,272.83 L354.78,273.14 L355.23,273.45 L355.67,273.76 L356.12,274.07 L356.56,274.38 L357.00,274.69 L357.45,274.99 L357.89,275.30 L358.33,275.60 L358.77,275.90 L359.21,276.19 L359.65,276.49 L360.08,276.78 L360.52,277.07 L360.95,277.35 L361.38,277.63 L361.81,277.91 L362.23,278.19 L362.65,278.46 L363.07,278.73 L363.48,278.99 L363.89,279.25 L364.30,279.50 L364.70,279.75 L365.11,280.00 L365.51,280.25 L365.91,280.49 L366.30,280.73 L366.70,280.98 L367.09,281.22 L367.49,281.46 L367.88,281.70 L368.27,281.93 L368.66,282.17 L369.05,282.40 L369.43,282.63 L369.82,282.87 L370.21,283.10 L370.59,283.33 L370.98,283.55 L371.37,283.78 L371.75,284.01 L372.14,284.23 L372.52,284.46 L372.91,284.68 L373.29,284.90 L373.68,285.12 L374.07,285.35 L374.45,285.57 L374.84,285.78 L375.23,286.00 L375.62,286.22 L376.01,286.44 L376.40,286.65 L376.79,286.87 L377.18,287.08 L377.58,287.30 L377.97,287.51 L378.37,287.73 L378.77,287.94 L379.17,288.15 L379.57,288.37 L379.97,288.58 L380.38,288.79 L380.79,289.00 L381.20,289.21 L381.61,289.42 L382.03,289.63 L382.44,289.85 L382.86,290.06 L383.29,290.27 L383.71,290.48 L384.14,290.69 L384.57,290.90 L385.00,291.11 L385.44,291.32 L385.88,291.53 L386.33,291.74 L386.77,291.95 L387.22,292.16 L387.68,292.38 L388.14,292.59 L388.60,292.80 L389.07,293.01 L389.54,293.22 L390.01,293.44 L390.49,293.65 L390.97,293.86 L391.46,294.07 L391.95,294.28 L392.44,294.49 L392.94,294.71 L393.44,294.92 L393.94,295.13 L394.45,295.34 L394.96,295.55 L395.47,295.76 L395.98,295.97 L396.50,296.18 L397.02,296.39 L397.54,296.59 L398.07,296.80 L398.59,297.01 L399.12,297.22 L399.65,297.43 L400.18,297.63 L400.72,297.84 L401.25,298.05 L401.79,298.25 L402.32,298.46 L402.86,298.67 L403.40,298.87 L403.94,299.08 L404.49,299.28 L405.03,299.48 L405.57,299.69 L406.11,299.89 L406.66,300.09 L407.20,300.30 L407.74,300.50 L408.29,300.70 L408.83,300.90 L409.37,301.10 L409.92,301.30 L410.46,301.50 L411.00,301.70 L411.54,301.90 L412.08,302.10 L412.62,302.29 L413.16,302.49 L413.70,302.69 L414.23,302.88 L414.77,303.08 L415.30,303.27 L415.83,303.47 L416.36,303.66 L416.88,303.85 L417.41,304.05 L417.93,304.24 L418.45,304.43 L418.97,304.62 L419.49,304.81 L420.00,305.00 L420.51,305.19 L421.02,305.38 L421.53,305.57 L422.04,305.75 L422.55,305.94 L423.06,306.13 L423.56,306.32 L424.07,306.50 L424.57,306.69 L425.08,306.87 L425.58,307.06 L426.09,307.24 L426.59,307.43 L427.09,307.61 L427.59,307.79 L428.10,307.98 L428.60,308.16 L429.10,308.34 L429.60,308.52 L430.10,308.70 L430.60,308.88 L431.09,309.06 L431.59,309.24 L432.09,309.42 L432.59,309.60 L433.09,309.78 L433.58,309.96 L434.08,310.13 L434.58,310.31 L435.08,310.49 L435.57,310.66 L436.07,310.84 L436.56,311.01 L437.06,311.19 L437.56,311.36 L438.05,311.53 L438.55,311.71 L439.04,311.88 L439.54,312.05 L440.04,312.22 L440.53,312.39 L441.03,312.56 L441.53,312.73 L442.02,312.89 L442.52,313.06 L443.02,313.23 L443.51,313.40 L444.01,313.56 L444.51,313.73 L445.00,313.89 L445.50,314.06 L446.00,314.22 L446.50,314.38 L447.00,314.54 L447.50,314.70 L448.00,314.86 L448.50,315.02 L449.00,315.18 L449.50,315.34 L450.00,315.50 L450.51,315.66 L451.02,315.82 L451.54,315.98 L452.07,316.14 L452.61,316.30 L453.15,316.46 L453.70,316.63 L454.25,316.79 L454.81,316.95 L455.37,317.12 L455.94,317.28 L456.51,317.45 L457.09,317.61 L457.66,317.78 L458.24,317.94 L458.83,318.11 L459.41,318.27 L460.00,318.44 L460.58,318.60 L461.17,318.77 L461.76,318.93 L462.34,319.09 L462.93,319.25 L463.52,319.41 L464.10,319.57 L464.68,319.73 L465.26,319.89 L465.83,320.05 L466.41,320.20 L466.98,320.36 L467.54,320.51 L468.10,320.66 L468.65,320.81 L469.20,320.96 L469.75,321.10 L470.28,321.25 L470.82,321.39 L471.34,321.53 L471.85,321.66 L472.36,321.80 L472.86,321.93 L473.35,322.06 L473.83,322.19 L474.31,322.32 L474.77,322.44 L475.22,322.56 L475.66,322.68 L476.09,322.79 L476.51,322.90 L476.91,323.01 L477.30,323.12 L477.68,323.22 L478.05,323.31 L478.40,323.41 L478.74,323.50 L479.06,323.59 L479.37,323.67 L479.66,323.75 L479.94,323.83 L480.20,323.90" fill="none" stroke="#000" stroke-width="2.0" stroke-linejoin="round" stroke-linecap="butt"/>
<line x1="402.90" y1="234.40" x2="423.90" y2="234.40" stroke="#000" stroke-width="2.2"/>
<text x="425.20" y="238.10" font-family="Liberation Serif" font-size="10.7" text-anchor="start" fill="#555" stroke="#555" stroke-width="0.12" >Wild boar</text>
<line x1="402.90" y1="250.65" x2="423.90" y2="250.65" stroke="#1f6fba" stroke-width="2.2"/>
<text x="425.20" y="254.35" font-family="Liberation Serif" font-size="10.7" text-anchor="start" fill="#555" stroke="#555" stroke-width="0.12" >Sika deer</text>
<line x1="402.90" y1="266.90" x2="423.90" y2="266.90" stroke="#1ea64c" stroke-width="2.2"/>
<text x="425.20" y="270.60" font-family="Liberation Serif" font-size="10.7" text-anchor="start" fill="#555" stroke="#555" stroke-width="0.12" >Black bear</text></svg></body></html>
